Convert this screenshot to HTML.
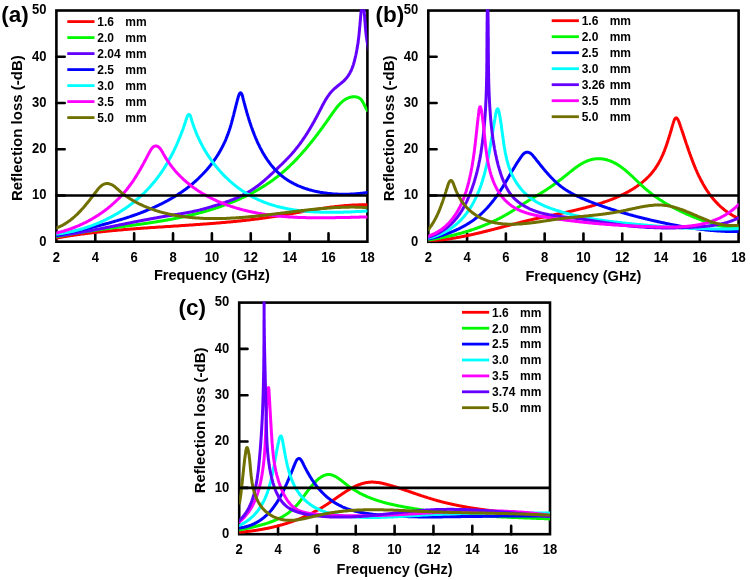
<!DOCTYPE html><html><head><meta charset="utf-8"><style>html,body{margin:0;padding:0;background:#fff;}svg{display:block;will-change:transform;filter:blur(0.3px);}text{font-family:"Liberation Sans",sans-serif;font-weight:bold;fill:#000;}</style></head><body>
<svg width="750" height="580" viewBox="0 0 750 580">
<rect width="750" height="580" fill="#fff"/>
<defs><clipPath id="c0"><rect x="56.40" y="9.30" width="311.00" height="232.40"/></clipPath></defs>
<rect x="56.40" y="10.50" width="311.00" height="231.20" fill="none" stroke="#000" stroke-width="2.6"/>
<path d="M95.28,241.70V233.40 M134.15,241.70V233.40 M173.03,241.70V233.40 M211.90,241.70V233.40 M250.78,241.70V233.40 M289.65,241.70V233.40 M328.52,241.70V233.40 M56.40,195.46H64.70 M56.40,149.22H64.70 M56.40,102.98H64.70 M56.40,56.74H64.70" stroke="#000" stroke-width="2.6" stroke-linecap="round" fill="none"/>
<text transform="translate(56.40,261.60) scale(0.930,1)" font-size="14.0" text-anchor="middle">2</text>
<text transform="translate(95.28,261.60) scale(0.930,1)" font-size="14.0" text-anchor="middle">4</text>
<text transform="translate(134.15,261.60) scale(0.930,1)" font-size="14.0" text-anchor="middle">6</text>
<text transform="translate(173.03,261.60) scale(0.930,1)" font-size="14.0" text-anchor="middle">8</text>
<text transform="translate(211.90,261.60) scale(0.930,1)" font-size="14.0" text-anchor="middle">10</text>
<text transform="translate(250.78,261.60) scale(0.930,1)" font-size="14.0" text-anchor="middle">12</text>
<text transform="translate(289.65,261.60) scale(0.930,1)" font-size="14.0" text-anchor="middle">14</text>
<text transform="translate(328.52,261.60) scale(0.930,1)" font-size="14.0" text-anchor="middle">16</text>
<text transform="translate(367.40,261.60) scale(0.930,1)" font-size="14.0" text-anchor="middle">18</text>
<text transform="translate(46.40,245.50) scale(0.930,1)" font-size="14.0" text-anchor="end">0</text>
<text transform="translate(46.40,199.26) scale(0.930,1)" font-size="14.0" text-anchor="end">10</text>
<text transform="translate(46.40,153.02) scale(0.930,1)" font-size="14.0" text-anchor="end">20</text>
<text transform="translate(46.40,106.78) scale(0.930,1)" font-size="14.0" text-anchor="end">30</text>
<text transform="translate(46.40,60.54) scale(0.930,1)" font-size="14.0" text-anchor="end">40</text>
<text transform="translate(46.40,14.30) scale(0.930,1)" font-size="14.0" text-anchor="end">50</text>
<g clip-path="url(#c0)" fill="none" stroke-width="3" stroke-linejoin="round" stroke-linecap="round">
<path d="M56.4,238.0L57.1,237.9 57.8,237.8 58.5,237.6 59.2,237.5 59.9,237.4 60.6,237.3 61.2,237.2 61.9,237.0 62.6,236.9 63.3,236.8 64.0,236.7 64.7,236.6 65.4,236.5 66.1,236.4 66.8,236.3 67.5,236.1 68.2,236.0 68.9,235.9 69.6,235.8 70.3,235.7 71.0,235.6 71.7,235.5 72.4,235.4 73.0,235.3 73.7,235.2 74.4,235.1 75.1,235.0 75.8,234.9 76.5,234.8 77.2,234.7 77.9,234.6 78.6,234.5 79.3,234.4 80.0,234.3 80.7,234.2 81.4,234.1 82.1,234.0 82.8,233.9 83.5,233.9 84.2,233.8 84.9,233.7 85.6,233.6 86.3,233.5 87.0,233.4 87.7,233.3 88.4,233.2 89.1,233.2 89.8,233.1 90.5,233.0 91.1,232.9 91.8,232.8 92.5,232.7 93.2,232.7 93.9,232.6 94.6,232.5 95.3,232.4 96.0,232.3 96.7,232.3 97.4,232.2 98.1,232.1 98.8,232.0 99.5,232.0 100.2,231.9 100.9,231.8 101.6,231.7 102.3,231.7 103.0,231.6 103.7,231.5 104.4,231.4 105.1,231.4 105.8,231.3 106.5,231.2 107.2,231.2 107.9,231.1 108.6,231.0 109.3,230.9 110.0,230.9 110.7,230.8 111.4,230.7 112.1,230.7 112.8,230.6 113.5,230.6 114.2,230.5 114.9,230.4 115.6,230.4 116.3,230.3 117.0,230.2 117.7,230.2 118.4,230.1 119.1,230.0 119.8,230.0 120.5,229.9 121.2,229.9 121.9,229.8 122.6,229.7 123.3,229.7 124.0,229.6 124.7,229.6 125.4,229.5 126.1,229.5 126.8,229.4 127.5,229.3 128.2,229.3 128.9,229.2 129.6,229.2 130.3,229.1 131.0,229.1 131.7,229.0 132.4,229.0 133.1,228.9 133.8,228.8 134.5,228.8 135.2,228.7 135.9,228.7 136.6,228.6 137.3,228.6 138.0,228.5 138.7,228.5 139.4,228.4 140.1,228.4 140.8,228.3 141.5,228.3 142.2,228.2 142.9,228.2 143.6,228.1 144.3,228.1 145.0,228.0 145.7,228.0 146.4,227.9 147.1,227.9 147.8,227.8 148.5,227.8 149.2,227.7 149.9,227.7 150.6,227.6 151.3,227.6 152.0,227.5 152.7,227.5 153.4,227.5 154.1,227.4 154.8,227.4 155.5,227.3 156.2,227.3 156.9,227.2 157.6,227.2 158.3,227.1 159.0,227.1 159.7,227.0 160.4,227.0 161.1,226.9 161.8,226.9 162.6,226.9 163.3,226.8 164.0,226.8 164.7,226.7 165.4,226.7 166.1,226.6 166.8,226.6 167.5,226.5 168.2,226.5 168.9,226.4 169.6,226.4 170.3,226.4 171.0,226.3 171.7,226.3 172.4,226.2 173.1,226.2 173.8,226.1 174.5,226.1 175.2,226.0 175.9,226.0 176.6,225.9 177.3,225.9 178.0,225.9 178.7,225.8 179.4,225.8 180.1,225.7 180.8,225.7 181.5,225.6 182.2,225.6 182.9,225.5 183.6,225.5 184.3,225.4 185.0,225.4 185.7,225.3 186.4,225.3 187.1,225.3 187.8,225.2 188.5,225.2 189.2,225.1 189.9,225.1 190.6,225.0 191.3,225.0 192.0,224.9 192.7,224.9 193.4,224.8 194.1,224.8 194.8,224.7 195.5,224.7 196.2,224.6 196.9,224.6 197.6,224.5 198.3,224.5 199.0,224.4 199.7,224.4 200.4,224.3 201.1,224.3 201.8,224.2 202.5,224.2 203.2,224.1 203.9,224.1 204.6,224.0 205.3,224.0 206.0,223.9 206.7,223.9 207.4,223.8 208.1,223.8 208.8,223.7 209.5,223.7 210.2,223.6 210.9,223.6 211.6,223.5 212.3,223.4 213.0,223.4 213.7,223.3 214.4,223.3 215.1,223.2 215.8,223.2 216.5,223.1 217.2,223.0 217.9,223.0 218.6,222.9 219.3,222.9 220.0,222.8 220.7,222.8 221.4,222.7 222.1,222.6 222.8,222.6 223.5,222.5 224.2,222.4 224.9,222.4 225.6,222.3 226.3,222.3 227.0,222.2 227.7,222.1 228.4,222.1 229.1,222.0 229.8,221.9 230.5,221.9 231.2,221.8 231.9,221.7 232.6,221.7 233.3,221.6 234.0,221.5 234.7,221.5 235.4,221.4 236.1,221.3 236.8,221.3 237.5,221.2 238.2,221.1 238.9,221.0 239.6,221.0 240.3,220.9 241.0,220.8 241.7,220.7 242.4,220.7 243.1,220.6 243.8,220.5 244.5,220.4 245.2,220.4 245.9,220.3 246.6,220.2 247.3,220.1 248.0,220.1 248.7,220.0 249.4,219.9 250.1,219.8 250.8,219.7 251.4,219.6 252.1,219.6 252.8,219.5 253.5,219.4 254.2,219.3 254.9,219.2 255.6,219.1 256.3,219.0 257.0,219.0 257.7,218.9 258.4,218.8 259.1,218.7 259.8,218.6 260.5,218.5 261.2,218.4 261.9,218.3 262.6,218.2 263.3,218.1 264.0,218.0 264.7,217.9 265.4,217.8 266.1,217.7 266.8,217.6 267.4,217.5 268.1,217.4 268.8,217.3 269.5,217.2 270.2,217.1 270.9,217.0 271.6,216.9 272.3,216.8 273.0,216.7 273.7,216.6 274.4,216.5 275.1,216.4 275.8,216.3 276.5,216.2 277.2,216.0 277.8,215.9 278.5,215.8 279.2,215.7 279.9,215.6 280.6,215.5 281.3,215.4 282.0,215.2 282.7,215.1 283.4,215.0 284.1,214.9 284.8,214.8 285.5,214.7 286.2,214.5 286.8,214.4 287.5,214.3 288.2,214.2 288.9,214.1 289.6,213.9 290.3,213.8 291.0,213.7 291.7,213.6 292.4,213.5 293.1,213.3 293.8,213.2 294.5,213.1 295.1,213.0 295.8,212.8 296.5,212.7 297.2,212.6 297.9,212.5 298.6,212.4 299.3,212.2 300.0,212.1 300.7,212.0 301.4,211.9 302.1,211.7 302.8,211.6 303.4,211.5 304.1,211.4 304.8,211.3 305.5,211.1 306.2,211.0 306.9,210.9 307.6,210.8 308.3,210.7 309.0,210.5 309.7,210.4 310.4,210.3 311.0,210.2 311.7,210.1 312.4,210.0 313.1,209.9 313.8,209.7 314.5,209.6 315.2,209.5 315.9,209.4 316.6,209.3 317.3,209.2 318.0,209.1 318.7,209.0 319.3,208.8 320.0,208.7 320.7,208.6 321.4,208.5 322.1,208.4 322.8,208.3 323.5,208.2 324.2,208.1 324.9,208.0 325.6,207.9 326.3,207.8 327.0,207.7 327.7,207.6 328.4,207.5 329.0,207.4 329.7,207.3 330.4,207.2 331.1,207.1 331.8,207.1 332.5,207.0 333.2,206.9 333.9,206.8 334.6,206.7 335.3,206.6 336.0,206.5 336.7,206.5 337.4,206.4 338.1,206.3 338.8,206.2 339.5,206.2 340.2,206.1 340.8,206.0 341.5,205.9 342.2,205.9 342.9,205.8 343.6,205.8 344.3,205.7 345.0,205.6 345.7,205.6 346.4,205.5 347.1,205.5 347.8,205.4 348.5,205.4 349.2,205.3 349.9,205.3 350.6,205.2 351.3,205.2 352.0,205.1 352.7,205.1 353.4,205.1 354.1,205.0 354.8,205.0 355.5,205.0 356.2,204.9 356.9,204.9 357.6,204.9 358.3,204.9 359.0,204.8 359.7,204.8 360.4,204.8 361.1,204.8 361.8,204.8 362.5,204.8 363.2,204.8 363.9,204.8 364.6,204.8 365.3,204.8 366.0,204.8 366.7,204.8 367.4,204.8" stroke="#ff0000"/>
<path d="M56.4,236.8L57.1,236.7 57.8,236.5 58.5,236.4 59.1,236.2 59.8,236.1 60.5,236.0 61.2,235.8 61.9,235.7 62.6,235.6 63.3,235.5 63.9,235.3 64.6,235.2 65.3,235.1 66.0,234.9 66.7,234.8 67.4,234.7 68.1,234.6 68.8,234.4 69.5,234.3 70.1,234.2 70.8,234.1 71.5,234.0 72.2,233.8 72.9,233.7 73.6,233.6 74.3,233.5 75.0,233.4 75.7,233.3 76.4,233.1 77.1,233.0 77.7,232.9 78.4,232.8 79.1,232.7 79.8,232.6 80.5,232.5 81.2,232.4 81.9,232.3 82.6,232.1 83.3,232.0 84.0,231.9 84.7,231.8 85.4,231.7 86.1,231.6 86.8,231.5 87.4,231.4 88.1,231.3 88.8,231.2 89.5,231.1 90.2,231.0 90.9,230.9 91.6,230.8 92.3,230.7 93.0,230.6 93.7,230.5 94.4,230.4 95.1,230.3 95.8,230.2 96.5,230.1 97.2,230.0 97.9,229.9 98.6,229.8 99.3,229.7 100.0,229.6 100.7,229.5 101.3,229.4 102.0,229.3 102.7,229.2 103.4,229.1 104.1,229.1 104.8,229.0 105.5,228.9 106.2,228.8 106.9,228.7 107.6,228.6 108.3,228.5 109.0,228.4 109.7,228.3 110.4,228.2 111.1,228.1 111.8,228.0 112.5,227.9 113.2,227.8 113.9,227.8 114.6,227.7 115.3,227.6 116.0,227.5 116.7,227.4 117.4,227.3 118.1,227.2 118.8,227.1 119.5,227.0 120.2,226.9 120.9,226.8 121.6,226.7 122.2,226.6 122.9,226.6 123.6,226.5 124.3,226.4 125.0,226.3 125.7,226.2 126.4,226.1 127.1,226.0 127.8,225.9 128.5,225.8 129.2,225.7 129.9,225.6 130.6,225.5 131.3,225.4 132.0,225.3 132.7,225.2 133.4,225.2 134.1,225.1 134.8,225.0 135.5,224.9 136.2,224.8 136.9,224.7 137.6,224.6 138.3,224.5 139.0,224.4 139.7,224.3 140.4,224.2 141.1,224.1 141.7,224.0 142.4,223.9 143.1,223.8 143.8,223.7 144.5,223.6 145.2,223.5 145.9,223.4 146.6,223.3 147.3,223.2 148.0,223.1 148.7,223.0 149.4,222.9 150.1,222.8 150.8,222.7 151.5,222.6 152.2,222.4 152.9,222.3 153.6,222.2 154.3,222.1 154.9,222.0 155.6,221.9 156.3,221.8 157.0,221.7 157.7,221.6 158.4,221.5 159.1,221.3 159.8,221.2 160.5,221.1 161.2,221.0 161.9,220.9 162.6,220.8 163.3,220.6 163.9,220.5 164.6,220.4 165.3,220.3 166.0,220.2 166.7,220.0 167.4,219.9 168.1,219.8 168.8,219.7 169.5,219.5 170.2,219.4 170.8,219.3 171.5,219.2 172.2,219.0 172.9,218.9 173.6,218.8 174.3,218.6 175.0,218.5 175.7,218.4 176.3,218.2 177.0,218.1 177.7,218.0 178.4,217.8 179.1,217.7 179.8,217.5 180.5,217.4 181.2,217.2 181.8,217.1 182.5,217.0 183.2,216.8 183.9,216.7 184.6,216.5 185.3,216.4 185.9,216.2 186.6,216.1 187.3,215.9 188.0,215.7 188.7,215.6 189.4,215.4 190.0,215.3 190.7,215.1 191.4,215.0 192.1,214.8 192.8,214.6 193.4,214.5 194.1,214.3 194.8,214.1 195.5,214.0 196.2,213.8 196.8,213.6 197.5,213.4 198.2,213.3 198.9,213.1 199.6,212.9 200.2,212.7 200.9,212.5 201.6,212.4 202.3,212.2 202.9,212.0 203.6,211.8 204.3,211.6 205.0,211.4 205.6,211.2 206.3,211.0 207.0,210.8 207.7,210.6 208.3,210.4 209.0,210.2 209.7,210.0 210.3,209.8 211.0,209.6 211.7,209.4 212.4,209.2 213.0,209.0 213.7,208.8 214.4,208.6 215.0,208.4 215.7,208.2 216.4,207.9 217.0,207.7 217.7,207.5 218.4,207.3 219.0,207.0 219.7,206.8 220.4,206.6 221.0,206.3 221.7,206.1 222.4,205.9 223.0,205.6 223.7,205.4 224.3,205.2 225.0,204.9 225.7,204.7 226.3,204.4 227.0,204.2 227.6,203.9 228.3,203.7 229.0,203.4 229.6,203.2 230.3,202.9 230.9,202.7 231.6,202.4 232.2,202.1 232.9,201.9 233.5,201.6 234.2,201.3 234.8,201.1 235.5,200.8 236.1,200.5 236.8,200.2 237.4,200.0 238.1,199.7 238.7,199.4 239.4,199.1 240.0,198.8 240.6,198.5 241.3,198.2 241.9,197.9 242.5,197.7 243.2,197.4 243.8,197.1 244.5,196.8 245.1,196.5 245.7,196.1 246.3,195.8 247.0,195.5 247.6,195.2 248.2,194.9 248.9,194.6 249.5,194.3 250.1,194.0 250.7,193.6 251.3,193.3 252.0,193.0 252.6,192.7 253.2,192.3 253.8,192.0 254.4,191.7 255.0,191.3 255.7,191.0 256.3,190.6 256.9,190.3 257.5,189.9 258.1,189.6 258.7,189.3 259.3,188.9 259.9,188.5 260.5,188.2 261.1,187.8 261.7,187.5 262.3,187.1 262.9,186.7 263.5,186.4 264.0,186.0 264.6,185.6 265.2,185.3 265.8,184.9 266.4,184.5 267.0,184.1 267.5,183.7 268.1,183.3 268.7,183.0 269.3,182.6 269.8,182.2 270.4,181.8 271.0,181.4 271.6,181.0 272.1,180.6 272.7,180.2 273.2,179.8 273.8,179.4 274.4,178.9 274.9,178.5 275.5,178.1 276.0,177.7 276.6,177.3 277.1,176.8 277.7,176.4 278.2,176.0 278.7,175.6 279.3,175.1 279.8,174.7 280.4,174.2 280.9,173.8 281.4,173.4 282.0,172.9 282.5,172.5 283.0,172.0 283.5,171.6 284.1,171.1 284.6,170.7 285.1,170.2 285.6,169.7 286.1,169.3 286.6,168.8 287.2,168.3 287.7,167.9 288.2,167.4 288.7,166.9 289.2,166.5 289.7,166.0 290.2,165.5 290.7,165.0 291.2,164.5 291.7,164.0 292.2,163.6 292.7,163.1 293.2,162.6 293.7,162.1 294.2,161.6 294.6,161.1 295.1,160.6 295.6,160.1 296.1,159.6 296.6,159.1 297.1,158.6 297.5,158.1 298.0,157.6 298.5,157.0 299.0,156.5 299.5,156.0 299.9,155.5 300.4,155.0 300.9,154.5 301.3,153.9 301.8,153.4 302.3,152.9 302.7,152.4 303.2,151.8 303.7,151.3 304.1,150.8 304.6,150.2 305.1,149.7 305.5,149.2 306.0,148.6 306.4,148.1 306.9,147.5 307.3,147.0 307.8,146.5 308.2,145.9 308.7,145.4 309.1,144.8 309.6,144.3 310.0,143.7 310.5,143.2 310.9,142.6 311.4,142.1 311.8,141.5 312.3,140.9 312.7,140.4 313.1,139.8 313.6,139.3 314.0,138.7 314.5,138.1 314.9,137.6 315.3,137.0 315.8,136.4 316.2,135.9 316.6,135.3 317.1,134.7 317.5,134.2 317.9,133.6 318.4,133.0 318.8,132.4 319.2,131.8 319.7,131.3 320.1,130.7 320.5,130.1 321.0,129.5 321.4,128.9 321.8,128.4 322.2,127.8 322.7,127.2 323.1,126.6 323.5,126.0 323.9,125.4 324.3,124.8 324.8,124.3 325.2,123.7 325.6,123.1 326.0,122.5 326.5,121.9 326.9,121.3 327.3,120.7 327.7,120.1 328.1,119.5 328.6,118.9 329.0,118.3 329.4,117.7 329.8,117.1 330.2,116.5 330.6,115.9 331.1,115.3 331.5,114.7 331.9,114.1 332.3,113.5 332.7,112.9 333.1,112.3 333.6,111.7 334.0,111.2 334.4,110.6 334.8,110.0 335.3,109.4 335.7,108.8 336.1,108.3 336.6,107.7 337.0,107.2 337.4,106.6 337.9,106.1 338.3,105.6 338.8,105.1 339.2,104.6 339.7,104.1 340.2,103.6 340.6,103.1 341.1,102.7 341.6,102.2 342.1,101.8 342.5,101.4 343.0,101.0 343.5,100.6 344.1,100.2 344.6,99.8 345.1,99.5 345.6,99.2 346.2,98.9 346.7,98.6 347.2,98.3 347.8,98.1 348.4,97.8 348.9,97.6 349.5,97.4 350.1,97.3 350.7,97.1 351.3,97.0 351.9,96.9 352.6,96.8 353.2,96.8 353.9,96.8 354.5,96.8 355.2,96.8 355.8,96.9 356.4,97.0 357.1,97.1 357.7,97.3 358.3,97.5 358.9,97.8 359.5,98.2 360.1,98.6 360.6,99.0 361.1,99.5 361.6,100.1 362.0,100.7 362.4,101.3 362.8,102.0 363.2,102.7 363.6,103.4 364.0,104.1 364.3,104.9 364.7,105.6 365.0,106.3 365.3,107.0 365.7,107.7 366.0,108.3 366.3,108.9 366.7,109.5 367.0,110.0 367.4,110.5" stroke="#00f800"/>
<path d="M56.4,236.0L57.1,235.9 57.8,235.8 58.5,235.7 59.2,235.6 59.9,235.6 60.6,235.5 61.3,235.4 62.0,235.3 62.7,235.2 63.4,235.1 64.1,235.0 64.7,234.9 65.4,234.8 66.1,234.7 66.8,234.6 67.5,234.5 68.2,234.4 68.9,234.3 69.6,234.2 70.3,234.1 71.0,233.9 71.7,233.8 72.4,233.7 73.1,233.6 73.8,233.5 74.5,233.4 75.1,233.3 75.8,233.2 76.5,233.1 77.2,232.9 77.9,232.8 78.6,232.7 79.3,232.6 80.0,232.5 80.7,232.4 81.4,232.2 82.1,232.1 82.8,232.0 83.4,231.9 84.1,231.8 84.8,231.6 85.5,231.5 86.2,231.4 86.9,231.3 87.6,231.1 88.3,231.0 89.0,230.9 89.7,230.8 90.4,230.6 91.0,230.5 91.7,230.4 92.4,230.3 93.1,230.1 93.8,230.0 94.5,229.9 95.2,229.7 95.9,229.6 96.6,229.5 97.2,229.3 97.9,229.2 98.6,229.1 99.3,228.9 100.0,228.8 100.7,228.7 101.4,228.5 102.1,228.4 102.8,228.3 103.4,228.1 104.1,228.0 104.8,227.9 105.5,227.7 106.2,227.6 106.9,227.5 107.6,227.3 108.3,227.2 108.9,227.1 109.6,226.9 110.3,226.8 111.0,226.6 111.7,226.5 112.4,226.4 113.1,226.2 113.8,226.1 114.5,226.0 115.1,225.8 115.8,225.7 116.5,225.5 117.2,225.4 117.9,225.3 118.6,225.1 119.3,225.0 120.0,224.8 120.6,224.7 121.3,224.6 122.0,224.4 122.7,224.3 123.4,224.2 124.1,224.0 124.8,223.9 125.5,223.7 126.1,223.6 126.8,223.5 127.5,223.3 128.2,223.2 128.9,223.0 129.6,222.9 130.3,222.8 131.0,222.6 131.7,222.5 132.3,222.4 133.0,222.2 133.7,222.1 134.4,222.0 135.1,221.8 135.8,221.7 136.5,221.5 137.2,221.4 137.8,221.3 138.5,221.1 139.2,221.0 139.9,220.9 140.6,220.7 141.3,220.6 142.0,220.5 142.7,220.3 143.4,220.2 144.0,220.1 144.7,219.9 145.4,219.8 146.1,219.7 146.8,219.6 147.5,219.4 148.2,219.3 148.9,219.2 149.6,219.0 150.2,218.9 150.9,218.8 151.6,218.7 152.3,218.5 153.0,218.4 153.7,218.3 154.4,218.2 155.1,218.0 155.8,217.9 156.5,217.8 157.1,217.7 157.8,217.5 158.5,217.4 159.2,217.3 159.9,217.2 160.6,217.1 161.3,216.9 162.0,216.8 162.7,216.7 163.4,216.6 164.1,216.5 164.7,216.4 165.4,216.2 166.1,216.1 166.8,216.0 167.5,215.9 168.2,215.8 168.9,215.7 169.6,215.6 170.3,215.5 171.0,215.4 171.7,215.2 172.4,215.1 173.1,215.0 173.7,214.9 174.4,214.8 175.1,214.7 175.8,214.6 176.5,214.5 177.2,214.4 177.9,214.2 178.6,214.1 179.3,214.0 180.0,213.9 180.7,213.8 181.4,213.7 182.0,213.5 182.7,213.4 183.4,213.3 184.1,213.2 184.8,213.1 185.5,212.9 186.2,212.8 186.9,212.7 187.6,212.6 188.2,212.4 188.9,212.3 189.6,212.2 190.3,212.0 191.0,211.9 191.7,211.8 192.4,211.6 193.0,211.5 193.7,211.3 194.4,211.2 195.1,211.0 195.8,210.9 196.5,210.7 197.1,210.6 197.8,210.4 198.5,210.3 199.2,210.1 199.9,209.9 200.5,209.7 201.2,209.6 201.9,209.4 202.6,209.2 203.3,209.0 203.9,208.9 204.6,208.7 205.3,208.5 206.0,208.3 206.6,208.1 207.3,207.9 208.0,207.7 208.7,207.5 209.3,207.3 210.0,207.1 210.7,206.9 211.4,206.7 212.0,206.5 212.7,206.3 213.4,206.1 214.0,205.9 214.7,205.7 215.4,205.5 216.1,205.3 216.7,205.1 217.4,204.9 218.1,204.7 218.7,204.5 219.4,204.3 220.1,204.0 220.8,203.8 221.4,203.6 222.1,203.4 222.8,203.2 223.4,202.9 224.1,202.7 224.8,202.5 225.4,202.3 226.1,202.0 226.8,201.8 227.4,201.5 228.1,201.3 228.7,201.1 229.4,200.8 230.1,200.6 230.7,200.3 231.4,200.1 232.0,199.8 232.7,199.6 233.3,199.3 234.0,199.0 234.6,198.8 235.3,198.5 235.9,198.2 236.6,198.0 237.2,197.7 237.8,197.4 238.5,197.1 239.1,196.8 239.7,196.5 240.4,196.2 241.0,195.9 241.6,195.6 242.3,195.3 242.9,195.0 243.5,194.7 244.1,194.4 244.7,194.1 245.4,193.7 246.0,193.4 246.6,193.1 247.2,192.7 247.8,192.4 248.4,192.0 249.0,191.7 249.6,191.3 250.2,191.0 250.8,190.6 251.4,190.2 252.0,189.9 252.5,189.5 253.1,189.1 253.7,188.7 254.3,188.3 254.8,187.9 255.4,187.5 256.0,187.1 256.5,186.7 257.1,186.3 257.7,185.9 258.2,185.4 258.8,185.0 259.3,184.6 259.9,184.1 260.4,183.7 261.0,183.3 261.5,182.8 262.1,182.4 262.6,181.9 263.1,181.5 263.7,181.0 264.2,180.6 264.7,180.1 265.3,179.6 265.8,179.2 266.3,178.7 266.9,178.3 267.4,177.8 267.9,177.3 268.4,176.8 269.0,176.4 269.5,175.9 270.0,175.4 270.5,174.9 271.0,174.4 271.6,174.0 272.1,173.5 272.6,173.0 273.1,172.5 273.6,172.0 274.1,171.5 274.6,171.0 275.2,170.6 275.7,170.1 276.2,169.6 276.7,169.1 277.2,168.6 277.7,168.1 278.2,167.6 278.7,167.1 279.2,166.7 279.7,166.2 280.2,165.7 280.8,165.2 281.3,164.7 281.8,164.2 282.3,163.7 282.8,163.2 283.3,162.7 283.8,162.2 284.3,161.7 284.8,161.2 285.3,160.8 285.7,160.3 286.2,159.8 286.7,159.3 287.2,158.8 287.7,158.2 288.2,157.7 288.7,157.2 289.1,156.7 289.6,156.2 290.1,155.7 290.6,155.2 291.0,154.7 291.5,154.2 292.0,153.6 292.4,153.1 292.9,152.6 293.4,152.1 293.8,151.5 294.3,151.0 294.7,150.5 295.2,149.9 295.6,149.4 296.0,148.9 296.5,148.3 296.9,147.8 297.3,147.2 297.8,146.7 298.2,146.1 298.6,145.6 299.0,145.0 299.5,144.5 299.9,143.9 300.3,143.3 300.7,142.8 301.1,142.2 301.5,141.6 301.9,141.1 302.3,140.5 302.7,139.9 303.1,139.3 303.5,138.8 303.9,138.2 304.3,137.6 304.7,137.0 305.1,136.4 305.5,135.8 305.8,135.3 306.2,134.7 306.6,134.1 307.0,133.5 307.4,132.9 307.7,132.3 308.1,131.7 308.5,131.1 308.8,130.5 309.2,129.9 309.6,129.3 309.9,128.7 310.3,128.1 310.6,127.5 311.0,126.9 311.3,126.3 311.7,125.7 312.1,125.1 312.4,124.4 312.7,123.8 313.1,123.2 313.4,122.6 313.8,122.0 314.1,121.4 314.5,120.8 314.8,120.1 315.1,119.5 315.5,118.9 315.8,118.3 316.2,117.7 316.5,117.0 316.8,116.4 317.2,115.8 317.5,115.2 317.8,114.5 318.1,113.9 318.5,113.3 318.8,112.7 319.1,112.0 319.4,111.4 319.8,110.8 320.1,110.2 320.4,109.5 320.7,108.9 321.1,108.3 321.4,107.6 321.7,107.0 322.0,106.4 322.3,105.8 322.7,105.1 323.0,104.5 323.3,103.9 323.7,103.3 324.0,102.7 324.3,102.1 324.7,101.4 325.0,100.8 325.4,100.2 325.7,99.6 326.1,99.0 326.5,98.5 326.8,97.9 327.2,97.3 327.6,96.7 328.0,96.1 328.4,95.6 328.8,95.0 329.2,94.5 329.6,93.9 330.0,93.4 330.5,92.8 330.9,92.3 331.4,91.8 331.8,91.3 332.3,90.8 332.8,90.3 333.3,89.8 333.8,89.3 334.3,88.8 334.8,88.3 335.4,87.9 335.9,87.4 336.5,87.0 337.0,86.5 337.6,86.1 338.1,85.6 338.7,85.2 339.2,84.7 339.8,84.3 340.3,83.9 340.9,83.4 341.4,83.0 342.0,82.5 342.5,82.0 343.0,81.6 343.6,81.1 344.1,80.6 344.6,80.1 345.1,79.6 345.5,79.1 346.0,78.6 346.4,78.1 346.9,77.5 347.3,77.0 347.7,76.4 348.1,75.9 348.5,75.3 348.8,74.7 349.2,74.1 349.6,73.5 349.9,72.9 350.2,72.3 350.5,71.7 350.9,71.1 351.2,70.5 351.4,69.8 351.7,69.2 352.0,68.5 352.2,67.9 352.5,67.2 352.7,66.6 353.0,65.9 353.2,65.2 353.4,64.6 353.6,63.9 353.8,63.2 354.0,62.5 354.2,61.8 354.4,61.2 354.5,60.5 354.7,59.8 354.9,59.1 355.0,58.4 355.2,57.7 355.4,57.0 355.5,56.3 355.7,55.6 355.8,55.0 356.0,54.3 356.1,53.6 356.3,52.9 356.4,52.2 356.5,51.5 356.7,50.8 356.8,50.1 356.9,49.4 357.1,48.7 357.2,48.1 357.3,47.4 357.4,46.7 357.5,46.0 357.6,45.3 357.7,44.6 357.9,43.9 358.0,43.2 358.1,42.5 358.2,41.8 358.2,41.1 358.3,40.4 358.4,39.7 358.5,39.0 358.6,38.3 358.7,37.6 358.8,36.9 358.8,36.3 358.9,35.6 359.0,34.9 359.1,34.2 359.1,33.5 359.2,32.8 359.3,32.1 359.3,31.4 359.4,30.7 359.5,30.0 359.5,29.3 359.6,28.6 359.7,27.9 359.7,27.2 359.8,26.5 359.9,25.8 359.9,25.1 360.0,24.4 360.0,23.7 360.1,23.0 360.2,22.3 360.2,21.6 360.3,20.9 360.3,20.2 360.4,19.5 360.5,18.8 360.5,18.1 360.6,17.4 360.6,16.7 360.7,16.0 360.8,15.3 360.8,14.6 360.9,13.9 361.0,13.2 361.0,12.5 361.1,11.8 361.2,11.1 361.3,10.4 361.3,9.7 361.4,9.0 361.5,8.3 361.6,7.6 361.6,7.0 361.7,6.3 361.8,5.6 361.9,4.9 362.0,4.2 362.1,3.5 362.2,2.8 362.3,2.1 362.4,1.4 362.5,0.7 362.6,-0.0 362.7,0.7 362.8,1.4 363.0,2.1 363.1,2.8 363.2,3.5 363.3,4.2 363.4,4.9 363.5,5.6 363.6,6.3 363.7,7.0 363.7,7.7 363.8,8.4 363.9,9.1 364.0,9.8 364.1,10.5 364.1,11.2 364.2,12.0 364.3,12.7 364.3,13.4 364.4,14.1 364.4,14.8 364.5,15.5 364.6,16.2 364.6,16.9 364.7,17.6 364.7,18.3 364.8,19.0 364.8,19.7 364.9,20.4 364.9,21.2 365.0,21.9 365.1,22.6 365.1,23.3 365.2,24.0 365.2,24.7 365.3,25.4 365.3,26.1 365.4,26.8 365.4,27.5 365.5,28.2 365.6,28.9 365.6,29.7 365.7,30.4 365.7,31.1 365.8,31.8 365.9,32.5 366.0,33.2 366.0,33.9 366.1,34.6 366.2,35.3 366.3,36.0 366.4,36.7 366.5,37.4 366.6,38.1 366.7,38.8 366.8,39.5 366.9,40.2 367.0,40.9 367.1,41.6 367.2,42.3 367.4,43.0 367.5,43.7 367.6,44.4 367.8,45.1 367.9,45.8 368.1,46.5 368.2,47.2 368.4,47.9 368.6,48.6 368.7,49.2 368.9,49.9 369.1,50.6 369.3,51.3 369.5,52.0" stroke="#6400ff"/>
<path d="M56.4,235.5L57.1,235.4 57.7,235.2 58.4,235.1 59.0,234.9 59.7,234.8 60.3,234.6 61.0,234.5 61.7,234.3 62.3,234.2 63.0,234.0 63.6,233.9 64.3,233.7 65.0,233.6 65.6,233.4 66.3,233.3 67.0,233.1 67.6,233.0 68.3,232.8 69.0,232.7 69.6,232.5 70.3,232.4 71.0,232.2 71.7,232.1 72.3,231.9 73.0,231.8 73.7,231.6 74.4,231.5 75.0,231.3 75.7,231.2 76.4,231.0 77.1,230.8 77.8,230.7 78.4,230.5 79.1,230.4 79.8,230.2 80.5,230.1 81.2,229.9 81.8,229.8 82.5,229.6 83.2,229.4 83.9,229.3 84.6,229.1 85.3,229.0 85.9,228.8 86.6,228.6 87.3,228.5 88.0,228.3 88.7,228.1 89.4,228.0 90.1,227.8 90.7,227.7 91.4,227.5 92.1,227.3 92.8,227.2 93.5,227.0 94.2,226.8 94.9,226.6 95.6,226.5 96.3,226.3 96.9,226.1 97.6,226.0 98.3,225.8 99.0,225.6 99.7,225.4 100.4,225.3 101.1,225.1 101.8,224.9 102.5,224.7 103.2,224.5 103.9,224.4 104.5,224.2 105.2,224.0 105.9,223.8 106.6,223.6 107.3,223.4 108.0,223.3 108.7,223.1 109.4,222.9 110.1,222.7 110.8,222.5 111.4,222.3 112.1,222.1 112.8,221.9 113.5,221.7 114.2,221.5 114.9,221.3 115.6,221.1 116.3,220.9 117.0,220.7 117.6,220.5 118.3,220.3 119.0,220.1 119.7,219.9 120.4,219.7 121.1,219.5 121.8,219.3 122.4,219.1 123.1,218.9 123.8,218.7 124.5,218.4 125.2,218.2 125.9,218.0 126.5,217.8 127.2,217.6 127.9,217.3 128.6,217.1 129.3,216.9 129.9,216.7 130.6,216.4 131.3,216.2 132.0,216.0 132.6,215.7 133.3,215.5 134.0,215.3 134.7,215.0 135.3,214.8 136.0,214.6 136.7,214.3 137.3,214.1 138.0,213.8 138.7,213.6 139.4,213.3 140.0,213.1 140.7,212.8 141.4,212.6 142.0,212.3 142.7,212.1 143.3,211.8 144.0,211.5 144.7,211.3 145.3,211.0 146.0,210.8 146.6,210.5 147.3,210.2 148.0,209.9 148.6,209.7 149.3,209.4 149.9,209.1 150.6,208.8 151.2,208.6 151.9,208.3 152.5,208.0 153.2,207.7 153.8,207.4 154.5,207.1 155.1,206.8 155.7,206.5 156.4,206.2 157.0,206.0 157.7,205.7 158.3,205.3 158.9,205.0 159.6,204.7 160.2,204.4 160.8,204.1 161.5,203.8 162.1,203.5 162.7,203.2 163.3,202.9 164.0,202.5 164.6,202.2 165.2,201.9 165.8,201.6 166.4,201.2 167.1,200.9 167.7,200.6 168.3,200.2 168.9,199.9 169.5,199.5 170.1,199.2 170.7,198.8 171.3,198.5 171.9,198.1 172.5,197.8 173.1,197.4 173.7,197.1 174.3,196.7 174.9,196.4 175.5,196.0 176.1,195.6 176.7,195.3 177.3,194.9 177.9,194.5 178.5,194.1 179.0,193.7 179.6,193.4 180.2,193.0 180.8,192.6 181.4,192.2 181.9,191.8 182.5,191.4 183.1,191.0 183.6,190.6 184.2,190.2 184.8,189.8 185.3,189.4 185.9,189.0 186.4,188.6 187.0,188.2 187.5,187.7 188.1,187.3 188.6,186.9 189.2,186.5 189.7,186.0 190.3,185.6 190.8,185.2 191.4,184.7 191.9,184.3 192.4,183.8 193.0,183.4 193.5,182.9 194.0,182.5 194.5,182.0 195.1,181.6 195.6,181.1 196.1,180.6 196.6,180.2 197.1,179.7 197.6,179.2 198.1,178.7 198.6,178.3 199.1,177.8 199.6,177.3 200.1,176.8 200.6,176.3 201.1,175.8 201.6,175.3 202.1,174.8 202.6,174.3 203.1,173.8 203.5,173.3 204.0,172.8 204.5,172.3 205.0,171.8 205.4,171.3 205.9,170.8 206.3,170.2 206.8,169.7 207.3,169.2 207.7,168.6 208.2,168.1 208.6,167.6 209.1,167.0 209.5,166.5 209.9,166.0 210.4,165.4 210.8,164.9 211.2,164.3 211.6,163.8 212.1,163.2 212.5,162.6 212.9,162.1 213.3,161.5 213.7,161.0 214.1,160.4 214.5,159.8 214.9,159.2 215.3,158.7 215.7,158.1 216.1,157.5 216.5,156.9 216.9,156.3 217.2,155.8 217.6,155.2 218.0,154.6 218.4,154.0 218.7,153.4 219.1,152.8 219.4,152.2 219.8,151.6 220.1,151.0 220.5,150.4 220.8,149.8 221.2,149.1 221.5,148.5 221.8,147.9 222.1,147.3 222.5,146.7 222.8,146.0 223.1,145.4 223.4,144.8 223.7,144.2 224.0,143.5 224.3,142.9 224.6,142.3 224.9,141.6 225.2,141.0 225.5,140.3 225.7,139.7 226.0,139.1 226.3,138.4 226.5,137.8 226.8,137.1 227.1,136.4 227.3,135.8 227.6,135.1 227.8,134.5 228.1,133.8 228.3,133.1 228.5,132.5 228.8,131.8 229.0,131.1 229.2,130.5 229.4,129.8 229.6,129.1 229.9,128.5 230.1,127.8 230.3,127.1 230.5,126.4 230.7,125.7 230.9,125.1 231.1,124.4 231.3,123.7 231.5,123.0 231.7,122.3 231.8,121.7 232.0,121.0 232.2,120.3 232.4,119.6 232.6,118.9 232.8,118.2 232.9,117.5 233.1,116.8 233.3,116.2 233.5,115.5 233.7,114.8 233.8,114.1 234.0,113.4 234.2,112.7 234.3,112.0 234.5,111.3 234.7,110.6 234.9,110.0 235.0,109.3 235.2,108.6 235.4,107.9 235.6,107.2 235.7,106.5 235.9,105.8 236.1,105.1 236.3,104.5 236.4,103.8 236.6,103.1 236.8,102.4 237.0,101.7 237.1,101.0 237.3,100.4 237.5,99.7 237.7,99.0 237.9,98.3 238.1,97.7 238.2,97.0 238.6,95.9 238.9,95.1 239.2,94.3 239.5,93.7 239.8,93.3 240.1,93.0 240.4,92.8 240.7,92.8 241.0,92.9 241.2,93.2 241.5,93.6 241.8,94.2 242.1,94.9 242.4,95.8 242.7,96.8 242.8,97.5 243.0,98.2 243.2,98.8 243.3,99.5 243.5,100.2 243.7,100.8 243.9,101.5 244.0,102.2 244.2,102.9 244.4,103.5 244.6,104.2 244.8,104.9 244.9,105.6 245.1,106.3 245.3,106.9 245.5,107.6 245.7,108.3 245.9,109.0 246.1,109.7 246.3,110.4 246.5,111.1 246.6,111.7 246.8,112.4 247.0,113.1 247.2,113.8 247.4,114.5 247.6,115.2 247.9,115.9 248.1,116.6 248.3,117.2 248.5,117.9 248.7,118.6 248.9,119.3 249.1,120.0 249.3,120.7 249.6,121.4 249.8,122.1 250.0,122.7 250.2,123.4 250.5,124.1 250.7,124.8 250.9,125.5 251.2,126.2 251.4,126.9 251.6,127.5 251.9,128.2 252.1,128.9 252.4,129.6 252.6,130.3 252.9,130.9 253.1,131.6 253.4,132.3 253.7,133.0 253.9,133.6 254.2,134.3 254.4,135.0 254.7,135.7 255.0,136.3 255.3,137.0 255.5,137.7 255.8,138.3 256.1,139.0 256.4,139.6 256.7,140.3 257.0,141.0 257.2,141.6 257.5,142.3 257.8,142.9 258.1,143.6 258.4,144.2 258.8,144.8 259.1,145.5 259.4,146.1 259.7,146.8 260.0,147.4 260.3,148.0 260.7,148.7 261.0,149.3 261.3,149.9 261.7,150.5 262.0,151.1 262.3,151.8 262.7,152.4 263.0,153.0 263.4,153.6 263.7,154.2 264.1,154.8 264.5,155.4 264.8,156.0 265.2,156.6 265.6,157.2 265.9,157.8 266.3,158.3 266.7,158.9 267.1,159.5 267.5,160.1 267.9,160.6 268.3,161.2 268.7,161.8 269.1,162.3 269.5,162.9 269.9,163.4 270.3,164.0 270.7,164.5 271.2,165.0 271.6,165.6 272.0,166.1 272.5,166.6 272.9,167.1 273.4,167.6 273.8,168.2 274.3,168.7 274.7,169.2 275.2,169.7 275.6,170.2 276.1,170.6 276.6,171.1 277.1,171.6 277.5,172.1 278.0,172.5 278.5,173.0 279.0,173.5 279.5,173.9 280.0,174.4 280.5,174.8 281.0,175.3 281.6,175.7 282.1,176.1 282.6,176.5 283.1,176.9 283.7,177.4 284.2,177.8 284.8,178.2 285.3,178.6 285.9,178.9 286.4,179.3 287.0,179.7 287.6,180.1 288.1,180.4 288.7,180.8 289.3,181.2 289.9,181.5 290.5,181.9 291.1,182.2 291.7,182.5 292.3,182.9 292.9,183.2 293.5,183.5 294.1,183.8 294.7,184.1 295.3,184.4 295.9,184.7 296.6,185.0 297.2,185.3 297.8,185.6 298.5,185.9 299.1,186.1 299.8,186.4 300.4,186.7 301.0,186.9 301.7,187.2 302.4,187.4 303.0,187.7 303.7,187.9 304.3,188.2 305.0,188.4 305.7,188.6 306.3,188.8 307.0,189.0 307.7,189.3 308.4,189.5 309.0,189.7 309.7,189.9 310.4,190.0 311.1,190.2 311.8,190.4 312.5,190.6 313.2,190.8 313.9,190.9 314.6,191.1 315.3,191.3 316.0,191.4 316.7,191.6 317.4,191.7 318.1,191.9 318.8,192.0 319.5,192.1 320.2,192.3 320.9,192.4 321.6,192.5 322.3,192.6 323.0,192.7 323.7,192.8 324.5,192.9 325.2,193.0 325.9,193.1 326.6,193.2 327.3,193.3 328.1,193.4 328.8,193.5 329.5,193.6 330.2,193.6 330.9,193.7 331.7,193.8 332.4,193.8 333.1,193.9 333.8,193.9 334.5,194.0 335.3,194.0 336.0,194.1 336.7,194.1 337.4,194.1 338.1,194.2 338.9,194.2 339.6,194.2 340.3,194.2 341.0,194.2 341.7,194.3 342.5,194.3 343.2,194.3 343.9,194.3 344.6,194.3 345.3,194.3 346.0,194.3 346.8,194.2 347.5,194.2 348.2,194.2 348.9,194.2 349.6,194.2 350.3,194.1 351.0,194.1 351.7,194.1 352.4,194.0 353.1,194.0 353.8,193.9 354.5,193.9 355.2,193.8 355.9,193.8 356.6,193.7 357.3,193.7 358.0,193.6 358.7,193.5 359.4,193.5 360.0,193.4 360.7,193.3 361.4,193.2 362.1,193.2 362.8,193.1 363.4,193.0 364.1,192.9 364.8,192.8 365.4,192.7 366.1,192.6 366.7,192.5 367.4,192.4" stroke="#0000ff"/>
<path d="M56.4,234.2L57.1,234.1 57.8,234.0 58.5,233.9 59.2,233.8 59.9,233.7 60.7,233.6 61.4,233.5 62.1,233.4 62.8,233.3 63.5,233.1 64.2,233.0 64.9,232.9 65.6,232.8 66.3,232.6 67.0,232.5 67.7,232.4 68.4,232.2 69.1,232.1 69.8,231.9 70.5,231.8 71.2,231.6 71.9,231.5 72.6,231.3 73.3,231.2 74.0,231.0 74.7,230.8 75.4,230.7 76.0,230.5 76.7,230.3 77.4,230.1 78.1,229.9 78.8,229.8 79.5,229.6 80.2,229.4 80.8,229.2 81.5,229.0 82.2,228.8 82.9,228.6 83.6,228.4 84.2,228.2 84.9,227.9 85.6,227.7 86.3,227.5 86.9,227.3 87.6,227.1 88.3,226.8 89.0,226.6 89.6,226.4 90.3,226.1 91.0,225.9 91.6,225.7 92.3,225.4 92.9,225.2 93.6,224.9 94.3,224.7 94.9,224.4 95.6,224.1 96.2,223.9 96.9,223.6 97.5,223.4 98.2,223.1 98.8,222.8 99.5,222.5 100.1,222.3 100.8,222.0 101.4,221.7 102.1,221.4 102.7,221.1 103.4,220.8 104.0,220.5 104.6,220.2 105.3,219.9 105.9,219.6 106.5,219.3 107.2,219.0 107.8,218.7 108.4,218.4 109.0,218.0 109.7,217.7 110.3,217.4 110.9,217.1 111.5,216.7 112.1,216.4 112.8,216.1 113.4,215.7 114.0,215.4 114.6,215.0 115.2,214.7 115.8,214.4 116.4,214.0 117.0,213.6 117.6,213.3 118.2,212.9 118.8,212.6 119.4,212.2 120.0,211.8 120.6,211.5 121.2,211.1 121.8,210.7 122.4,210.3 122.9,209.9 123.5,209.6 124.1,209.2 124.7,208.8 125.3,208.4 125.8,208.0 126.4,207.6 127.0,207.2 127.5,206.8 128.1,206.4 128.7,206.0 129.2,205.6 129.8,205.2 130.3,204.7 130.9,204.3 131.5,203.9 132.0,203.5 132.6,203.0 133.1,202.6 133.7,202.2 134.2,201.7 134.7,201.3 135.3,200.9 135.8,200.4 136.3,200.0 136.9,199.5 137.4,199.1 137.9,198.6 138.5,198.2 139.0,197.7 139.5,197.2 140.0,196.8 140.5,196.3 141.0,195.9 141.6,195.4 142.1,194.9 142.6,194.4 143.1,194.0 143.6,193.5 144.1,193.0 144.6,192.5 145.1,192.0 145.5,191.5 146.0,191.0 146.5,190.5 147.0,190.0 147.5,189.5 148.0,189.0 148.4,188.5 148.9,188.0 149.4,187.5 149.9,187.0 150.3,186.5 150.8,185.9 151.2,185.4 151.7,184.9 152.2,184.4 152.6,183.8 153.1,183.3 153.5,182.8 153.9,182.2 154.4,181.7 154.8,181.2 155.3,180.6 155.7,180.1 156.1,179.5 156.5,179.0 157.0,178.4 157.4,177.9 157.8,177.3 158.2,176.8 158.6,176.2 159.1,175.6 159.5,175.1 159.9,174.5 160.3,173.9 160.7,173.3 161.1,172.8 161.5,172.2 161.9,171.6 162.3,171.0 162.6,170.5 163.0,169.9 163.4,169.3 163.8,168.7 164.2,168.1 164.5,167.5 164.9,166.9 165.3,166.3 165.7,165.7 166.0,165.1 166.4,164.5 166.7,163.9 167.1,163.3 167.5,162.7 167.8,162.1 168.2,161.5 168.5,160.9 168.9,160.3 169.2,159.6 169.5,159.0 169.9,158.4 170.2,157.8 170.6,157.2 170.9,156.6 171.2,155.9 171.5,155.3 171.9,154.7 172.2,154.0 172.5,153.4 172.8,152.8 173.2,152.2 173.5,151.5 173.8,150.9 174.1,150.2 174.4,149.6 174.7,149.0 175.0,148.3 175.3,147.7 175.6,147.0 175.9,146.4 176.2,145.8 176.5,145.1 176.8,144.5 177.1,143.8 177.3,143.2 177.6,142.5 177.9,141.9 178.2,141.2 178.5,140.6 178.7,139.9 179.0,139.2 179.3,138.6 179.6,137.9 179.8,137.3 180.1,136.6 180.3,136.0 180.6,135.3 180.9,134.6 181.1,134.0 181.4,133.3 181.6,132.6 181.9,132.0 182.1,131.3 182.4,130.7 182.6,130.0 182.9,129.3 183.1,128.7 183.3,128.0 183.6,127.3 183.8,126.7 184.0,126.0 184.3,125.3 184.5,124.6 184.7,124.0 185.0,123.3 185.2,122.6 185.4,122.0 185.6,121.3 185.8,120.6 186.1,119.9 186.3,119.3 186.5,118.6 186.8,117.6 187.2,116.7 187.5,116.0 187.8,115.4 188.1,115.0 188.4,114.7 188.8,114.5 189.1,114.5 189.4,114.6 189.7,114.8 190.0,115.2 190.3,115.7 190.6,116.4 190.9,117.2 191.1,118.1 191.3,118.8 191.5,119.5 191.7,120.2 191.9,120.9 192.1,121.5 192.4,122.2 192.6,122.9 192.8,123.6 193.0,124.2 193.2,124.9 193.5,125.6 193.7,126.3 193.9,126.9 194.2,127.6 194.4,128.3 194.7,128.9 194.9,129.6 195.2,130.3 195.4,130.9 195.7,131.6 195.9,132.2 196.2,132.9 196.5,133.5 196.8,134.2 197.0,134.9 197.3,135.5 197.6,136.2 197.9,136.8 198.2,137.4 198.5,138.1 198.8,138.7 199.1,139.4 199.4,140.0 199.7,140.7 200.0,141.3 200.3,141.9 200.6,142.6 200.9,143.2 201.3,143.8 201.6,144.4 201.9,145.1 202.3,145.7 202.6,146.3 202.9,146.9 203.3,147.6 203.6,148.2 204.0,148.8 204.3,149.4 204.7,150.0 205.0,150.6 205.4,151.2 205.8,151.8 206.1,152.4 206.5,153.0 206.9,153.6 207.2,154.2 207.6,154.8 208.0,155.4 208.4,156.0 208.8,156.6 209.2,157.2 209.6,157.8 210.0,158.3 210.4,158.9 210.8,159.5 211.2,160.1 211.6,160.6 212.0,161.2 212.4,161.8 212.8,162.3 213.3,162.9 213.7,163.5 214.1,164.0 214.5,164.6 215.0,165.1 215.4,165.7 215.8,166.2 216.3,166.8 216.7,167.3 217.2,167.8 217.6,168.4 218.1,168.9 218.5,169.4 219.0,170.0 219.4,170.5 219.9,171.0 220.4,171.5 220.8,172.1 221.3,172.6 221.8,173.1 222.3,173.6 222.7,174.1 223.2,174.6 223.7,175.1 224.2,175.6 224.7,176.1 225.2,176.6 225.7,177.1 226.2,177.6 226.7,178.0 227.2,178.5 227.7,179.0 228.2,179.5 228.7,180.0 229.2,180.4 229.7,180.9 230.2,181.3 230.8,181.8 231.3,182.3 231.8,182.7 232.3,183.2 232.9,183.6 233.4,184.1 233.9,184.5 234.5,184.9 235.0,185.4 235.6,185.8 236.1,186.2 236.6,186.6 237.2,187.1 237.7,187.5 238.3,187.9 238.9,188.3 239.4,188.7 240.0,189.1 240.5,189.5 241.1,189.9 241.7,190.3 242.2,190.7 242.8,191.1 243.4,191.5 244.0,191.8 244.6,192.2 245.1,192.6 245.7,193.0 246.3,193.3 246.9,193.7 247.5,194.0 248.1,194.4 248.7,194.7 249.3,195.1 249.9,195.4 250.5,195.8 251.1,196.1 251.7,196.4 252.3,196.8 252.9,197.1 253.5,197.4 254.1,197.7 254.7,198.0 255.3,198.3 256.0,198.6 256.6,198.9 257.2,199.2 257.8,199.5 258.5,199.8 259.1,200.1 259.7,200.4 260.4,200.6 261.0,200.9 261.6,201.2 262.3,201.4 262.9,201.7 263.6,202.0 264.2,202.2 264.9,202.5 265.5,202.7 266.1,202.9 266.8,203.2 267.5,203.4 268.1,203.6 268.8,203.9 269.4,204.1 270.1,204.3 270.7,204.5 271.4,204.7 272.1,204.9 272.7,205.1 273.4,205.3 274.1,205.5 274.7,205.7 275.4,205.9 276.1,206.1 276.8,206.3 277.4,206.5 278.1,206.7 278.8,206.8 279.5,207.0 280.2,207.2 280.8,207.3 281.5,207.5 282.2,207.6 282.9,207.8 283.6,208.0 284.3,208.1 285.0,208.2 285.7,208.4 286.3,208.5 287.0,208.7 287.7,208.8 288.4,208.9 289.1,209.1 289.8,209.2 290.5,209.3 291.2,209.4 291.9,209.5 292.6,209.7 293.3,209.8 294.0,209.9 294.7,210.0 295.4,210.1 296.1,210.2 296.8,210.3 297.5,210.4 298.3,210.5 299.0,210.6 299.7,210.6 300.4,210.7 301.1,210.8 301.8,210.9 302.5,211.0 303.2,211.0 303.9,211.1 304.6,211.2 305.4,211.2 306.1,211.3 306.8,211.4 307.5,211.4 308.2,211.5 308.9,211.6 309.6,211.6 310.4,211.7 311.1,211.7 311.8,211.8 312.5,211.8 313.2,211.8 313.9,211.9 314.7,211.9 315.4,212.0 316.1,212.0 316.8,212.0 317.5,212.1 318.2,212.1 319.0,212.1 319.7,212.1 320.4,212.2 321.1,212.2 321.8,212.2 322.5,212.2 323.3,212.3 324.0,212.3 324.7,212.3 325.4,212.3 326.1,212.3 326.9,212.3 327.6,212.3 328.3,212.3 329.0,212.3 329.7,212.3 330.4,212.3 331.1,212.3 331.9,212.3 332.6,212.3 333.3,212.3 334.0,212.3 334.7,212.3 335.4,212.3 336.1,212.3 336.9,212.3 337.6,212.3 338.3,212.3 339.0,212.3 339.7,212.2 340.4,212.2 341.1,212.2 341.8,212.2 342.5,212.2 343.2,212.2 344.0,212.1 344.7,212.1 345.4,212.1 346.1,212.1 346.8,212.0 347.5,212.0 348.2,212.0 348.9,212.0 349.6,211.9 350.3,211.9 351.0,211.9 351.7,211.8 352.4,211.8 353.1,211.8 353.8,211.7 354.4,211.7 355.1,211.7 355.8,211.6 356.5,211.6 357.2,211.6 357.9,211.5 358.6,211.5 359.3,211.5 360.0,211.4 360.6,211.4 361.3,211.4 362.0,211.3 362.7,211.3 363.4,211.2 364.0,211.2 364.7,211.2 365.4,211.1 366.1,211.1 366.7,211.0 367.4,211.0" stroke="#00ffff"/>
<path d="M56.4,233.0L57.1,232.8 57.8,232.7 58.5,232.5 59.2,232.3 59.9,232.1 60.6,231.9 61.3,231.7 62.0,231.6 62.7,231.4 63.3,231.2 64.0,231.0 64.7,230.7 65.4,230.5 66.1,230.3 66.8,230.1 67.4,229.9 68.1,229.7 68.8,229.4 69.5,229.2 70.1,229.0 70.8,228.7 71.5,228.5 72.2,228.2 72.8,228.0 73.5,227.7 74.2,227.5 74.8,227.2 75.5,227.0 76.1,226.7 76.8,226.4 77.4,226.2 78.1,225.9 78.8,225.6 79.4,225.3 80.0,225.0 80.7,224.7 81.3,224.4 82.0,224.1 82.6,223.8 83.3,223.5 83.9,223.2 84.5,222.9 85.2,222.6 85.8,222.3 86.4,222.0 87.1,221.7 87.7,221.3 88.3,221.0 88.9,220.7 89.5,220.3 90.2,220.0 90.8,219.6 91.4,219.3 92.0,219.0 92.6,218.6 93.2,218.2 93.8,217.9 94.4,217.5 95.0,217.2 95.6,216.8 96.2,216.4 96.8,216.0 97.4,215.7 98.0,215.3 98.6,214.9 99.2,214.5 99.8,214.1 100.3,213.7 100.9,213.3 101.5,212.9 102.1,212.5 102.6,212.1 103.2,211.7 103.8,211.3 104.3,210.9 104.9,210.5 105.5,210.1 106.0,209.6 106.6,209.2 107.1,208.8 107.7,208.3 108.2,207.9 108.8,207.5 109.3,207.0 109.8,206.6 110.4,206.1 110.9,205.7 111.4,205.2 112.0,204.8 112.5,204.3 113.0,203.8 113.5,203.4 114.1,202.9 114.6,202.4 115.1,202.0 115.6,201.5 116.1,201.0 116.6,200.5 117.1,200.0 117.6,199.5 118.1,199.0 118.6,198.6 119.1,198.1 119.6,197.6 120.1,197.1 120.6,196.5 121.0,196.0 121.5,195.5 122.0,195.0 122.5,194.5 122.9,194.0 123.4,193.4 123.9,192.9 124.3,192.4 124.8,191.9 125.2,191.3 125.7,190.8 126.1,190.2 126.6,189.7 127.0,189.2 127.4,188.6 127.9,188.1 128.3,187.5 128.7,186.9 129.2,186.4 129.6,185.8 130.0,185.3 130.4,184.7 130.8,184.1 131.2,183.6 131.7,183.0 132.1,182.4 132.5,181.8 132.9,181.2 133.3,180.7 133.6,180.1 134.0,179.5 134.4,178.9 134.8,178.3 135.2,177.7 135.6,177.1 135.9,176.5 136.3,175.9 136.7,175.3 137.1,174.7 137.4,174.1 137.8,173.5 138.2,172.9 138.5,172.3 138.9,171.7 139.2,171.0 139.6,170.4 140.0,169.8 140.3,169.2 140.7,168.6 141.0,168.0 141.4,167.3 141.7,166.7 142.1,166.1 142.4,165.5 142.7,164.9 143.1,164.2 143.4,163.6 143.8,163.0 144.1,162.4 144.4,161.7 144.8,161.1 145.1,160.5 145.4,159.9 145.8,159.2 146.1,158.6 146.4,158.0 146.8,157.4 147.1,156.7 147.4,156.1 147.7,155.5 148.1,154.9 148.4,154.2 148.7,153.6 149.1,153.0 149.4,152.4 149.7,151.7 150.5,150.3 151.4,149.0 152.2,148.0 153.0,147.1 153.9,146.5 154.7,146.1 155.6,145.9 156.4,146.0 157.3,146.2 158.1,146.7 159.0,147.3 159.8,148.2 160.7,149.3 161.6,150.6 162.4,152.1 162.8,152.8 163.1,153.4 163.4,154.0 163.8,154.6 164.1,155.2 164.5,155.8 164.9,156.5 165.2,157.1 165.6,157.7 166.0,158.3 166.3,158.9 166.7,159.5 167.1,160.0 167.5,160.6 167.9,161.2 168.3,161.8 168.7,162.4 169.1,162.9 169.5,163.5 169.9,164.1 170.3,164.6 170.7,165.2 171.1,165.8 171.5,166.3 172.0,166.9 172.4,167.4 172.8,168.0 173.3,168.5 173.7,169.0 174.2,169.6 174.6,170.1 175.0,170.6 175.5,171.2 176.0,171.7 176.4,172.2 176.9,172.7 177.4,173.2 177.8,173.7 178.3,174.2 178.8,174.7 179.3,175.2 179.7,175.7 180.2,176.2 180.7,176.7 181.2,177.2 181.7,177.7 182.2,178.1 182.7,178.6 183.2,179.1 183.7,179.6 184.2,180.0 184.7,180.5 185.2,180.9 185.8,181.4 186.3,181.9 186.8,182.3 187.3,182.7 187.9,183.2 188.4,183.6 188.9,184.1 189.5,184.5 190.0,184.9 190.6,185.3 191.1,185.8 191.6,186.2 192.2,186.6 192.8,187.0 193.3,187.4 193.9,187.8 194.4,188.2 195.0,188.6 195.6,189.0 196.1,189.4 196.7,189.8 197.3,190.2 197.8,190.5 198.4,190.9 199.0,191.3 199.6,191.7 200.2,192.0 200.8,192.4 201.3,192.8 201.9,193.1 202.5,193.5 203.1,193.8 203.7,194.2 204.3,194.5 204.9,194.9 205.5,195.2 206.1,195.5 206.7,195.9 207.3,196.2 208.0,196.5 208.6,196.9 209.2,197.2 209.8,197.5 210.4,197.8 211.0,198.1 211.7,198.4 212.3,198.7 212.9,199.0 213.5,199.3 214.2,199.6 214.8,199.9 215.4,200.2 216.1,200.5 216.7,200.8 217.3,201.1 218.0,201.4 218.6,201.6 219.3,201.9 219.9,202.2 220.6,202.4 221.2,202.7 221.9,203.0 222.5,203.2 223.2,203.5 223.8,203.7 224.5,204.0 225.1,204.2 225.8,204.5 226.4,204.7 227.1,205.0 227.8,205.2 228.4,205.4 229.1,205.7 229.7,205.9 230.4,206.1 231.1,206.4 231.7,206.6 232.4,206.8 233.1,207.0 233.8,207.2 234.4,207.4 235.1,207.6 235.8,207.9 236.5,208.1 237.1,208.3 237.8,208.5 238.5,208.6 239.2,208.8 239.8,209.0 240.5,209.2 241.2,209.4 241.9,209.6 242.6,209.8 243.2,209.9 243.9,210.1 244.6,210.3 245.3,210.5 246.0,210.6 246.7,210.8 247.4,211.0 248.0,211.1 248.7,211.3 249.4,211.4 250.1,211.6 250.8,211.7 251.5,211.9 252.2,212.0 252.9,212.2 253.6,212.3 254.3,212.5 255.0,212.6 255.6,212.7 256.3,212.9 257.0,213.0 257.7,213.1 258.4,213.3 259.1,213.4 259.8,213.5 260.5,213.6 261.2,213.7 261.9,213.9 262.6,214.0 263.3,214.1 264.0,214.2 264.7,214.3 265.4,214.4 266.1,214.5 266.8,214.6 267.5,214.7 268.2,214.8 268.9,214.9 269.6,215.0 270.3,215.1 271.0,215.2 271.7,215.3 272.4,215.4 273.1,215.4 273.8,215.5 274.5,215.6 275.2,215.7 275.9,215.8 276.6,215.8 277.3,215.9 278.0,216.0 278.7,216.0 279.4,216.1 280.1,216.2 280.8,216.2 281.5,216.3 282.2,216.4 282.9,216.4 283.6,216.5 284.4,216.6 285.1,216.6 285.8,216.7 286.5,216.7 287.2,216.8 287.9,216.8 288.6,216.9 289.3,216.9 290.0,217.0 290.7,217.0 291.4,217.0 292.1,217.1 292.8,217.1 293.5,217.2 294.3,217.2 295.0,217.2 295.7,217.3 296.4,217.3 297.1,217.3 297.8,217.4 298.5,217.4 299.2,217.4 299.9,217.5 300.6,217.5 301.3,217.5 302.0,217.5 302.8,217.6 303.5,217.6 304.2,217.6 304.9,217.6 305.6,217.6 306.3,217.7 307.0,217.7 307.7,217.7 308.4,217.7 309.1,217.7 309.8,217.7 310.6,217.7 311.3,217.7 312.0,217.8 312.7,217.8 313.4,217.8 314.1,217.8 314.8,217.8 315.5,217.8 316.2,217.8 316.9,217.8 317.6,217.8 318.4,217.8 319.1,217.8 319.8,217.8 320.5,217.8 321.2,217.8 321.9,217.8 322.6,217.8 323.3,217.8 324.0,217.8 324.7,217.8 325.4,217.8 326.1,217.8 326.8,217.8 327.6,217.8 328.3,217.8 329.0,217.7 329.7,217.7 330.4,217.7 331.1,217.7 331.8,217.7 332.5,217.7 333.2,217.7 333.9,217.7 334.6,217.7 335.3,217.7 336.0,217.6 336.7,217.6 337.4,217.6 338.1,217.6 338.8,217.6 339.5,217.6 340.2,217.6 340.9,217.6 341.6,217.5 342.4,217.5 343.1,217.5 343.8,217.5 344.5,217.5 345.2,217.5 345.9,217.4 346.6,217.4 347.3,217.4 348.0,217.4 348.7,217.4 349.4,217.4 350.1,217.4 350.8,217.3 351.5,217.3 352.2,217.3 352.8,217.3 353.5,217.3 354.2,217.3 354.9,217.2 355.6,217.2 356.3,217.2 357.0,217.2 357.7,217.2 358.4,217.2 359.1,217.2 359.8,217.1 360.5,217.1 361.2,217.1 361.9,217.1 362.6,217.1 363.3,217.1 364.0,217.1 364.6,217.0 365.3,217.0 366.0,217.0 366.7,217.0 367.4,217.0" stroke="#ff00ff"/>
<path d="M56.4,228.0L57.1,227.7 57.8,227.4 58.5,227.2 59.1,226.9 59.8,226.6 60.5,226.2 61.1,225.9 61.8,225.6 62.4,225.3 63.0,224.9 63.6,224.6 64.3,224.2 64.9,223.9 65.5,223.5 66.1,223.1 66.7,222.7 67.3,222.3 67.9,221.9 68.4,221.5 69.0,221.1 69.6,220.7 70.2,220.3 70.7,219.9 71.3,219.4 71.8,219.0 72.4,218.6 72.9,218.1 73.4,217.7 74.0,217.2 74.5,216.8 75.0,216.3 75.5,215.8 76.0,215.3 76.5,214.9 77.1,214.4 77.6,213.9 78.1,213.4 78.5,212.9 79.0,212.4 79.5,211.9 80.0,211.4 80.5,210.9 81.0,210.4 81.4,209.8 81.9,209.3 82.4,208.8 82.9,208.3 83.3,207.7 83.8,207.2 84.2,206.7 84.7,206.1 85.1,205.6 85.6,205.1 86.0,204.5 86.5,204.0 86.9,203.4 87.4,202.9 87.8,202.3 88.3,201.8 88.7,201.2 89.2,200.7 89.6,200.1 90.0,199.5 90.5,199.0 90.9,198.4 91.3,197.9 91.8,197.3 92.2,196.7 92.6,196.2 93.1,195.6 93.5,195.1 93.9,194.5 94.3,193.9 94.8,193.4 95.2,192.8 95.6,192.3 96.1,191.7 96.5,191.1 96.9,190.6 97.4,190.0 97.8,189.5 98.2,188.9 99.3,187.6 100.5,186.5 101.6,185.6 102.8,184.8 103.9,184.2 105.1,183.8 106.4,183.6 107.6,183.6 108.9,183.8 110.2,184.1 111.5,184.6 112.8,185.3 114.2,186.2 115.5,187.3 116.9,188.5 117.4,189.0 118.0,189.5 118.5,190.0 119.0,190.4 119.5,190.9 120.0,191.4 120.6,191.8 121.1,192.3 121.6,192.7 122.2,193.1 122.7,193.6 123.2,194.0 123.8,194.4 124.3,194.8 124.9,195.2 125.5,195.6 126.0,196.0 126.6,196.4 127.1,196.8 127.7,197.2 128.3,197.6 128.9,198.0 129.4,198.4 130.0,198.7 130.6,199.1 131.2,199.5 131.8,199.8 132.4,200.2 133.0,200.5 133.6,200.9 134.2,201.2 134.8,201.5 135.4,201.9 136.0,202.2 136.6,202.5 137.2,202.8 137.8,203.2 138.4,203.5 139.0,203.8 139.7,204.1 140.3,204.4 140.9,204.7 141.5,205.0 142.2,205.2 142.8,205.5 143.4,205.8 144.0,206.1 144.7,206.4 145.3,206.6 146.0,206.9 146.6,207.2 147.2,207.4 147.9,207.7 148.5,207.9 149.2,208.2 149.8,208.4 150.5,208.7 151.1,208.9 151.8,209.1 152.4,209.4 153.1,209.6 153.7,209.8 154.4,210.0 155.0,210.3 155.7,210.5 156.3,210.7 157.0,210.9 157.7,211.1 158.3,211.3 159.0,211.5 159.7,211.7 160.3,211.9 161.0,212.1 161.7,212.3 162.3,212.4 163.0,212.6 163.7,212.8 164.3,213.0 165.0,213.1 165.7,213.3 166.4,213.5 167.0,213.6 167.7,213.8 168.4,213.9 169.1,214.1 169.8,214.2 170.4,214.4 171.1,214.5 171.8,214.7 172.5,214.8 173.2,215.0 173.9,215.1 174.5,215.2 175.2,215.3 175.9,215.5 176.6,215.6 177.3,215.7 178.0,215.8 178.7,215.9 179.4,216.0 180.1,216.2 180.8,216.3 181.5,216.4 182.2,216.5 182.9,216.6 183.6,216.7 184.3,216.7 185.0,216.8 185.7,216.9 186.4,217.0 187.1,217.1 187.8,217.2 188.5,217.3 189.2,217.3 189.9,217.4 190.6,217.5 191.3,217.5 192.0,217.6 192.7,217.7 193.4,217.7 194.1,217.8 194.8,217.8 195.5,217.9 196.2,218.0 196.9,218.0 197.6,218.1 198.3,218.1 199.0,218.1 199.8,218.2 200.5,218.2 201.2,218.3 201.9,218.3 202.6,218.3 203.3,218.4 204.0,218.4 204.7,218.4 205.4,218.4 206.2,218.5 206.9,218.5 207.6,218.5 208.3,218.5 209.0,218.5 209.7,218.5 210.4,218.6 211.1,218.6 211.9,218.6 212.6,218.6 213.3,218.6 214.0,218.6 214.7,218.6 215.4,218.6 216.1,218.6 216.9,218.6 217.6,218.6 218.3,218.6 219.0,218.5 219.7,218.5 220.4,218.5 221.1,218.5 221.9,218.5 222.6,218.5 223.3,218.5 224.0,218.4 224.7,218.4 225.4,218.4 226.1,218.4 226.9,218.3 227.6,218.3 228.3,218.3 229.0,218.2 229.7,218.2 230.4,218.2 231.1,218.1 231.8,218.1 232.5,218.1 233.3,218.0 234.0,218.0 234.7,217.9 235.4,217.9 236.1,217.8 236.8,217.8 237.5,217.8 238.2,217.7 238.9,217.7 239.6,217.6 240.4,217.6 241.1,217.5 241.8,217.4 242.5,217.4 243.2,217.3 243.9,217.3 244.6,217.2 245.3,217.2 246.0,217.1 246.7,217.0 247.4,217.0 248.1,216.9 248.8,216.8 249.5,216.8 250.2,216.7 250.9,216.6 251.6,216.6 252.3,216.5 253.0,216.4 253.7,216.4 254.4,216.3 255.1,216.2 255.8,216.2 256.5,216.1 257.2,216.0 257.9,215.9 258.6,215.9 259.3,215.8 260.0,215.7 260.7,215.6 261.4,215.6 262.1,215.5 262.8,215.4 263.5,215.3 264.2,215.2 264.9,215.2 265.6,215.1 266.3,215.0 267.0,214.9 267.7,214.8 268.4,214.7 269.1,214.7 269.8,214.6 270.5,214.5 271.2,214.4 271.9,214.3 272.6,214.2 273.3,214.2 273.9,214.1 274.6,214.0 275.3,213.9 276.0,213.8 276.7,213.7 277.4,213.6 278.1,213.5 278.8,213.5 279.5,213.4 280.2,213.3 280.9,213.2 281.6,213.1 282.3,213.0 283.0,212.9 283.7,212.9 284.3,212.8 285.0,212.7 285.7,212.6 286.4,212.5 287.1,212.4 287.8,212.3 288.5,212.2 289.2,212.2 289.9,212.1 290.6,212.0 291.3,211.9 292.0,211.8 292.6,211.7 293.3,211.6 294.0,211.5 294.7,211.5 295.4,211.4 296.1,211.3 296.8,211.2 297.5,211.1 298.2,211.0 298.9,211.0 299.6,210.9 300.3,210.8 300.9,210.7 301.6,210.6 302.3,210.5 303.0,210.5 303.7,210.4 304.4,210.3 305.1,210.2 305.8,210.2 306.5,210.1 307.2,210.0 307.9,209.9 308.6,209.8 309.2,209.8 309.9,209.7 310.6,209.6 311.3,209.5 312.0,209.5 312.7,209.4 313.4,209.3 314.1,209.3 314.8,209.2 315.5,209.1 316.2,209.1 316.9,209.0 317.6,208.9 318.3,208.9 318.9,208.8 319.6,208.7 320.3,208.7 321.0,208.6 321.7,208.5 322.4,208.5 323.1,208.4 323.8,208.4 324.5,208.3 325.2,208.3 325.9,208.2 326.6,208.2 327.3,208.1 328.0,208.0 328.7,208.0 329.4,208.0 330.1,207.9 330.8,207.9 331.5,207.8 332.2,207.8 332.9,207.7 333.6,207.7 334.3,207.6 334.9,207.6 335.6,207.6 336.3,207.5 337.0,207.5 337.7,207.5 338.4,207.4 339.1,207.4 339.8,207.4 340.5,207.4 341.2,207.3 341.9,207.3 342.6,207.3 343.3,207.3 344.0,207.2 344.7,207.2 345.5,207.2 346.2,207.2 346.9,207.2 347.6,207.2 348.3,207.2 349.0,207.2 349.7,207.1 350.4,207.1 351.1,207.1 351.8,207.1 352.5,207.1 353.2,207.1 353.9,207.1 354.6,207.1 355.3,207.2 356.0,207.2 356.7,207.2 357.4,207.2 358.2,207.2 358.9,207.2 359.6,207.2 360.3,207.3 361.0,207.3 361.7,207.3 362.4,207.3 363.1,207.4 363.8,207.4 364.5,207.4 365.3,207.5 366.0,207.5 366.7,207.6 367.4,207.6" stroke="#707000"/>
</g>
<path d="M56.40,195.46H367.40" stroke="#000" stroke-width="2.6"/>
<path d="M67.30,21.60H94.50" stroke="#ff0000" stroke-width="2.8"/>
<text x="97.30" y="25.90" font-size="12">1.6</text>
<text x="125.30" y="25.90" font-size="12">mm</text>
<path d="M67.30,37.60H94.50" stroke="#00f800" stroke-width="2.8"/>
<text x="97.30" y="41.90" font-size="12">2.0</text>
<text x="125.30" y="41.90" font-size="12">mm</text>
<path d="M67.30,53.60H94.50" stroke="#6400ff" stroke-width="2.8"/>
<text x="97.30" y="57.90" font-size="12">2.04</text>
<text x="125.30" y="57.90" font-size="12">mm</text>
<path d="M67.30,69.60H94.50" stroke="#0000ff" stroke-width="2.8"/>
<text x="97.30" y="73.90" font-size="12">2.5</text>
<text x="125.30" y="73.90" font-size="12">mm</text>
<path d="M67.30,85.60H94.50" stroke="#00ffff" stroke-width="2.8"/>
<text x="97.30" y="89.90" font-size="12">3.0</text>
<text x="125.30" y="89.90" font-size="12">mm</text>
<path d="M67.30,101.60H94.50" stroke="#ff00ff" stroke-width="2.8"/>
<text x="97.30" y="105.90" font-size="12">3.5</text>
<text x="125.30" y="105.90" font-size="12">mm</text>
<path d="M67.30,117.60H94.50" stroke="#707000" stroke-width="2.8"/>
<text x="97.30" y="121.90" font-size="12">5.0</text>
<text x="125.30" y="121.90" font-size="12">mm</text>
<text x="211.90" y="279.50" font-size="14.5" text-anchor="middle">Frequency (GHz)</text>
<text transform="translate(22.10,128.20) rotate(-90)" font-size="15" text-anchor="middle">Reflection loss (-dB)</text>
<text x="1.20" y="21.70" font-size="22.5">(a)</text>
<defs><clipPath id="c1"><rect x="428.30" y="9.35" width="310.30" height="232.45"/></clipPath></defs>
<rect x="428.30" y="10.55" width="310.30" height="231.25" fill="none" stroke="#000" stroke-width="2.6"/>
<path d="M467.09,241.80V233.50 M505.88,241.80V233.50 M544.66,241.80V233.50 M583.45,241.80V233.50 M622.24,241.80V233.50 M661.03,241.80V233.50 M699.81,241.80V233.50 M428.30,195.55H436.60 M428.30,149.30H436.60 M428.30,103.05H436.60 M428.30,56.80H436.60" stroke="#000" stroke-width="2.6" stroke-linecap="round" fill="none"/>
<text transform="translate(428.30,261.70) scale(0.930,1)" font-size="14.0" text-anchor="middle">2</text>
<text transform="translate(467.09,261.70) scale(0.930,1)" font-size="14.0" text-anchor="middle">4</text>
<text transform="translate(505.88,261.70) scale(0.930,1)" font-size="14.0" text-anchor="middle">6</text>
<text transform="translate(544.66,261.70) scale(0.930,1)" font-size="14.0" text-anchor="middle">8</text>
<text transform="translate(583.45,261.70) scale(0.930,1)" font-size="14.0" text-anchor="middle">10</text>
<text transform="translate(622.24,261.70) scale(0.930,1)" font-size="14.0" text-anchor="middle">12</text>
<text transform="translate(661.03,261.70) scale(0.930,1)" font-size="14.0" text-anchor="middle">14</text>
<text transform="translate(699.81,261.70) scale(0.930,1)" font-size="14.0" text-anchor="middle">16</text>
<text transform="translate(738.60,261.70) scale(0.930,1)" font-size="14.0" text-anchor="middle">18</text>
<text transform="translate(418.30,245.60) scale(0.930,1)" font-size="14.0" text-anchor="end">0</text>
<text transform="translate(418.30,199.35) scale(0.930,1)" font-size="14.0" text-anchor="end">10</text>
<text transform="translate(418.30,153.10) scale(0.930,1)" font-size="14.0" text-anchor="end">20</text>
<text transform="translate(418.30,106.85) scale(0.930,1)" font-size="14.0" text-anchor="end">30</text>
<text transform="translate(418.30,60.60) scale(0.930,1)" font-size="14.0" text-anchor="end">40</text>
<text transform="translate(418.30,14.35) scale(0.930,1)" font-size="14.0" text-anchor="end">50</text>
<g clip-path="url(#c1)" fill="none" stroke-width="3" stroke-linejoin="round" stroke-linecap="round">
<path d="M428.2,241.0L428.9,241.0 429.6,240.9 430.3,240.9 431.0,240.8 431.7,240.8 432.5,240.7 433.2,240.7 433.9,240.6 434.6,240.6 435.3,240.5 436.0,240.5 436.7,240.4 437.4,240.3 438.1,240.3 438.8,240.2 439.5,240.1 440.2,240.0 440.9,240.0 441.6,239.9 442.3,239.8 443.0,239.7 443.7,239.6 444.4,239.5 445.1,239.5 445.8,239.4 446.5,239.3 447.2,239.2 447.9,239.1 448.6,239.0 449.3,238.9 450.0,238.8 450.7,238.7 451.4,238.6 452.0,238.4 452.7,238.3 453.4,238.2 454.1,238.1 454.8,238.0 455.5,237.9 456.2,237.7 456.9,237.6 457.6,237.5 458.3,237.4 459.0,237.3 459.6,237.1 460.3,237.0 461.0,236.9 461.7,236.7 462.4,236.6 463.1,236.5 463.8,236.3 464.5,236.2 465.1,236.0 465.8,235.9 466.5,235.8 467.2,235.6 467.9,235.5 468.6,235.3 469.3,235.2 469.9,235.0 470.6,234.9 471.3,234.7 472.0,234.6 472.7,234.4 473.4,234.3 474.0,234.1 474.7,234.0 475.4,233.8 476.1,233.6 476.8,233.5 477.5,233.3 478.1,233.2 478.8,233.0 479.5,232.8 480.2,232.7 480.9,232.5 481.5,232.3 482.2,232.2 482.9,232.0 483.6,231.8 484.3,231.7 484.9,231.5 485.6,231.3 486.3,231.2 487.0,231.0 487.7,230.8 488.3,230.6 489.0,230.5 489.7,230.3 490.4,230.1 491.1,230.0 491.7,229.8 492.4,229.6 493.1,229.4 493.8,229.3 494.5,229.1 495.1,228.9 495.8,228.7 496.5,228.5 497.2,228.4 497.8,228.2 498.5,228.0 499.2,227.8 499.9,227.7 500.6,227.5 501.2,227.3 501.9,227.1 502.6,227.0 503.3,226.8 503.9,226.6 504.6,226.4 505.3,226.2 506.0,226.1 506.7,225.9 507.3,225.7 508.0,225.5 508.7,225.4 509.4,225.2 510.1,225.0 510.7,224.8 511.4,224.6 512.1,224.5 512.8,224.3 513.5,224.1 514.1,223.9 514.8,223.8 515.5,223.6 516.2,223.4 516.9,223.3 517.5,223.1 518.2,222.9 518.9,222.7 519.6,222.6 520.3,222.4 520.9,222.2 521.6,222.1 522.3,221.9 523.0,221.7 523.7,221.6 524.3,221.4 525.0,221.2 525.7,221.1 526.4,220.9 527.1,220.7 527.8,220.6 528.4,220.4 529.1,220.2 529.8,220.1 530.5,219.9 531.2,219.8 531.9,219.6 532.5,219.5 533.2,219.3 533.9,219.1 534.6,219.0 535.3,218.8 536.0,218.7 536.7,218.5 537.3,218.4 538.0,218.2 538.7,218.1 539.4,217.9 540.1,217.8 540.8,217.6 541.5,217.5 542.1,217.3 542.8,217.2 543.5,217.1 544.2,216.9 544.9,216.8 545.6,216.6 546.3,216.5 547.0,216.3 547.6,216.2 548.3,216.0 549.0,215.9 549.7,215.7 550.4,215.6 551.1,215.5 551.8,215.3 552.5,215.2 553.1,215.0 553.8,214.9 554.5,214.7 555.2,214.6 555.9,214.4 556.6,214.3 557.3,214.2 558.0,214.0 558.7,213.9 559.3,213.7 560.0,213.6 560.7,213.4 561.4,213.3 562.1,213.1 562.8,213.0 563.5,212.8 564.2,212.7 564.8,212.5 565.5,212.4 566.2,212.2 566.9,212.1 567.6,211.9 568.3,211.8 569.0,211.6 569.6,211.5 570.3,211.3 571.0,211.2 571.7,211.0 572.4,210.9 573.1,210.7 573.8,210.5 574.4,210.4 575.1,210.2 575.8,210.1 576.5,209.9 577.2,209.7 577.9,209.6 578.5,209.4 579.2,209.2 579.9,209.1 580.6,208.9 581.3,208.7 582.0,208.6 582.6,208.4 583.3,208.2 584.0,208.0 584.7,207.9 585.4,207.7 586.0,207.5 586.7,207.3 587.4,207.1 588.1,207.0 588.8,206.8 589.4,206.6 590.1,206.4 590.8,206.2 591.5,206.0 592.2,205.8 592.8,205.6 593.5,205.4 594.2,205.2 594.9,205.0 595.5,204.8 596.2,204.6 596.9,204.4 597.6,204.2 598.2,204.0 598.9,203.8 599.6,203.6 600.2,203.4 600.9,203.2 601.6,202.9 602.3,202.7 602.9,202.5 603.6,202.3 604.3,202.0 604.9,201.8 605.6,201.6 606.3,201.3 606.9,201.1 607.6,200.9 608.3,200.6 608.9,200.4 609.6,200.1 610.3,199.9 610.9,199.6 611.6,199.4 612.2,199.1 612.9,198.9 613.5,198.6 614.2,198.3 614.8,198.1 615.5,197.8 616.1,197.5 616.8,197.2 617.4,197.0 618.1,196.7 618.7,196.4 619.4,196.1 620.0,195.8 620.6,195.5 621.3,195.2 621.9,194.9 622.5,194.6 623.2,194.3 623.8,194.0 624.4,193.7 625.0,193.4 625.7,193.1 626.3,192.7 626.9,192.4 627.5,192.1 628.1,191.8 628.7,191.4 629.3,191.1 629.9,190.7 630.5,190.4 631.1,190.0 631.7,189.7 632.3,189.3 632.9,189.0 633.5,188.6 634.1,188.2 634.6,187.9 635.2,187.5 635.8,187.1 636.4,186.7 636.9,186.3 637.5,185.9 638.0,185.5 638.6,185.1 639.1,184.7 639.7,184.3 640.2,183.9 640.8,183.5 641.3,183.1 641.8,182.6 642.4,182.2 642.9,181.8 643.4,181.3 643.9,180.9 644.4,180.4 645.0,180.0 645.5,179.5 646.0,179.1 646.5,178.6 646.9,178.1 647.4,177.7 647.9,177.2 648.4,176.7 648.9,176.2 649.3,175.7 649.8,175.2 650.3,174.7 650.7,174.2 651.2,173.7 651.6,173.2 652.0,172.6 652.5,172.1 652.9,171.6 653.3,171.0 653.7,170.5 654.2,169.9 654.6,169.4 655.0,168.8 655.4,168.3 655.8,167.7 656.1,167.1 656.5,166.5 656.9,166.0 657.3,165.4 657.6,164.8 658.0,164.2 658.4,163.6 658.7,162.9 659.0,162.3 659.4,161.7 659.7,161.1 660.1,160.5 660.4,159.8 660.7,159.2 661.0,158.5 661.3,157.9 661.6,157.2 661.9,156.6 662.2,155.9 662.5,155.3 662.8,154.6 663.1,154.0 663.4,153.3 663.7,152.6 663.9,151.9 664.2,151.3 664.5,150.6 664.7,149.9 665.0,149.2 665.2,148.5 665.5,147.9 665.8,147.2 666.0,146.5 666.2,145.8 666.5,145.1 666.7,144.4 667.0,143.7 667.2,143.0 667.4,142.3 667.7,141.6 667.9,140.9 668.1,140.2 668.3,139.5 668.5,138.8 668.8,138.1 669.0,137.4 669.2,136.7 669.4,136.0 669.6,135.3 669.8,134.7 670.0,134.0 670.2,133.3 670.4,132.6 670.7,131.9 670.9,131.2 671.1,130.5 671.3,129.8 671.5,129.1 671.7,128.4 671.9,127.8 672.1,127.1 672.2,126.4 672.4,125.7 672.6,125.1 672.8,124.4 673.0,123.7 673.2,123.1 673.4,122.4 673.8,121.3 674.1,120.4 674.5,119.6 674.8,119.0 675.2,118.5 675.5,118.1 675.9,117.9 676.3,117.9 676.6,118.0 677.0,118.3 677.4,118.7 677.7,119.2 678.1,119.9 678.5,120.8 678.9,121.8 679.1,122.4 679.4,123.1 679.6,123.7 679.8,124.4 680.1,125.1 680.3,125.7 680.5,126.4 680.7,127.0 681.0,127.7 681.2,128.4 681.4,129.0 681.7,129.7 681.9,130.4 682.1,131.0 682.3,131.7 682.6,132.4 682.8,133.0 683.0,133.7 683.2,134.4 683.5,135.1 683.7,135.7 683.9,136.4 684.1,137.1 684.4,137.8 684.6,138.4 684.8,139.1 685.0,139.8 685.3,140.5 685.5,141.1 685.7,141.8 685.9,142.5 686.2,143.2 686.4,143.9 686.6,144.5 686.9,145.2 687.1,145.9 687.3,146.6 687.6,147.3 687.8,147.9 688.0,148.6 688.3,149.3 688.5,150.0 688.7,150.7 689.0,151.3 689.2,152.0 689.4,152.7 689.7,153.4 689.9,154.0 690.2,154.7 690.4,155.4 690.7,156.1 690.9,156.8 691.2,157.4 691.4,158.1 691.7,158.8 691.9,159.4 692.2,160.1 692.4,160.8 692.7,161.5 692.9,162.1 693.2,162.8 693.5,163.5 693.7,164.1 694.0,164.8 694.3,165.5 694.5,166.1 694.8,166.8 695.1,167.4 695.3,168.1 695.6,168.8 695.9,169.4 696.2,170.1 696.5,170.7 696.8,171.4 697.0,172.0 697.3,172.7 697.6,173.3 697.9,173.9 698.2,174.6 698.5,175.2 698.8,175.9 699.1,176.5 699.4,177.1 699.8,177.8 700.1,178.4 700.4,179.0 700.7,179.7 701.0,180.3 701.4,180.9 701.7,181.5 702.0,182.1 702.4,182.7 702.7,183.4 703.0,184.0 703.4,184.6 703.7,185.2 704.1,185.8 704.4,186.4 704.8,187.0 705.1,187.6 705.5,188.2 705.9,188.8 706.2,189.3 706.6,189.9 707.0,190.5 707.4,191.1 707.8,191.6 708.2,192.2 708.6,192.8 708.9,193.3 709.3,193.9 709.8,194.5 710.2,195.0 710.6,195.6 711.0,196.1 711.4,196.7 711.8,197.2 712.3,197.7 712.7,198.3 713.1,198.8 713.6,199.3 714.0,199.9 714.5,200.4 714.9,200.9 715.4,201.4 715.9,201.9 716.3,202.4 716.8,202.9 717.3,203.4 717.8,203.9 718.2,204.4 718.7,204.9 719.2,205.3 719.7,205.8 720.2,206.3 720.8,206.8 721.3,207.2 721.8,207.7 722.3,208.1 722.8,208.6 723.4,209.0 723.9,209.5 724.5,209.9 725.0,210.3 725.6,210.7 726.1,211.2 726.7,211.6 727.3,212.0 727.9,212.4 728.5,212.8 729.0,213.2 729.6,213.6 730.2,214.0 730.8,214.3 731.5,214.7 732.1,215.1 732.7,215.5 733.3,215.8 734.0,216.2 734.6,216.5 735.3,216.9 735.9,217.2 736.6,217.5 737.2,217.9 737.9,218.2 738.6,218.5" stroke="#ff0000"/>
<path d="M428.2,240.0L428.9,239.9 429.6,239.8 430.3,239.7 431.0,239.6 431.7,239.5 432.4,239.3 433.1,239.2 433.8,239.1 434.5,239.0 435.2,238.9 435.9,238.8 436.6,238.6 437.2,238.5 437.9,238.4 438.6,238.3 439.3,238.1 440.0,238.0 440.7,237.9 441.4,237.7 442.1,237.6 442.8,237.5 443.5,237.3 444.2,237.2 444.9,237.0 445.5,236.9 446.2,236.7 446.9,236.6 447.6,236.5 448.3,236.3 449.0,236.1 449.7,236.0 450.3,235.8 451.0,235.7 451.7,235.5 452.4,235.4 453.1,235.2 453.8,235.0 454.4,234.9 455.1,234.7 455.8,234.5 456.5,234.3 457.2,234.2 457.8,234.0 458.5,233.8 459.2,233.6 459.9,233.5 460.6,233.3 461.2,233.1 461.9,232.9 462.6,232.7 463.2,232.5 463.9,232.3 464.6,232.1 465.3,231.9 465.9,231.7 466.6,231.5 467.3,231.3 467.9,231.1 468.6,230.9 469.3,230.7 469.9,230.5 470.6,230.3 471.3,230.0 471.9,229.8 472.6,229.6 473.3,229.4 473.9,229.2 474.6,228.9 475.2,228.7 475.9,228.5 476.6,228.2 477.2,228.0 477.9,227.8 478.5,227.5 479.2,227.3 479.8,227.0 480.5,226.8 481.1,226.5 481.8,226.3 482.4,226.0 483.1,225.8 483.7,225.5 484.4,225.2 485.0,225.0 485.7,224.7 486.3,224.4 487.0,224.2 487.6,223.9 488.2,223.6 488.9,223.3 489.5,223.1 490.2,222.8 490.8,222.5 491.4,222.2 492.1,221.9 492.7,221.6 493.3,221.3 494.0,221.0 494.6,220.7 495.2,220.4 495.8,220.1 496.5,219.8 497.1,219.5 497.7,219.2 498.3,218.9 499.0,218.6 499.6,218.3 500.2,217.9 500.8,217.6 501.5,217.3 502.1,216.9 502.7,216.6 503.3,216.3 503.9,215.9 504.5,215.6 505.1,215.3 505.7,214.9 506.4,214.6 507.0,214.2 507.6,213.9 508.2,213.5 508.8,213.1 509.4,212.8 510.0,212.4 510.6,212.1 511.2,211.7 511.8,211.3 512.4,210.9 513.0,210.6 513.6,210.2 514.1,209.8 514.7,209.4 515.3,209.1 515.9,208.7 516.5,208.3 517.1,207.9 517.7,207.5 518.3,207.1 518.9,206.8 519.5,206.4 520.1,206.0 520.7,205.6 521.2,205.2 521.8,204.8 522.4,204.4 523.0,204.1 523.6,203.7 524.2,203.3 524.8,202.9 525.4,202.5 526.0,202.1 526.6,201.8 527.2,201.4 527.8,201.0 528.4,200.7 529.0,200.3 529.6,199.9 530.2,199.5 530.8,199.2 531.4,198.8 532.0,198.5 532.6,198.1 533.2,197.7 533.8,197.4 534.4,197.0 535.0,196.7 535.6,196.3 536.2,196.0 536.8,195.6 537.4,195.3 538.0,194.9 538.6,194.5 539.2,194.2 539.8,193.8 540.4,193.5 541.0,193.1 541.6,192.7 542.2,192.4 542.8,192.0 543.4,191.6 543.9,191.3 544.5,190.9 545.1,190.5 545.7,190.1 546.3,189.8 546.9,189.4 547.4,189.0 548.0,188.6 548.6,188.2 549.2,187.8 549.7,187.5 550.3,187.1 550.9,186.7 551.4,186.3 552.0,185.9 552.6,185.5 553.1,185.1 553.7,184.7 554.3,184.3 554.8,183.9 555.4,183.5 556.0,183.0 556.5,182.6 557.1,182.2 557.7,181.8 558.2,181.4 558.8,181.0 559.3,180.5 559.9,180.1 560.4,179.7 561.0,179.3 561.6,178.8 562.1,178.4 562.7,178.0 563.2,177.5 563.8,177.1 564.3,176.7 564.9,176.2 565.5,175.8 566.0,175.3 566.6,174.9 567.1,174.4 567.7,174.0 568.2,173.5 568.8,173.1 569.4,172.6 569.9,172.2 570.5,171.7 571.0,171.3 571.6,170.8 572.2,170.4 572.7,169.9 573.3,169.5 573.9,169.0 574.4,168.6 575.0,168.2 575.6,167.7 576.2,167.3 576.7,166.9 577.3,166.5 577.9,166.1 578.5,165.7 579.1,165.3 579.7,164.9 580.3,164.5 580.9,164.2 581.5,163.8 582.1,163.5 582.7,163.1 583.3,162.8 583.9,162.5 584.5,162.1 585.2,161.8 585.8,161.6 586.4,161.3 587.1,161.0 587.7,160.8 588.4,160.5 589.0,160.3 589.7,160.1 590.3,159.9 591.0,159.7 591.7,159.5 592.3,159.4 593.0,159.2 593.7,159.1 594.4,159.0 595.0,158.9 595.7,158.8 596.4,158.8 597.1,158.7 597.8,158.7 598.4,158.7 599.1,158.7 599.8,158.7 600.5,158.8 601.2,158.8 601.9,158.9 602.5,159.0 603.2,159.1 603.9,159.2 604.6,159.3 605.3,159.5 605.9,159.6 606.6,159.8 607.3,160.0 607.9,160.2 608.6,160.4 609.2,160.6 609.9,160.8 610.5,161.1 611.2,161.3 611.8,161.6 612.4,161.9 613.0,162.2 613.6,162.5 614.3,162.8 614.9,163.1 615.5,163.4 616.1,163.7 616.7,164.1 617.2,164.4 617.8,164.8 618.4,165.2 619.0,165.5 619.6,165.9 620.1,166.3 620.7,166.7 621.3,167.1 621.8,167.5 622.4,167.9 622.9,168.3 623.5,168.8 624.0,169.2 624.6,169.6 625.1,170.1 625.7,170.5 626.2,171.0 626.8,171.5 627.3,171.9 627.8,172.4 628.4,172.9 628.9,173.3 629.4,173.8 629.9,174.3 630.5,174.8 631.0,175.3 631.5,175.7 632.0,176.2 632.6,176.7 633.1,177.2 633.6,177.7 634.1,178.2 634.6,178.7 635.2,179.2 635.7,179.7 636.2,180.2 636.7,180.7 637.2,181.2 637.8,181.7 638.3,182.2 638.8,182.7 639.3,183.2 639.8,183.7 640.4,184.2 640.9,184.7 641.4,185.2 641.9,185.7 642.5,186.2 643.0,186.6 643.5,187.1 644.1,187.6 644.6,188.1 645.1,188.5 645.7,189.0 646.2,189.5 646.8,189.9 647.3,190.4 647.9,190.8 648.4,191.3 649.0,191.7 649.5,192.2 650.1,192.6 650.6,193.1 651.2,193.5 651.7,193.9 652.3,194.3 652.9,194.8 653.4,195.2 654.0,195.6 654.5,196.0 655.1,196.4 655.7,196.8 656.3,197.2 656.8,197.6 657.4,198.0 658.0,198.4 658.6,198.8 659.1,199.2 659.7,199.6 660.3,200.0 660.9,200.3 661.5,200.7 662.1,201.1 662.7,201.5 663.3,201.8 663.8,202.2 664.4,202.6 665.0,202.9 665.6,203.3 666.2,203.6 666.8,204.0 667.4,204.3 668.0,204.7 668.6,205.0 669.3,205.4 669.9,205.7 670.5,206.0 671.1,206.4 671.7,206.7 672.3,207.0 672.9,207.4 673.5,207.7 674.1,208.0 674.8,208.3 675.4,208.7 676.0,209.0 676.6,209.3 677.2,209.6 677.9,209.9 678.5,210.2 679.1,210.5 679.7,210.8 680.4,211.1 681.0,211.4 681.6,211.7 682.3,212.0 682.9,212.3 683.5,212.6 684.2,212.9 684.8,213.2 685.4,213.5 686.1,213.8 686.7,214.1 687.4,214.3 688.0,214.6 688.6,214.9 689.3,215.2 689.9,215.4 690.6,215.7 691.2,216.0 691.9,216.3 692.5,216.5 693.1,216.8 693.8,217.1 694.4,217.3 695.1,217.6 695.7,217.9 696.4,218.1 697.0,218.4 697.7,218.6 698.4,218.9 699.0,219.1 699.7,219.4 700.3,219.7 701.0,219.9 701.6,220.2 702.3,220.4 703.0,220.6 703.6,220.9 704.3,221.1 704.9,221.4 705.6,221.6 706.3,221.8 706.9,222.1 707.6,222.3 708.3,222.5 708.9,222.8 709.6,223.0 710.3,223.2 710.9,223.4 711.6,223.6 712.3,223.8 712.9,224.0 713.6,224.2 714.3,224.4 715.0,224.6 715.6,224.8 716.3,225.0 717.0,225.1 717.7,225.3 718.4,225.5 719.0,225.6 719.7,225.8 720.4,225.9 721.1,226.1 721.8,226.2 722.5,226.4 723.2,226.5 723.8,226.6 724.5,226.7 725.2,226.8 725.9,226.9 726.6,227.0 727.3,227.1 728.0,227.2 728.7,227.3 729.4,227.4 730.1,227.4 730.8,227.5 731.5,227.5 732.2,227.6 732.9,227.6 733.6,227.6 734.3,227.7 735.0,227.7 735.7,227.7 736.5,227.7 737.2,227.7 737.9,227.6 738.6,227.6" stroke="#00f800"/>
<path d="M428.2,239.0L428.9,238.9 429.6,238.7 430.3,238.5 430.9,238.4 431.6,238.2 432.3,238.1 433.0,237.9 433.7,237.7 434.4,237.6 435.0,237.4 435.7,237.2 436.4,237.0 437.1,236.8 437.8,236.7 438.4,236.5 439.1,236.3 439.8,236.1 440.5,235.9 441.1,235.7 441.8,235.4 442.5,235.2 443.2,235.0 443.8,234.8 444.5,234.6 445.2,234.4 445.8,234.1 446.5,233.9 447.1,233.7 447.8,233.4 448.5,233.2 449.1,232.9 449.8,232.7 450.4,232.4 451.1,232.2 451.7,231.9 452.4,231.6 453.0,231.4 453.7,231.1 454.3,230.8 455.0,230.5 455.6,230.3 456.3,230.0 456.9,229.7 457.5,229.4 458.2,229.1 458.8,228.8 459.4,228.5 460.1,228.2 460.7,227.8 461.3,227.5 461.9,227.2 462.5,226.9 463.2,226.5 463.8,226.2 464.4,225.9 465.0,225.5 465.6,225.2 466.2,224.8 466.8,224.5 467.4,224.1 468.0,223.7 468.6,223.4 469.2,223.0 469.8,222.6 470.3,222.2 470.9,221.8 471.5,221.5 472.1,221.1 472.7,220.7 473.2,220.3 473.8,219.8 474.4,219.4 474.9,219.0 475.5,218.6 476.0,218.2 476.6,217.7 477.1,217.3 477.7,216.9 478.2,216.4 478.7,216.0 479.3,215.5 479.8,215.1 480.3,214.6 480.9,214.1 481.4,213.7 481.9,213.2 482.4,212.7 482.9,212.2 483.4,211.7 483.9,211.2 484.4,210.7 484.9,210.2 485.4,209.7 485.9,209.2 486.4,208.7 486.9,208.2 487.4,207.7 487.8,207.1 488.3,206.6 488.8,206.1 489.2,205.6 489.7,205.0 490.2,204.5 490.6,203.9 491.1,203.4 491.5,202.9 492.0,202.3 492.4,201.8 492.8,201.2 493.3,200.6 493.7,200.1 494.1,199.5 494.6,199.0 495.0,198.4 495.4,197.8 495.8,197.3 496.2,196.7 496.7,196.1 497.1,195.5 497.5,195.0 497.9,194.4 498.3,193.8 498.7,193.2 499.1,192.6 499.4,192.1 499.8,191.5 500.2,190.9 500.6,190.3 501.0,189.7 501.3,189.1 501.7,188.5 502.1,188.0 502.5,187.4 502.8,186.8 503.2,186.2 503.6,185.6 503.9,185.0 504.3,184.4 504.6,183.8 505.0,183.2 505.3,182.6 505.7,182.0 506.1,181.4 506.4,180.8 506.8,180.2 507.1,179.6 507.5,179.0 507.8,178.4 508.2,177.8 508.5,177.2 508.9,176.6 509.2,176.0 509.6,175.4 509.9,174.8 510.3,174.2 510.6,173.6 511.0,173.0 511.3,172.4 511.7,171.8 512.0,171.2 512.4,170.6 512.7,170.0 513.1,169.4 513.5,168.8 513.8,168.2 514.2,167.6 514.6,167.0 514.9,166.4 515.3,165.8 515.7,165.1 516.1,164.5 516.4,163.9 516.8,163.3 517.2,162.7 517.6,162.1 518.0,161.5 518.4,160.9 518.8,160.3 519.2,159.7 519.6,159.1 520.0,158.5 520.4,157.9 520.8,157.2 521.3,156.6 521.7,156.0 522.1,155.5 522.6,154.9 523.0,154.4 523.5,153.9 524.0,153.5 524.5,153.1 525.0,152.8 525.5,152.5 526.1,152.3 526.7,152.2 527.3,152.2 527.9,152.2 528.5,152.4 529.1,152.6 529.7,152.9 530.3,153.2 530.8,153.6 531.4,154.0 531.9,154.5 532.4,155.0 532.9,155.5 533.3,156.1 533.8,156.7 534.2,157.2 534.7,157.8 535.2,158.4 535.6,158.9 536.1,159.5 536.5,160.1 537.0,160.7 537.4,161.2 537.9,161.8 538.3,162.4 538.8,162.9 539.2,163.5 539.7,164.1 540.1,164.6 540.6,165.2 541.0,165.7 541.5,166.3 541.9,166.9 542.4,167.4 542.8,168.0 543.3,168.5 543.8,169.1 544.2,169.6 544.7,170.2 545.1,170.7 545.6,171.3 546.0,171.8 546.5,172.3 547.0,172.9 547.4,173.4 547.9,173.9 548.4,174.4 548.8,175.0 549.3,175.5 549.8,176.0 550.3,176.5 550.7,177.0 551.2,177.5 551.7,178.0 552.2,178.5 552.7,179.0 553.2,179.5 553.7,180.0 554.1,180.5 554.6,181.0 555.1,181.4 555.7,181.9 556.2,182.4 556.7,182.8 557.2,183.3 557.7,183.8 558.2,184.2 558.8,184.7 559.3,185.1 559.8,185.5 560.4,186.0 560.9,186.4 561.5,186.8 562.0,187.2 562.6,187.6 563.1,188.0 563.7,188.4 564.3,188.8 564.8,189.2 565.4,189.6 566.0,190.0 566.6,190.3 567.2,190.7 567.8,191.1 568.4,191.4 569.0,191.8 569.6,192.1 570.2,192.5 570.8,192.8 571.4,193.2 572.0,193.5 572.6,193.8 573.3,194.2 573.9,194.5 574.5,194.8 575.1,195.1 575.8,195.4 576.4,195.7 577.0,196.0 577.7,196.3 578.3,196.6 579.0,196.9 579.6,197.2 580.2,197.5 580.9,197.8 581.5,198.1 582.2,198.4 582.8,198.7 583.5,198.9 584.2,199.2 584.8,199.5 585.5,199.8 586.1,200.0 586.8,200.3 587.4,200.6 588.1,200.8 588.8,201.1 589.4,201.4 590.1,201.6 590.7,201.9 591.4,202.1 592.1,202.4 592.7,202.6 593.4,202.9 594.0,203.1 594.7,203.4 595.4,203.6 596.0,203.9 596.7,204.1 597.3,204.4 598.0,204.6 598.7,204.9 599.3,205.1 600.0,205.3 600.7,205.6 601.3,205.8 602.0,206.0 602.7,206.3 603.3,206.5 604.0,206.7 604.6,207.0 605.3,207.2 606.0,207.4 606.6,207.6 607.3,207.9 608.0,208.1 608.6,208.3 609.3,208.5 610.0,208.7 610.6,209.0 611.3,209.2 612.0,209.4 612.6,209.6 613.3,209.8 614.0,210.0 614.6,210.2 615.3,210.5 616.0,210.7 616.6,210.9 617.3,211.1 618.0,211.3 618.7,211.5 619.3,211.7 620.0,211.9 620.7,212.1 621.3,212.3 622.0,212.5 622.7,212.7 623.3,212.9 624.0,213.1 624.7,213.3 625.4,213.5 626.0,213.7 626.7,213.8 627.4,214.0 628.1,214.2 628.7,214.4 629.4,214.6 630.1,214.8 630.7,215.0 631.4,215.1 632.1,215.3 632.8,215.5 633.4,215.7 634.1,215.9 634.8,216.1 635.5,216.2 636.1,216.4 636.8,216.6 637.5,216.8 638.2,216.9 638.8,217.1 639.5,217.3 640.2,217.5 640.9,217.6 641.6,217.8 642.2,218.0 642.9,218.1 643.6,218.3 644.3,218.5 645.0,218.6 645.6,218.8 646.3,219.0 647.0,219.1 647.7,219.3 648.4,219.5 649.0,219.6 649.7,219.8 650.4,219.9 651.1,220.1 651.8,220.3 652.4,220.4 653.1,220.6 653.8,220.7 654.5,220.9 655.2,221.0 655.9,221.2 656.5,221.3 657.2,221.5 657.9,221.7 658.6,221.8 659.3,222.0 660.0,222.1 660.6,222.3 661.3,222.4 662.0,222.6 662.7,222.7 663.4,222.8 664.1,223.0 664.8,223.1 665.5,223.3 666.1,223.4 666.8,223.6 667.5,223.7 668.2,223.9 668.9,224.0 669.6,224.1 670.3,224.3 671.0,224.4 671.6,224.5 672.3,224.7 673.0,224.8 673.7,224.9 674.4,225.1 675.1,225.2 675.8,225.3 676.5,225.5 677.2,225.6 677.9,225.7 678.6,225.9 679.3,226.0 679.9,226.1 680.6,226.2 681.3,226.4 682.0,226.5 682.7,226.6 683.4,226.7 684.1,226.8 684.8,227.0 685.5,227.1 686.2,227.2 686.9,227.3 687.6,227.4 688.3,227.5 689.0,227.6 689.7,227.7 690.4,227.9 691.0,228.0 691.7,228.1 692.4,228.2 693.1,228.3 693.8,228.4 694.5,228.5 695.2,228.6 695.9,228.7 696.6,228.8 697.3,228.9 698.0,229.0 698.7,229.0 699.4,229.1 700.1,229.2 700.8,229.3 701.5,229.4 702.2,229.5 702.9,229.6 703.6,229.6 704.3,229.7 705.0,229.8 705.7,229.9 706.4,230.0 707.1,230.0 707.8,230.1 708.5,230.2 709.2,230.2 709.9,230.3 710.6,230.4 711.3,230.4 712.0,230.5 712.7,230.6 713.4,230.6 714.1,230.7 714.8,230.7 715.5,230.8 716.2,230.8 716.9,230.9 717.6,230.9 718.3,231.0 719.0,231.0 719.7,231.1 720.4,231.1 721.1,231.2 721.8,231.2 722.5,231.2 723.2,231.3 723.9,231.3 724.6,231.3 725.3,231.4 726.0,231.4 726.7,231.4 727.4,231.4 728.1,231.4 728.8,231.5 729.5,231.5 730.2,231.5 730.9,231.5 731.6,231.5 732.3,231.5 733.0,231.5 733.7,231.5 734.4,231.5 735.1,231.5 735.8,231.5 736.5,231.5 737.2,231.5 737.9,231.5 738.6,231.5" stroke="#0000ff"/>
<path d="M428.2,238.2L429.0,238.0 429.7,237.8 430.5,237.6 431.3,237.4 432.0,237.2 432.7,237.0 433.5,236.8 434.2,236.5 434.9,236.3 435.6,236.0 436.4,235.8 437.1,235.5 437.8,235.3 438.4,235.0 439.1,234.7 439.8,234.4 440.5,234.1 441.1,233.8 441.8,233.5 442.5,233.2 443.1,232.9 443.8,232.6 444.4,232.3 445.0,231.9 445.6,231.6 446.3,231.3 446.9,230.9 447.5,230.6 448.1,230.2 448.7,229.8 449.3,229.5 449.8,229.1 450.4,228.7 451.0,228.3 451.6,227.9 452.1,227.5 452.7,227.1 453.2,226.7 453.8,226.3 454.3,225.9 454.8,225.5 455.4,225.0 455.9,224.6 456.4,224.2 456.9,223.7 457.4,223.3 457.9,222.8 458.4,222.4 458.9,221.9 459.4,221.4 459.9,221.0 460.4,220.5 460.8,220.0 461.3,219.5 461.8,219.0 462.2,218.5 462.7,218.0 463.1,217.5 463.6,217.0 464.0,216.5 464.4,216.0 464.9,215.5 465.3,215.0 465.7,214.4 466.1,213.9 466.5,213.4 466.9,212.8 467.3,212.3 467.7,211.7 468.1,211.2 468.5,210.6 468.9,210.1 469.3,209.5 469.6,209.0 470.0,208.4 470.4,207.8 470.7,207.2 471.1,206.7 471.4,206.1 471.8,205.5 472.1,204.9 472.5,204.3 472.8,203.7 473.1,203.1 473.5,202.5 473.8,201.9 474.1,201.3 474.4,200.7 474.7,200.1 475.0,199.5 475.4,198.9 475.7,198.2 476.0,197.6 476.2,197.0 476.5,196.4 476.8,195.7 477.1,195.1 477.4,194.5 477.7,193.8 477.9,193.2 478.2,192.5 478.5,191.9 478.7,191.2 479.0,190.6 479.3,189.9 479.5,189.3 479.8,188.6 480.0,188.0 480.2,187.3 480.5,186.7 480.7,186.0 481.0,185.3 481.2,184.7 481.4,184.0 481.6,183.3 481.9,182.6 482.1,182.0 482.3,181.3 482.5,180.6 482.7,179.9 482.9,179.3 483.1,178.6 483.3,177.9 483.5,177.2 483.7,176.5 483.9,175.8 484.1,175.1 484.3,174.5 484.5,173.8 484.7,173.1 484.9,172.4 485.0,171.7 485.2,171.0 485.4,170.3 485.6,169.6 485.7,168.9 485.9,168.2 486.1,167.5 486.2,166.8 486.4,166.1 486.6,165.4 486.7,164.7 486.9,164.0 487.0,163.3 487.2,162.6 487.3,161.9 487.5,161.2 487.6,160.5 487.8,159.8 487.9,159.1 488.1,158.3 488.2,157.6 488.4,156.9 488.5,156.2 488.6,155.5 488.8,154.8 488.9,154.1 489.0,153.4 489.2,152.7 489.3,152.0 489.4,151.2 489.6,150.5 489.7,149.8 489.8,149.1 489.9,148.4 490.1,147.7 490.2,147.0 490.3,146.3 490.4,145.6 490.6,144.8 490.7,144.1 490.8,143.4 490.9,142.7 491.0,142.0 491.2,141.3 491.3,140.6 491.4,139.9 491.5,139.2 491.6,138.5 491.7,137.8 491.9,137.1 492.0,136.3 492.1,135.6 492.2,134.9 492.3,134.2 492.4,133.5 492.5,132.8 492.7,132.1 492.8,131.4 492.9,130.7 493.0,130.0 493.1,129.3 493.2,128.6 493.3,127.9 493.5,127.2 493.6,126.5 493.7,125.8 493.8,125.1 493.9,124.5 494.0,123.8 494.2,123.1 494.3,122.4 494.4,121.7 494.5,121.0 494.6,120.3 494.8,119.6 494.9,119.0 495.0,118.3 495.1,117.6 495.2,116.9 495.4,116.2 495.5,115.6 495.6,114.9 495.7,114.2 495.9,113.5 496.0,112.9 496.2,111.9 496.4,111.0 496.6,110.3 496.8,109.7 497.1,109.2 497.3,109.0 497.5,108.8 497.7,108.8 497.9,108.9 498.1,109.2 498.3,109.7 498.6,110.2 498.8,111.0 499.0,111.8 499.2,112.8 499.3,113.5 499.5,114.2 499.6,114.8 499.7,115.5 499.8,116.2 500.0,116.9 500.1,117.5 500.2,118.2 500.3,118.9 500.4,119.6 500.5,120.3 500.6,121.0 500.7,121.7 500.9,122.4 501.0,123.1 501.1,123.8 501.2,124.5 501.3,125.2 501.4,125.9 501.5,126.6 501.5,127.3 501.6,128.0 501.7,128.7 501.8,129.4 501.9,130.1 502.0,130.8 502.1,131.5 502.2,132.2 502.3,132.9 502.4,133.6 502.5,134.4 502.6,135.1 502.7,135.8 502.8,136.5 502.9,137.2 503.0,137.9 503.1,138.6 503.2,139.4 503.3,140.1 503.4,140.8 503.5,141.5 503.6,142.2 503.7,143.0 503.8,143.7 503.9,144.4 504.0,145.1 504.1,145.8 504.2,146.6 504.3,147.3 504.5,148.0 504.6,148.7 504.7,149.4 504.8,150.1 505.0,150.9 505.1,151.6 505.2,152.3 505.4,153.0 505.5,153.7 505.7,154.4 505.8,155.1 506.0,155.8 506.1,156.5 506.3,157.2 506.4,157.9 506.6,158.7 506.8,159.4 507.0,160.0 507.1,160.7 507.3,161.4 507.5,162.1 507.7,162.8 507.9,163.5 508.1,164.2 508.3,164.9 508.5,165.6 508.7,166.2 509.0,166.9 509.2,167.6 509.4,168.2 509.6,168.9 509.9,169.6 510.1,170.2 510.4,170.9 510.6,171.5 510.9,172.2 511.2,172.8 511.5,173.5 511.7,174.1 512.0,174.7 512.3,175.4 512.6,176.0 512.9,176.6 513.3,177.2 513.6,177.8 513.9,178.5 514.2,179.1 514.6,179.7 514.9,180.3 515.3,180.8 515.6,181.4 516.0,182.0 516.3,182.6 516.7,183.2 517.1,183.7 517.5,184.3 517.9,184.9 518.3,185.4 518.7,186.0 519.1,186.5 519.5,187.0 519.9,187.6 520.3,188.1 520.8,188.6 521.2,189.2 521.7,189.7 522.1,190.2 522.6,190.7 523.0,191.2 523.5,191.7 524.0,192.2 524.4,192.6 524.9,193.1 525.4,193.6 525.9,194.1 526.4,194.5 526.9,195.0 527.4,195.4 527.9,195.9 528.4,196.3 529.0,196.7 529.5,197.1 530.0,197.6 530.6,198.0 531.1,198.4 531.6,198.8 532.2,199.2 532.8,199.6 533.3,199.9 533.9,200.3 534.5,200.7 535.1,201.0 535.6,201.4 536.2,201.8 536.8,202.1 537.4,202.4 538.0,202.8 538.6,203.1 539.2,203.4 539.9,203.7 540.5,204.0 541.1,204.3 541.7,204.6 542.3,204.9 543.0,205.2 543.6,205.5 544.3,205.8 544.9,206.1 545.5,206.3 546.2,206.6 546.8,206.9 547.5,207.1 548.1,207.4 548.8,207.6 549.4,207.9 550.1,208.1 550.8,208.4 551.4,208.6 552.1,208.8 552.8,209.1 553.4,209.3 554.1,209.5 554.8,209.8 555.4,210.0 556.1,210.2 556.8,210.4 557.4,210.6 558.1,210.8 558.8,211.0 559.5,211.2 560.1,211.5 560.8,211.7 561.5,211.9 562.2,212.1 562.8,212.2 563.5,212.4 564.2,212.6 564.9,212.8 565.6,213.0 566.2,213.2 566.9,213.4 567.6,213.6 568.3,213.7 569.0,213.9 569.7,214.1 570.3,214.3 571.0,214.4 571.7,214.6 572.4,214.8 573.1,214.9 573.8,215.1 574.4,215.2 575.1,215.4 575.8,215.6 576.5,215.7 577.2,215.9 577.9,216.0 578.6,216.2 579.3,216.3 580.0,216.5 580.7,216.6 581.3,216.8 582.0,216.9 582.7,217.0 583.4,217.2 584.1,217.3 584.8,217.4 585.5,217.6 586.2,217.7 586.9,217.8 587.6,218.0 588.3,218.1 589.0,218.2 589.7,218.3 590.4,218.5 591.1,218.6 591.8,218.7 592.5,218.8 593.1,218.9 593.8,219.1 594.5,219.2 595.2,219.3 595.9,219.4 596.6,219.5 597.3,219.6 598.0,219.7 598.7,219.8 599.4,219.9 600.1,220.0 600.8,220.1 601.5,220.2 602.2,220.3 602.9,220.4 603.6,220.5 604.3,220.6 605.0,220.7 605.7,220.8 606.4,220.9 607.1,221.0 607.8,221.1 608.5,221.2 609.2,221.3 609.9,221.4 610.6,221.5 611.3,221.6 612.0,221.6 612.7,221.7 613.4,221.8 614.1,221.9 614.8,222.0 615.5,222.1 616.2,222.1 616.9,222.2 617.6,222.3 618.3,222.4 619.1,222.5 619.8,222.5 620.5,222.6 621.2,222.7 621.9,222.8 622.6,222.9 623.3,222.9 624.0,223.0 624.7,223.1 625.4,223.2 626.1,223.2 626.8,223.3 627.5,223.4 628.2,223.4 628.9,223.5 629.6,223.6 630.3,223.7 631.0,223.7 631.7,223.8 632.4,223.9 633.1,223.9 633.8,224.0 634.5,224.1 635.2,224.2 635.8,224.2 636.5,224.3 637.2,224.4 637.9,224.4 638.6,224.5 639.3,224.6 640.0,224.6 640.7,224.7 641.4,224.8 642.1,224.8 642.8,224.9 643.5,225.0 644.2,225.0 644.9,225.1 645.6,225.1 646.3,225.2 647.0,225.3 647.7,225.3 648.4,225.4 649.1,225.5 649.8,225.5 650.5,225.6 651.2,225.6 651.9,225.7 652.6,225.8 653.3,225.8 654.0,225.9 654.7,225.9 655.3,226.0 656.0,226.1 656.7,226.1 657.4,226.2 658.1,226.2 658.8,226.3 659.5,226.3 660.2,226.4 660.9,226.4 661.6,226.5 662.3,226.6 663.0,226.6 663.7,226.7 664.4,226.7 665.1,226.8 665.8,226.8 666.5,226.9 667.2,226.9 667.9,227.0 668.5,227.0 669.2,227.1 669.9,227.1 670.6,227.2 671.3,227.2 672.0,227.2 672.7,227.3 673.4,227.3 674.1,227.4 674.8,227.4 675.5,227.5 676.2,227.5 676.9,227.6 677.6,227.6 678.3,227.6 679.0,227.7 679.7,227.7 680.4,227.8 681.1,227.8 681.7,227.8 682.4,227.9 683.1,227.9 683.8,227.9 684.5,228.0 685.2,228.0 685.9,228.1 686.6,228.1 687.3,228.1 688.0,228.2 688.7,228.2 689.4,228.2 690.1,228.3 690.8,228.3 691.5,228.3 692.2,228.3 692.9,228.4 693.6,228.4 694.3,228.4 695.0,228.5 695.7,228.5 696.4,228.5 697.1,228.5 697.8,228.6 698.5,228.6 699.2,228.6 699.9,228.6 700.6,228.6 701.3,228.7 702.0,228.7 702.7,228.7 703.4,228.7 704.1,228.7 704.8,228.8 705.5,228.8 706.2,228.8 706.9,228.8 707.6,228.8 708.3,228.8 709.0,228.8 709.7,228.9 710.4,228.9 711.1,228.9 711.8,228.9 712.5,228.9 713.2,228.9 713.9,228.9 714.6,228.9 715.3,228.9 716.0,228.9 716.7,228.9 717.4,228.9 718.1,229.0 718.8,229.0 719.5,229.0 720.2,229.0 720.9,229.0 721.6,229.0 722.3,229.0 723.0,229.0 723.7,229.0 724.4,228.9 725.1,228.9 725.8,228.9 726.5,228.9 727.2,228.9 728.0,228.9 728.7,228.9 729.4,228.9 730.1,228.9 730.8,228.9 731.5,228.9 732.2,228.9 732.9,228.8 733.6,228.8 734.3,228.8 735.0,228.8 735.8,228.8 736.5,228.8 737.2,228.7 737.9,228.7 738.6,228.7" stroke="#00ffff"/>
<path d="M428.2,237.2L428.9,237.0 429.6,236.8 430.3,236.6 431.0,236.3 431.6,236.1 432.3,235.8 433.0,235.6 433.6,235.3 434.3,235.1 435.0,234.8 435.6,234.5 436.2,234.2 436.9,233.9 437.5,233.6 438.2,233.3 438.8,232.9 439.4,232.6 440.0,232.3 440.6,231.9 441.2,231.5 441.8,231.2 442.4,230.8 443.0,230.4 443.6,230.0 444.2,229.7 444.8,229.3 445.3,228.8 445.9,228.4 446.5,228.0 447.0,227.6 447.6,227.1 448.1,226.7 448.6,226.3 449.2,225.8 449.7,225.3 450.2,224.9 450.7,224.4 451.2,223.9 451.7,223.4 452.2,222.9 452.7,222.5 453.2,222.0 453.7,221.4 454.1,220.9 454.6,220.4 455.1,219.9 455.5,219.4 456.0,218.8 456.4,218.3 456.9,217.7 457.3,217.2 457.7,216.6 458.1,216.1 458.6,215.5 459.0,215.0 459.4,214.4 459.8,213.8 460.2,213.2 460.5,212.6 460.9,212.1 461.3,211.5 461.7,210.9 462.0,210.3 462.4,209.7 462.8,209.1 463.1,208.5 463.5,207.8 463.8,207.2 464.1,206.6 464.5,206.0 464.8,205.4 465.1,204.7 465.4,204.1 465.7,203.5 466.1,202.8 466.4,202.2 466.7,201.6 467.0,200.9 467.3,200.3 467.5,199.6 467.8,199.0 468.1,198.4 468.4,197.7 468.7,197.1 468.9,196.4 469.2,195.7 469.5,195.1 469.7,194.4 470.0,193.8 470.3,193.1 470.5,192.5 470.8,191.8 471.0,191.1 471.3,190.5 471.5,189.8 471.8,189.2 472.0,188.5 472.2,187.8 472.5,187.2 472.7,186.5 472.9,185.8 473.1,185.2 473.4,184.5 473.6,183.8 473.8,183.1 474.0,182.5 474.2,181.8 474.4,181.1 474.6,180.5 474.8,179.8 475.0,179.1 475.2,178.4 475.4,177.8 475.6,177.1 475.8,176.4 476.0,175.7 476.2,175.0 476.4,174.4 476.5,173.7 476.7,173.0 476.9,172.3 477.1,171.6 477.2,171.0 477.4,170.3 477.6,169.6 477.7,168.9 477.9,168.2 478.0,167.5 478.2,166.9 478.4,166.2 478.5,165.5 478.7,164.8 478.8,164.1 478.9,163.4 479.1,162.7 479.2,162.0 479.4,161.4 479.5,160.7 479.6,160.0 479.8,159.3 479.9,158.6 480.0,157.9 480.2,157.2 480.3,156.5 480.4,155.8 480.5,155.1 480.6,154.5 480.8,153.8 480.9,153.1 481.0,152.4 481.1,151.7 481.2,151.0 481.3,150.3 481.4,149.6 481.5,148.9 481.6,148.2 481.7,147.5 481.8,146.8 481.9,146.1 482.0,145.4 482.1,144.7 482.2,144.0 482.3,143.3 482.4,142.6 482.5,141.9 482.6,141.2 482.7,140.6 482.8,139.9 482.9,139.2 482.9,138.5 483.0,137.8 483.1,137.1 483.2,136.4 483.3,135.7 483.3,135.0 483.4,134.3 483.5,133.6 483.6,132.9 483.6,132.2 483.7,131.5 483.8,130.8 483.9,130.1 483.9,129.4 484.0,128.7 484.1,128.0 484.1,127.3 484.2,126.6 484.3,125.9 484.3,125.2 484.4,124.5 484.4,123.8 484.5,123.1 484.6,122.4 484.6,121.7 484.7,121.0 484.7,120.3 484.8,119.6 484.8,118.9 484.9,118.2 484.9,117.5 485.0,116.8 485.0,116.1 485.1,115.4 485.1,114.7 485.2,114.0 485.2,113.3 485.3,112.6 485.3,111.9 485.4,111.2 485.4,110.5 485.5,109.8 485.5,109.1 485.5,108.4 485.6,107.6 485.6,106.9 485.7,106.2 485.7,105.5 485.7,104.8 485.8,104.1 485.8,103.4 485.8,102.7 485.9,102.0 485.9,101.3 485.9,100.6 486.0,99.9 486.0,99.2 486.0,98.5 486.1,97.8 486.1,97.1 486.1,96.4 486.1,95.7 486.2,95.0 486.2,94.3 486.2,93.6 486.2,92.9 486.3,92.2 486.3,91.5 486.3,90.8 486.3,90.1 486.4,89.4 486.4,88.7 486.4,88.0 486.4,87.3 486.4,86.6 486.5,85.9 486.5,85.1 486.5,84.4 486.5,83.7 486.5,83.0 486.5,82.3 486.6,81.6 486.6,80.9 486.6,80.2 486.6,79.5 486.6,78.8 486.6,78.1 486.6,77.4 486.7,76.7 486.7,76.0 486.7,75.3 486.7,74.6 486.7,73.9 486.7,73.2 486.7,72.5 486.7,71.8 486.8,71.1 486.8,70.4 486.8,69.7 486.8,68.9 486.8,68.2 486.8,67.5 486.8,66.8 486.8,66.1 486.8,65.4 486.8,64.7 486.8,64.0 486.8,63.3 486.9,62.6 486.9,61.9 486.9,61.2 486.9,60.5 486.9,59.8 486.9,59.1 486.9,58.4 486.9,57.7 486.9,57.0 486.9,56.3 486.9,55.6 486.9,54.9 486.9,54.1 486.9,53.4 486.9,52.7 486.9,52.0 486.9,51.3 486.9,50.6 486.9,49.9 486.9,49.2 487.0,48.5 487.0,47.8 487.0,47.1 487.0,46.4 487.0,45.7 487.0,45.0 487.0,44.3 487.0,43.6 487.0,42.9 487.0,42.2 487.0,41.5 487.0,40.8 487.0,40.1 487.0,39.4 487.0,38.7 487.0,37.9 487.0,37.2 487.0,36.5 487.0,35.8 487.0,35.1 487.0,34.4 487.0,33.7 487.0,33.0 487.0,32.3 487.1,31.6 487.1,30.9 487.1,30.2 487.1,29.5 487.1,28.8 487.1,28.1 487.1,27.4 487.1,26.7 487.1,26.0 487.1,25.3 487.1,24.6 487.1,23.9 487.1,23.2 487.1,22.5 487.1,21.8 487.2,21.1 487.2,20.4 487.2,19.7 487.2,19.0 487.2,18.2 487.2,17.5 487.2,16.8 487.2,16.1 487.2,15.4 487.2,14.7 487.3,14.0 487.3,13.3 487.3,12.6 487.3,11.9 487.3,11.2 487.3,10.5 487.3,9.8 487.4,9.1 487.4,8.4 487.4,7.7 487.4,7.0 487.4,6.3 487.4,5.6 487.5,4.9 487.5,4.2 487.5,3.5 487.5,2.8 487.5,2.1 487.6,1.4 487.6,0.7 487.6,0.0 487.6,0.7 487.6,1.4 487.7,2.1 487.7,2.8 487.7,3.5 487.7,4.2 487.8,4.9 487.8,5.6 487.8,6.3 487.8,7.0 487.8,7.7 487.9,8.4 487.9,9.1 487.9,9.8 487.9,10.5 487.9,11.2 487.9,11.9 488.0,12.6 488.0,13.3 488.0,14.0 488.0,14.7 488.0,15.4 488.0,16.1 488.0,16.8 488.0,17.5 488.1,18.2 488.1,18.9 488.1,19.6 488.1,20.3 488.1,21.0 488.1,21.7 488.1,22.4 488.1,23.1 488.1,23.8 488.1,24.5 488.2,25.2 488.2,25.9 488.2,26.6 488.2,27.3 488.2,28.0 488.2,28.7 488.2,29.4 488.2,30.1 488.2,30.8 488.2,31.5 488.2,32.3 488.2,33.0 488.2,33.7 488.2,34.4 488.2,35.1 488.2,35.8 488.2,36.5 488.3,37.2 488.3,37.9 488.3,38.6 488.3,39.3 488.3,40.0 488.3,40.7 488.3,41.4 488.3,42.1 488.3,42.8 488.3,43.5 488.3,44.2 488.3,44.9 488.3,45.6 488.3,46.3 488.3,47.0 488.3,47.7 488.3,48.4 488.3,49.1 488.3,49.8 488.3,50.5 488.3,51.2 488.3,51.9 488.3,52.6 488.3,53.3 488.4,54.1 488.4,54.8 488.4,55.5 488.4,56.2 488.4,56.9 488.4,57.6 488.4,58.3 488.4,59.0 488.4,59.7 488.4,60.4 488.4,61.1 488.4,61.8 488.4,62.5 488.4,63.2 488.4,63.9 488.4,64.6 488.4,65.3 488.5,66.0 488.5,66.7 488.5,67.4 488.5,68.1 488.5,68.8 488.5,69.5 488.5,70.2 488.5,70.9 488.5,71.6 488.5,72.3 488.6,73.0 488.6,73.7 488.6,74.4 488.6,75.1 488.6,75.8 488.6,76.6 488.6,77.3 488.6,78.0 488.7,78.7 488.7,79.4 488.7,80.1 488.7,80.8 488.7,81.5 488.7,82.2 488.8,82.9 488.8,83.6 488.8,84.3 488.8,85.0 488.8,85.7 488.9,86.4 488.9,87.1 488.9,87.8 488.9,88.5 489.0,89.2 489.0,89.9 489.0,90.6 489.0,91.3 489.1,92.0 489.1,92.7 489.1,93.4 489.1,94.1 489.2,94.8 489.2,95.5 489.2,96.2 489.3,96.9 489.3,97.6 489.3,98.3 489.4,99.0 489.4,99.7 489.4,100.4 489.5,101.1 489.5,101.8 489.5,102.5 489.6,103.2 489.6,103.9 489.7,104.6 489.7,105.3 489.7,106.0 489.8,106.7 489.8,107.4 489.9,108.1 489.9,108.8 490.0,109.5 490.0,110.2 490.1,110.9 490.1,111.6 490.2,112.3 490.2,113.0 490.3,113.7 490.3,114.4 490.4,115.1 490.4,115.8 490.5,116.5 490.5,117.2 490.6,117.9 490.6,118.6 490.7,119.3 490.8,120.0 490.8,120.7 490.9,121.4 491.0,122.1 491.0,122.8 491.1,123.5 491.2,124.2 491.2,124.9 491.3,125.6 491.4,126.3 491.5,126.9 491.5,127.6 491.6,128.3 491.7,129.0 491.8,129.7 491.9,130.4 491.9,131.1 492.0,131.8 492.1,132.5 492.2,133.2 492.3,133.9 492.4,134.6 492.5,135.3 492.6,136.0 492.7,136.7 492.7,137.4 492.8,138.1 492.9,138.8 493.0,139.5 493.2,140.1 493.3,140.8 493.4,141.5 493.5,142.2 493.6,142.9 493.7,143.6 493.8,144.3 493.9,145.0 494.0,145.7 494.2,146.4 494.3,147.1 494.4,147.8 494.5,148.5 494.6,149.1 494.8,149.8 494.9,150.5 495.0,151.2 495.2,151.9 495.3,152.6 495.4,153.3 495.6,154.0 495.7,154.7 495.9,155.4 496.0,156.1 496.2,156.7 496.3,157.4 496.5,158.1 496.6,158.8 496.8,159.5 496.9,160.2 497.1,160.9 497.3,161.6 497.4,162.2 497.6,162.9 497.8,163.6 497.9,164.3 498.1,165.0 498.3,165.7 498.5,166.3 498.7,167.0 498.9,167.7 499.1,168.4 499.3,169.1 499.5,169.7 499.7,170.4 499.9,171.1 500.1,171.8 500.3,172.4 500.5,173.1 500.7,173.8 501.0,174.4 501.2,175.1 501.4,175.8 501.7,176.4 501.9,177.1 502.1,177.8 502.4,178.4 502.7,179.1 502.9,179.7 503.2,180.4 503.4,181.0 503.7,181.7 504.0,182.3 504.3,183.0 504.6,183.6 504.9,184.3 505.2,184.9 505.5,185.5 505.8,186.2 506.1,186.8 506.4,187.4 506.7,188.0 507.1,188.7 507.4,189.3 507.8,189.9 508.1,190.5 508.5,191.1 508.8,191.7 509.2,192.3 509.6,192.8 510.0,193.4 510.4,194.0 510.8,194.5 511.3,195.1 511.7,195.6 512.2,196.1 512.6,196.6 513.1,197.2 513.6,197.7 514.0,198.2 514.5,198.7 515.0,199.1 515.5,199.6 516.1,200.1 516.6,200.5 517.1,201.0 517.7,201.4 518.2,201.9 518.7,202.3 519.3,202.7 519.9,203.1 520.4,203.5 521.0,203.9 521.6,204.3 522.2,204.7 522.8,205.1 523.4,205.4 524.0,205.8 524.6,206.2 525.2,206.5 525.8,206.9 526.5,207.2 527.1,207.5 527.7,207.8 528.4,208.2 529.0,208.5 529.6,208.8 530.3,209.1 530.9,209.3 531.6,209.6 532.2,209.9 532.9,210.2 533.6,210.4 534.2,210.7 534.9,210.9 535.5,211.2 536.2,211.4 536.9,211.6 537.6,211.8 538.2,212.1 538.9,212.3 539.6,212.5 540.2,212.7 540.9,212.9 541.6,213.0 542.3,213.2 543.0,213.4 543.6,213.6 544.3,213.7 545.0,213.9 545.7,214.0 546.4,214.2 547.0,214.3 547.7,214.5 548.4,214.6 549.1,214.8 549.8,214.9 550.5,215.0 551.2,215.1 551.9,215.3 552.6,215.4 553.2,215.5 553.9,215.6 554.6,215.7 555.3,215.8 556.0,215.9 556.7,216.0 557.4,216.1 558.1,216.2 558.8,216.3 559.5,216.4 560.2,216.5 560.9,216.6 561.6,216.7 562.3,216.8 563.0,216.8 563.7,216.9 564.4,217.0 565.1,217.1 565.8,217.2 566.5,217.2 567.2,217.3 567.9,217.4 568.6,217.5 569.3,217.6 570.0,217.6 570.7,217.7 571.3,217.8 572.0,217.9 572.7,218.0 573.4,218.0 574.1,218.1 574.8,218.2 575.5,218.3 576.2,218.4 576.9,218.5 577.6,218.6 578.3,218.7 579.0,218.7 579.7,218.8 580.4,218.9 581.1,219.0 581.8,219.1 582.5,219.2 583.2,219.3 583.9,219.4 584.6,219.5 585.3,219.6 586.0,219.7 586.7,219.8 587.4,219.9 588.1,220.0 588.8,220.1 589.4,220.2 590.1,220.3 590.8,220.4 591.5,220.5 592.2,220.6 592.9,220.7 593.6,220.8 594.3,220.9 595.0,221.1 595.7,221.2 596.4,221.3 597.1,221.4 597.8,221.5 598.5,221.6 599.2,221.7 599.9,221.8 600.5,221.9 601.2,222.0 601.9,222.1 602.6,222.2 603.3,222.3 604.0,222.4 604.7,222.5 605.4,222.7 606.1,222.8 606.8,222.9 607.5,223.0 608.2,223.1 608.9,223.2 609.6,223.3 610.3,223.4 610.9,223.5 611.6,223.6 612.3,223.7 613.0,223.8 613.7,223.9 614.4,224.0 615.1,224.1 615.8,224.2 616.5,224.3 617.2,224.4 617.9,224.5 618.6,224.6 619.3,224.7 620.0,224.8 620.7,224.9 621.4,224.9 622.1,225.0 622.7,225.1 623.4,225.2 624.1,225.3 624.8,225.4 625.5,225.5 626.2,225.6 626.9,225.6 627.6,225.7 628.3,225.8 629.0,225.9 629.7,225.9 630.4,226.0 631.1,226.1 631.8,226.2 632.5,226.2 633.2,226.3 633.9,226.4 634.6,226.4 635.3,226.5 636.0,226.6 636.7,226.6 637.4,226.7 638.1,226.7 638.8,226.8 639.5,226.8 640.2,226.9 640.9,227.0 641.6,227.0 642.3,227.1 643.0,227.1 643.7,227.1 644.4,227.2 645.1,227.2 645.8,227.3 646.5,227.3 647.2,227.4 647.9,227.4 648.6,227.4 649.3,227.5 650.0,227.5 650.7,227.5 651.4,227.6 652.1,227.6 652.8,227.6 653.5,227.6 654.2,227.7 654.9,227.7 655.6,227.7 656.3,227.7 657.0,227.8 657.7,227.8 658.4,227.8 659.1,227.8 659.8,227.8 660.5,227.8 661.2,227.9 661.9,227.9 662.6,227.9 663.3,227.9 664.0,227.9 664.8,227.9 665.5,227.9 666.2,227.9 666.9,227.9 667.6,227.9 668.3,227.9 669.0,227.9 669.7,227.9 670.4,227.9 671.1,227.9 671.8,227.9 672.5,227.9 673.2,227.9 673.9,227.9 674.6,227.9 675.3,227.9 676.0,227.8 676.7,227.8 677.4,227.8 678.1,227.8 678.8,227.8 679.5,227.8 680.2,227.7 680.9,227.7 681.6,227.7 682.3,227.7 683.0,227.7 683.7,227.6 684.4,227.6 685.1,227.6 685.9,227.5 686.6,227.5 687.3,227.5 688.0,227.5 688.7,227.4 689.4,227.4 690.1,227.4 690.8,227.3 691.5,227.3 692.2,227.3 692.9,227.2 693.6,227.2 694.3,227.1 695.0,227.1 695.7,227.1 696.4,227.0 697.1,227.0 697.8,226.9 698.5,226.9 699.2,226.8 699.9,226.8 700.6,226.7 701.3,226.7 702.0,226.6 702.7,226.6 703.4,226.5 704.1,226.4 704.8,226.4 705.5,226.3 706.2,226.2 706.9,226.2 707.6,226.1 708.3,226.0 709.0,225.9 709.7,225.9 710.4,225.8 711.1,225.7 711.7,225.6 712.4,225.5 713.1,225.4 713.8,225.3 714.5,225.2 715.2,225.1 715.9,225.0 716.6,224.8 717.3,224.7 717.9,224.6 718.6,224.5 719.3,224.3 720.0,224.2 720.7,224.0 721.4,223.9 722.0,223.7 722.7,223.6 723.4,223.4 724.1,223.2 724.7,223.0 725.4,222.9 726.1,222.7 726.8,222.5 727.4,222.3 728.1,222.1 728.8,221.8 729.4,221.6 730.1,221.4 730.8,221.2 731.4,220.9 732.1,220.7 732.7,220.4 733.4,220.2 734.1,219.9 734.7,219.6 735.4,219.3 736.0,219.0 736.7,218.7 737.3,218.4 738.0,218.1 738.6,217.8" stroke="#6400ff"/>
<path d="M428.2,236.2L428.9,235.9 429.6,235.7 430.3,235.4 431.0,235.1 431.7,234.8 432.4,234.6 433.1,234.2 433.7,233.9 434.4,233.6 435.0,233.3 435.7,233.0 436.3,232.6 436.9,232.3 437.5,231.9 438.1,231.6 438.7,231.2 439.3,230.8 439.9,230.4 440.5,230.1 441.1,229.7 441.6,229.3 442.2,228.9 442.7,228.4 443.3,228.0 443.8,227.6 444.3,227.2 444.9,226.7 445.4,226.3 445.9,225.8 446.4,225.4 446.9,224.9 447.4,224.4 447.8,224.0 448.3,223.5 448.8,223.0 449.3,222.5 449.7,222.0 450.2,221.5 450.6,221.0 451.0,220.5 451.5,220.0 451.9,219.5 452.3,218.9 452.7,218.4 453.1,217.9 453.5,217.3 453.9,216.8 454.3,216.2 454.7,215.7 455.1,215.1 455.5,214.6 455.8,214.0 456.2,213.4 456.6,212.8 456.9,212.3 457.3,211.7 457.6,211.1 458.0,210.5 458.3,209.9 458.6,209.3 458.9,208.7 459.3,208.1 459.6,207.5 459.9,206.9 460.2,206.3 460.5,205.6 460.8,205.0 461.1,204.4 461.4,203.8 461.7,203.1 461.9,202.5 462.2,201.9 462.5,201.2 462.7,200.6 463.0,199.9 463.3,199.3 463.5,198.6 463.8,198.0 464.0,197.3 464.3,196.7 464.5,196.0 464.7,195.3 465.0,194.7 465.2,194.0 465.4,193.3 465.6,192.7 465.9,192.0 466.1,191.3 466.3,190.7 466.5,190.0 466.7,189.3 466.9,188.6 467.1,187.9 467.3,187.3 467.5,186.6 467.7,185.9 467.9,185.2 468.1,184.5 468.2,183.8 468.4,183.2 468.6,182.5 468.8,181.8 468.9,181.1 469.1,180.4 469.3,179.7 469.4,179.0 469.6,178.3 469.8,177.6 469.9,176.9 470.1,176.2 470.2,175.5 470.4,174.8 470.5,174.1 470.7,173.4 470.8,172.7 471.0,172.0 471.1,171.3 471.2,170.6 471.4,169.9 471.5,169.2 471.6,168.5 471.8,167.8 471.9,167.1 472.0,166.4 472.1,165.7 472.3,165.0 472.4,164.2 472.5,163.5 472.6,162.8 472.7,162.1 472.8,161.4 473.0,160.7 473.1,160.0 473.2,159.3 473.3,158.6 473.4,157.8 473.5,157.1 473.6,156.4 473.7,155.7 473.8,155.0 473.9,154.3 474.0,153.6 474.1,152.9 474.2,152.1 474.3,151.4 474.4,150.7 474.5,150.0 474.5,149.3 474.6,148.6 474.7,147.9 474.8,147.2 474.9,146.4 475.0,145.7 475.1,145.0 475.2,144.3 475.2,143.6 475.3,142.9 475.4,142.2 475.5,141.5 475.6,140.7 475.6,140.0 475.7,139.3 475.8,138.6 475.9,137.9 476.0,137.2 476.0,136.5 476.1,135.8 476.2,135.1 476.3,134.4 476.3,133.7 476.4,133.0 476.5,132.2 476.6,131.5 476.7,130.8 476.7,130.1 476.8,129.4 476.9,128.7 477.0,128.0 477.0,127.3 477.1,126.6 477.2,125.9 477.3,125.2 477.3,124.5 477.4,123.8 477.5,123.1 477.6,122.5 477.6,121.8 477.7,121.1 477.8,120.4 477.9,119.7 478.0,119.0 478.0,118.3 478.1,117.6 478.2,116.9 478.3,116.3 478.4,115.6 478.5,114.9 478.5,114.2 478.6,113.5 478.7,112.8 478.8,112.2 478.9,111.5 479.0,110.8 479.1,109.8 479.3,108.9 479.4,108.2 479.6,107.6 479.7,107.1 479.9,106.8 480.0,106.7 480.2,106.7 480.4,106.8 480.6,107.1 480.7,107.6 480.9,108.2 481.1,108.9 481.3,109.8 481.5,110.8 481.6,111.5 481.7,112.2 481.8,112.8 481.9,113.5 482.0,114.2 482.1,114.9 482.2,115.5 482.3,116.2 482.4,116.9 482.5,117.6 482.6,118.2 482.7,118.9 482.8,119.6 482.8,120.3 482.9,121.0 483.0,121.7 483.1,122.3 483.2,123.0 483.3,123.7 483.3,124.4 483.4,125.1 483.5,125.8 483.6,126.5 483.6,127.2 483.7,127.9 483.8,128.6 483.9,129.3 483.9,130.0 484.0,130.7 484.1,131.4 484.2,132.1 484.2,132.8 484.3,133.5 484.4,134.2 484.4,134.9 484.5,135.6 484.6,136.3 484.7,137.0 484.7,137.7 484.8,138.5 484.9,139.2 484.9,139.9 485.0,140.6 485.1,141.3 485.2,142.0 485.2,142.8 485.3,143.5 485.4,144.2 485.5,144.9 485.6,145.7 485.7,146.4 485.7,147.1 485.8,147.8 485.9,148.6 486.0,149.3 486.1,150.0 486.2,150.8 486.3,151.5 486.4,152.2 486.5,152.9 486.6,153.7 486.7,154.4 486.8,155.1 486.9,155.9 487.0,156.6 487.1,157.3 487.3,158.0 487.4,158.8 487.5,159.5 487.6,160.2 487.8,160.9 487.9,161.7 488.0,162.4 488.2,163.1 488.3,163.8 488.4,164.5 488.6,165.2 488.8,166.0 488.9,166.7 489.1,167.4 489.2,168.1 489.4,168.8 489.6,169.5 489.8,170.2 489.9,170.9 490.1,171.6 490.3,172.3 490.5,173.0 490.7,173.7 490.9,174.4 491.1,175.1 491.3,175.7 491.5,176.4 491.8,177.1 492.0,177.8 492.2,178.4 492.5,179.1 492.7,179.8 493.0,180.4 493.2,181.1 493.5,181.7 493.7,182.4 494.0,183.0 494.3,183.7 494.6,184.3 494.9,184.9 495.2,185.6 495.5,186.2 495.8,186.8 496.1,187.4 496.4,188.1 496.7,188.7 497.1,189.3 497.4,189.9 497.8,190.5 498.1,191.1 498.5,191.6 498.8,192.2 499.2,192.8 499.6,193.4 500.0,193.9 500.4,194.5 500.8,195.0 501.2,195.6 501.6,196.1 502.0,196.7 502.4,197.2 502.9,197.7 503.3,198.2 503.8,198.7 504.2,199.2 504.7,199.7 505.1,200.2 505.6,200.7 506.1,201.2 506.6,201.6 507.1,202.1 507.6,202.6 508.1,203.0 508.6,203.4 509.1,203.9 509.6,204.3 510.1,204.7 510.7,205.1 511.2,205.5 511.7,205.9 512.3,206.3 512.8,206.7 513.4,207.0 514.0,207.4 514.5,207.7 515.1,208.1 515.7,208.4 516.3,208.7 516.9,209.0 517.5,209.3 518.1,209.6 518.7,209.9 519.3,210.2 519.9,210.5 520.6,210.8 521.2,211.0 521.8,211.3 522.5,211.5 523.1,211.8 523.8,212.0 524.4,212.2 525.1,212.4 525.7,212.7 526.4,212.9 527.0,213.1 527.7,213.3 528.4,213.5 529.0,213.7 529.7,213.9 530.4,214.0 531.1,214.2 531.8,214.4 532.4,214.6 533.1,214.7 533.8,214.9 534.5,215.0 535.2,215.2 535.9,215.3 536.6,215.5 537.3,215.6 538.0,215.8 538.7,215.9 539.4,216.0 540.1,216.2 540.8,216.3 541.5,216.4 542.2,216.5 542.9,216.7 543.6,216.8 544.3,216.9 545.0,217.0 545.7,217.1 546.4,217.3 547.2,217.4 547.9,217.5 548.6,217.6 549.3,217.7 550.0,217.8 550.7,217.9 551.4,218.0 552.1,218.2 552.8,218.3 553.5,218.4 554.2,218.5 554.9,218.6 555.6,218.7 556.3,218.8 557.0,218.9 557.7,219.0 558.4,219.1 559.1,219.2 559.8,219.3 560.5,219.4 561.2,219.5 561.9,219.6 562.6,219.7 563.3,219.8 564.0,219.9 564.7,220.0 565.4,220.1 566.1,220.2 566.8,220.3 567.5,220.4 568.2,220.4 568.9,220.5 569.6,220.6 570.3,220.7 571.0,220.8 571.7,220.9 572.4,221.0 573.1,221.1 573.8,221.1 574.5,221.2 575.2,221.3 575.9,221.4 576.6,221.5 577.3,221.6 578.0,221.6 578.7,221.7 579.4,221.8 580.1,221.9 580.8,222.0 581.5,222.0 582.2,222.1 582.9,222.2 583.6,222.3 584.3,222.3 585.0,222.4 585.7,222.5 586.3,222.5 587.0,222.6 587.7,222.7 588.4,222.8 589.1,222.8 589.8,222.9 590.5,223.0 591.2,223.0 591.9,223.1 592.6,223.2 593.3,223.2 594.0,223.3 594.7,223.4 595.4,223.4 596.1,223.5 596.8,223.6 597.5,223.6 598.2,223.7 598.9,223.7 599.6,223.8 600.3,223.9 601.0,223.9 601.7,224.0 602.4,224.0 603.0,224.1 603.7,224.1 604.4,224.2 605.1,224.2 605.8,224.3 606.5,224.4 607.2,224.4 607.9,224.5 608.6,224.5 609.3,224.6 610.0,224.6 610.7,224.7 611.4,224.7 612.1,224.8 612.8,224.8 613.5,224.9 614.2,224.9 614.9,225.0 615.6,225.0 616.3,225.0 617.0,225.1 617.7,225.1 618.4,225.2 619.1,225.2 619.8,225.3 620.5,225.3 621.2,225.4 621.9,225.4 622.6,225.4 623.3,225.5 624.0,225.5 624.7,225.6 625.4,225.6 626.1,225.6 626.8,225.7 627.5,225.7 628.2,225.7 628.9,225.8 629.6,225.8 630.3,225.9 631.0,225.9 631.7,225.9 632.4,226.0 633.1,226.0 633.8,226.0 634.5,226.1 635.2,226.1 635.9,226.1 636.6,226.2 637.3,226.2 638.0,226.2 638.7,226.2 639.4,226.3 640.1,226.3 640.8,226.3 641.5,226.4 642.2,226.4 642.9,226.4 643.6,226.4 644.3,226.5 645.1,226.5 645.8,226.5 646.5,226.5 647.2,226.6 647.9,226.6 648.6,226.6 649.3,226.6 650.0,226.7 650.7,226.7 651.4,226.7 652.1,226.7 652.8,226.7 653.6,226.8 654.3,226.8 655.0,226.8 655.7,226.8 656.4,226.9 657.1,226.9 657.8,226.9 658.5,226.9 659.2,226.9 660.0,226.9 660.7,227.0 661.4,227.0 662.1,227.0 662.8,227.0 663.5,227.0 664.2,227.0 664.9,227.0 665.7,227.0 666.4,227.0 667.1,227.0 667.8,227.0 668.5,227.0 669.2,227.0 669.9,227.0 670.6,227.0 671.4,227.0 672.1,227.0 672.8,227.0 673.5,227.0 674.2,227.0 674.9,227.0 675.6,226.9 676.3,226.9 677.0,226.9 677.7,226.9 678.4,226.8 679.2,226.8 679.9,226.8 680.6,226.7 681.3,226.7 682.0,226.7 682.7,226.6 683.4,226.6 684.1,226.5 684.8,226.5 685.5,226.4 686.2,226.4 686.9,226.3 687.6,226.2 688.3,226.2 689.0,226.1 689.7,226.0 690.4,225.9 691.0,225.9 691.7,225.8 692.4,225.7 693.1,225.6 693.8,225.5 694.5,225.4 695.2,225.3 695.9,225.2 696.5,225.1 697.2,224.9 697.9,224.8 698.6,224.7 699.3,224.6 699.9,224.4 700.6,224.3 701.3,224.1 702.0,224.0 702.6,223.8 703.3,223.7 704.0,223.5 704.6,223.4 705.3,223.2 706.0,223.0 706.6,222.8 707.3,222.6 707.9,222.5 708.6,222.3 709.2,222.1 709.9,221.9 710.6,221.6 711.2,221.4 711.8,221.2 712.5,221.0 713.1,220.7 713.8,220.5 714.4,220.2 715.1,220.0 715.7,219.7 716.3,219.5 717.0,219.2 717.6,218.9 718.2,218.7 718.8,218.4 719.5,218.1 720.1,217.8 720.7,217.5 721.3,217.2 721.9,216.8 722.5,216.5 723.1,216.2 723.8,215.8 724.4,215.5 725.0,215.1 725.6,214.8 726.2,214.4 726.7,214.0 727.3,213.7 727.9,213.3 728.5,212.9 729.1,212.5 729.7,212.1 730.3,211.7 730.8,211.2 731.4,210.8 732.0,210.4 732.5,209.9 733.1,209.5 733.7,209.0 734.2,208.5 734.8,208.1 735.3,207.6 735.9,207.1 736.4,206.6 737.0,206.1 737.5,205.6 738.1,205.0 738.6,204.5" stroke="#ff00ff"/>
<path d="M428.2,229.8L428.6,229.2 429.1,228.7 429.5,228.1 429.9,227.5 430.4,226.9 430.8,226.4 431.2,225.8 431.6,225.2 432.0,224.6 432.3,224.0 432.7,223.4 433.1,222.8 433.5,222.2 433.8,221.6 434.2,221.0 434.5,220.3 434.9,219.7 435.2,219.1 435.5,218.5 435.9,217.9 436.2,217.2 436.5,216.6 436.8,216.0 437.1,215.3 437.4,214.7 437.7,214.0 438.0,213.4 438.3,212.8 438.6,212.1 438.8,211.5 439.1,210.8 439.4,210.1 439.7,209.5 439.9,208.8 440.2,208.2 440.4,207.5 440.7,206.9 440.9,206.2 441.2,205.5 441.4,204.9 441.7,204.2 441.9,203.5 442.2,202.9 442.4,202.2 442.6,201.5 442.9,200.8 443.1,200.2 443.3,199.5 443.5,198.8 443.8,198.1 444.0,197.5 444.2,196.8 444.4,196.1 444.7,195.4 444.9,194.7 445.1,194.1 445.3,193.4 445.5,192.7 445.8,192.0 446.0,191.4 446.2,190.7 446.4,190.0 446.6,189.3 446.8,188.6 447.1,188.0 447.3,187.3 447.5,186.6 447.7,185.9 447.9,185.3 448.2,184.6 448.5,183.6 448.9,182.7 449.3,182.0 449.6,181.4 450.0,181.0 450.4,180.7 450.7,180.5 451.1,180.5 451.5,180.7 451.9,181.0 452.2,181.4 452.6,182.0 453.0,182.8 453.4,183.7 453.8,184.7 454.0,185.4 454.2,186.1 454.5,186.7 454.7,187.4 455.0,188.1 455.3,188.8 455.5,189.4 455.8,190.1 456.1,190.8 456.4,191.4 456.7,192.1 457.0,192.7 457.3,193.4 457.6,194.0 457.9,194.7 458.2,195.3 458.6,196.0 458.9,196.6 459.2,197.2 459.6,197.8 460.0,198.5 460.3,199.1 460.7,199.7 461.1,200.3 461.5,200.9 461.9,201.5 462.3,202.0 462.7,202.6 463.1,203.2 463.5,203.7 464.0,204.3 464.4,204.8 464.9,205.4 465.3,205.9 465.8,206.4 466.3,207.0 466.7,207.5 467.2,208.0 467.7,208.5 468.2,209.0 468.7,209.5 469.2,209.9 469.7,210.4 470.2,210.9 470.8,211.3 471.3,211.7 471.8,212.2 472.4,212.6 472.9,213.0 473.5,213.4 474.0,213.8 474.6,214.2 475.2,214.6 475.7,215.0 476.3,215.4 476.9,215.8 477.5,216.1 478.1,216.5 478.7,216.8 479.3,217.1 479.9,217.4 480.5,217.8 481.1,218.1 481.7,218.4 482.3,218.7 482.9,218.9 483.5,219.2 484.1,219.5 484.7,219.7 485.4,220.0 486.0,220.2 486.6,220.4 487.3,220.7 487.9,220.9 488.5,221.1 489.2,221.3 489.8,221.5 490.5,221.7 491.1,221.8 491.8,222.0 492.4,222.2 493.1,222.3 493.7,222.5 494.4,222.6 495.0,222.8 495.7,222.9 496.4,223.0 497.0,223.1 497.7,223.2 498.4,223.3 499.0,223.4 499.7,223.5 500.4,223.6 501.1,223.7 501.8,223.8 502.4,223.8 503.1,223.9 503.8,224.0 504.5,224.0 505.2,224.1 505.9,224.1 506.6,224.1 507.3,224.2 508.0,224.2 508.6,224.2 509.3,224.2 510.0,224.2 510.7,224.2 511.4,224.3 512.1,224.2 512.9,224.2 513.6,224.2 514.3,224.2 515.0,224.2 515.7,224.2 516.4,224.1 517.1,224.1 517.8,224.1 518.5,224.0 519.2,224.0 520.0,224.0 520.7,223.9 521.4,223.9 522.1,223.8 522.8,223.7 523.5,223.7 524.3,223.6 525.0,223.6 525.7,223.5 526.4,223.4 527.1,223.3 527.9,223.3 528.6,223.2 529.3,223.1 530.0,223.0 530.8,222.9 531.5,222.8 532.2,222.8 532.9,222.7 533.7,222.6 534.4,222.5 535.1,222.4 535.8,222.3 536.6,222.2 537.3,222.1 538.0,222.0 538.7,221.9 539.5,221.8 540.2,221.7 540.9,221.6 541.6,221.5 542.4,221.3 543.1,221.2 543.8,221.1 544.5,221.0 545.2,220.9 546.0,220.8 546.7,220.7 547.4,220.6 548.1,220.5 548.8,220.4 549.6,220.3 550.3,220.2 551.0,220.1 551.7,219.9 552.4,219.8 553.2,219.7 553.9,219.6 554.6,219.5 555.3,219.4 556.0,219.3 556.7,219.2 557.4,219.1 558.1,219.0 558.9,218.9 559.6,218.8 560.3,218.8 561.0,218.7 561.7,218.6 562.4,218.5 563.1,218.4 563.8,218.3 564.5,218.2 565.2,218.1 565.9,218.1 566.6,218.0 567.3,217.9 568.0,217.8 568.7,217.8 569.4,217.7 570.0,217.6 570.7,217.5 571.4,217.5 572.1,217.4 572.8,217.3 573.5,217.2 574.2,217.2 574.9,217.1 575.6,217.0 576.3,217.0 576.9,216.9 577.6,216.8 578.3,216.8 579.0,216.7 579.7,216.6 580.4,216.6 581.0,216.5 581.7,216.4 582.4,216.4 583.1,216.3 583.8,216.2 584.5,216.2 585.1,216.1 585.8,216.0 586.5,216.0 587.2,215.9 587.9,215.8 588.5,215.7 589.2,215.7 589.9,215.6 590.6,215.5 591.3,215.5 591.9,215.4 592.6,215.3 593.3,215.3 594.0,215.2 594.7,215.1 595.3,215.0 596.0,215.0 596.7,214.9 597.4,214.8 598.1,214.7 598.7,214.7 599.4,214.6 600.1,214.5 600.8,214.4 601.5,214.3 602.1,214.2 602.8,214.2 603.5,214.1 604.2,214.0 604.9,213.9 605.5,213.8 606.2,213.7 606.9,213.6 607.6,213.5 608.3,213.4 609.0,213.3 609.7,213.2 610.3,213.1 611.0,213.0 611.7,212.9 612.4,212.8 613.1,212.7 613.8,212.6 614.5,212.4 615.2,212.3 615.8,212.2 616.5,212.1 617.2,212.0 617.9,211.8 618.6,211.7 619.3,211.6 620.0,211.4 620.7,211.3 621.4,211.2 622.1,211.0 622.8,210.9 623.5,210.7 624.2,210.6 624.9,210.4 625.6,210.3 626.3,210.1 627.0,210.0 627.7,209.8 628.4,209.7 629.1,209.5 629.8,209.3 630.5,209.2 631.2,209.0 631.9,208.9 632.6,208.7 633.4,208.6 634.1,208.4 634.8,208.3 635.5,208.1 636.2,208.0 636.9,207.8 637.6,207.7 638.3,207.5 639.0,207.4 639.7,207.2 640.4,207.1 641.1,206.9 641.8,206.8 642.6,206.7 643.3,206.6 644.0,206.4 644.7,206.3 645.4,206.2 646.1,206.1 646.8,206.0 647.5,205.9 648.2,205.8 648.9,205.7 649.6,205.6 650.3,205.5 651.0,205.4 651.7,205.4 652.4,205.3 653.1,205.2 653.8,205.2 654.5,205.1 655.2,205.1 655.9,205.1 656.6,205.0 657.3,205.0 658.0,205.0 658.7,205.0 659.4,205.0 660.1,205.0 660.7,205.0 661.4,205.1 662.1,205.1 662.8,205.2 663.5,205.2 664.2,205.3 664.9,205.4 665.5,205.4 666.2,205.5 666.9,205.6 667.6,205.7 668.2,205.9 668.9,206.0 669.6,206.1 670.3,206.2 670.9,206.4 671.6,206.5 672.3,206.7 672.9,206.9 673.6,207.0 674.3,207.2 674.9,207.4 675.6,207.6 676.3,207.8 676.9,208.0 677.6,208.2 678.2,208.4 678.9,208.6 679.6,208.9 680.2,209.1 680.9,209.3 681.5,209.5 682.2,209.8 682.8,210.0 683.5,210.3 684.2,210.5 684.8,210.8 685.5,211.0 686.1,211.3 686.8,211.6 687.4,211.8 688.1,212.1 688.7,212.4 689.4,212.6 690.0,212.9 690.7,213.2 691.3,213.5 692.0,213.8 692.6,214.0 693.3,214.3 693.9,214.6 694.6,214.9 695.2,215.2 695.9,215.4 696.5,215.7 697.2,216.0 697.8,216.3 698.5,216.6 699.1,216.9 699.8,217.1 700.4,217.4 701.1,217.7 701.7,218.0 702.4,218.2 703.0,218.5 703.7,218.8 704.3,219.0 705.0,219.3 705.6,219.6 706.3,219.8 706.9,220.1 707.6,220.3 708.3,220.6 708.9,220.8 709.6,221.1 710.2,221.3 710.9,221.6 711.5,221.8 712.2,222.0 712.9,222.2 713.5,222.4 714.2,222.7 714.9,222.9 715.5,223.1 716.2,223.3 716.9,223.4 717.5,223.6 718.2,223.8 718.9,224.0 719.6,224.1 720.2,224.3 720.9,224.4 721.6,224.6 722.3,224.7 723.0,224.8 723.7,224.9 724.3,225.0 725.0,225.1 725.7,225.2 726.4,225.3 727.1,225.4 727.8,225.5 728.5,225.5 729.2,225.6 729.9,225.6 730.6,225.6 731.3,225.6 732.1,225.6 732.8,225.6 733.5,225.6 734.2,225.6 734.9,225.6 735.7,225.5 736.4,225.4 737.1,225.4 737.9,225.3 738.6,225.2" stroke="#707000"/>
</g>
<path d="M428.30,195.55H738.60" stroke="#000" stroke-width="2.6"/>
<path d="M551.70,20.70H578.90" stroke="#ff0000" stroke-width="2.8"/>
<text x="581.70" y="25.00" font-size="12">1.6</text>
<text x="609.70" y="25.00" font-size="12">mm</text>
<path d="M551.70,36.70H578.90" stroke="#00f800" stroke-width="2.8"/>
<text x="581.70" y="41.00" font-size="12">2.0</text>
<text x="609.70" y="41.00" font-size="12">mm</text>
<path d="M551.70,52.70H578.90" stroke="#0000ff" stroke-width="2.8"/>
<text x="581.70" y="57.00" font-size="12">2.5</text>
<text x="609.70" y="57.00" font-size="12">mm</text>
<path d="M551.70,68.70H578.90" stroke="#00ffff" stroke-width="2.8"/>
<text x="581.70" y="73.00" font-size="12">3.0</text>
<text x="609.70" y="73.00" font-size="12">mm</text>
<path d="M551.70,84.70H578.90" stroke="#6400ff" stroke-width="2.8"/>
<text x="581.70" y="89.00" font-size="12">3.26</text>
<text x="609.70" y="89.00" font-size="12">mm</text>
<path d="M551.70,100.70H578.90" stroke="#ff00ff" stroke-width="2.8"/>
<text x="581.70" y="105.00" font-size="12">3.5</text>
<text x="609.70" y="105.00" font-size="12">mm</text>
<path d="M551.70,116.70H578.90" stroke="#707000" stroke-width="2.8"/>
<text x="581.70" y="121.00" font-size="12">5.0</text>
<text x="609.70" y="121.00" font-size="12">mm</text>
<text x="583.45" y="280.50" font-size="14.5" text-anchor="middle">Frequency (GHz)</text>
<text transform="translate(394.00,128.40) rotate(-90)" font-size="15" text-anchor="middle">Reflection loss (-dB)</text>
<text x="375.50" y="21.70" font-size="22.5">(b)</text>
<defs><clipPath id="c2"><rect x="239.20" y="301.40" width="310.80" height="232.80"/></clipPath></defs>
<rect x="239.20" y="302.60" width="310.80" height="231.60" fill="none" stroke="#000" stroke-width="2.6"/>
<path d="M278.05,534.20V525.90 M316.90,534.20V525.90 M355.75,534.20V525.90 M394.60,534.20V525.90 M433.45,534.20V525.90 M472.30,534.20V525.90 M511.15,534.20V525.90 M239.20,487.88H247.50 M239.20,441.56H247.50 M239.20,395.24H247.50 M239.20,348.92H247.50" stroke="#000" stroke-width="2.6" stroke-linecap="round" fill="none"/>
<text transform="translate(239.20,554.10) scale(0.930,1)" font-size="14.0" text-anchor="middle">2</text>
<text transform="translate(278.05,554.10) scale(0.930,1)" font-size="14.0" text-anchor="middle">4</text>
<text transform="translate(316.90,554.10) scale(0.930,1)" font-size="14.0" text-anchor="middle">6</text>
<text transform="translate(355.75,554.10) scale(0.930,1)" font-size="14.0" text-anchor="middle">8</text>
<text transform="translate(394.60,554.10) scale(0.930,1)" font-size="14.0" text-anchor="middle">10</text>
<text transform="translate(433.45,554.10) scale(0.930,1)" font-size="14.0" text-anchor="middle">12</text>
<text transform="translate(472.30,554.10) scale(0.930,1)" font-size="14.0" text-anchor="middle">14</text>
<text transform="translate(511.15,554.10) scale(0.930,1)" font-size="14.0" text-anchor="middle">16</text>
<text transform="translate(550.00,554.10) scale(0.930,1)" font-size="14.0" text-anchor="middle">18</text>
<text transform="translate(229.20,538.00) scale(0.930,1)" font-size="14.0" text-anchor="end">0</text>
<text transform="translate(229.20,491.68) scale(0.930,1)" font-size="14.0" text-anchor="end">10</text>
<text transform="translate(229.20,445.36) scale(0.930,1)" font-size="14.0" text-anchor="end">20</text>
<text transform="translate(229.20,399.04) scale(0.930,1)" font-size="14.0" text-anchor="end">30</text>
<text transform="translate(229.20,352.72) scale(0.930,1)" font-size="14.0" text-anchor="end">40</text>
<text transform="translate(229.20,306.40) scale(0.930,1)" font-size="14.0" text-anchor="end">50</text>
<g clip-path="url(#c2)" fill="none" stroke-width="3" stroke-linejoin="round" stroke-linecap="round">
<path d="M239.2,532.3L239.9,532.2 240.6,532.2 241.4,532.1 242.1,532.0 242.8,532.0 243.5,531.9 244.3,531.8 245.0,531.7 245.7,531.7 246.4,531.6 247.1,531.5 247.8,531.4 248.5,531.3 249.3,531.2 250.0,531.2 250.7,531.1 251.4,531.0 252.1,530.9 252.8,530.8 253.5,530.7 254.2,530.6 254.9,530.5 255.6,530.4 256.3,530.3 257.0,530.2 257.7,530.1 258.4,529.9 259.1,529.8 259.8,529.7 260.5,529.6 261.2,529.5 261.9,529.4 262.6,529.2 263.3,529.1 264.0,529.0 264.7,528.8 265.3,528.7 266.0,528.6 266.7,528.4 267.4,528.3 268.1,528.2 268.8,528.0 269.5,527.9 270.1,527.7 270.8,527.6 271.5,527.4 272.2,527.3 272.9,527.1 273.5,526.9 274.2,526.8 274.9,526.6 275.6,526.5 276.2,526.3 276.9,526.1 277.6,525.9 278.3,525.8 278.9,525.6 279.6,525.4 280.3,525.2 280.9,525.0 281.6,524.9 282.3,524.7 282.9,524.5 283.6,524.3 284.2,524.1 284.9,523.9 285.6,523.7 286.2,523.5 286.9,523.3 287.5,523.1 288.2,522.9 288.9,522.6 289.5,522.4 290.2,522.2 290.8,522.0 291.5,521.8 292.1,521.5 292.8,521.3 293.4,521.1 294.1,520.8 294.7,520.6 295.4,520.4 296.0,520.1 296.6,519.9 297.3,519.6 297.9,519.4 298.6,519.1 299.2,518.9 299.9,518.6 300.5,518.3 301.1,518.1 301.8,517.8 302.4,517.5 303.0,517.3 303.7,517.0 304.3,516.7 304.9,516.4 305.6,516.1 306.2,515.8 306.8,515.6 307.5,515.3 308.1,515.0 308.7,514.7 309.3,514.4 310.0,514.1 310.6,513.8 311.2,513.4 311.8,513.1 312.5,512.8 313.1,512.5 313.7,512.2 314.3,511.8 314.9,511.5 315.6,511.2 316.2,510.8 316.8,510.5 317.4,510.2 318.0,509.8 318.6,509.5 319.2,509.1 319.9,508.8 320.5,508.4 321.1,508.1 321.7,507.7 322.3,507.3 322.9,507.0 323.5,506.6 324.1,506.2 324.7,505.8 325.3,505.4 325.9,505.1 326.5,504.7 327.1,504.3 327.7,503.9 328.3,503.5 328.9,503.1 329.5,502.7 330.1,502.3 330.7,501.9 331.3,501.5 331.9,501.1 332.5,500.6 333.1,500.2 333.7,499.8 334.3,499.4 334.9,499.0 335.5,498.6 336.1,498.2 336.6,497.7 337.2,497.3 337.8,496.9 338.4,496.5 339.0,496.1 339.6,495.7 340.2,495.3 340.8,494.9 341.4,494.5 342.0,494.1 342.6,493.7 343.2,493.3 343.8,492.9 344.4,492.5 345.0,492.1 345.6,491.7 346.2,491.3 346.8,491.0 347.4,490.6 348.0,490.2 348.6,489.9 349.2,489.5 349.8,489.2 350.4,488.8 351.0,488.5 351.6,488.1 352.2,487.8 352.8,487.5 353.4,487.2 354.0,486.9 354.6,486.6 355.2,486.3 355.8,486.0 356.5,485.7 357.1,485.5 357.7,485.2 358.3,485.0 358.9,484.7 359.6,484.5 360.2,484.3 360.8,484.0 361.4,483.8 362.1,483.7 362.7,483.5 363.3,483.3 364.0,483.1 364.6,483.0 365.2,482.8 365.9,482.7 366.5,482.6 367.2,482.5 367.8,482.4 368.5,482.3 369.1,482.3 369.8,482.2 370.5,482.2 371.1,482.1 371.8,482.1 372.4,482.1 373.1,482.1 373.8,482.2 374.5,482.2 375.1,482.2 375.8,482.3 376.5,482.4 377.2,482.4 377.8,482.5 378.5,482.6 379.2,482.7 379.9,482.8 380.6,483.0 381.3,483.1 382.0,483.2 382.7,483.4 383.3,483.5 384.0,483.7 384.7,483.9 385.4,484.0 386.1,484.2 386.8,484.4 387.5,484.6 388.2,484.8 388.9,485.0 389.6,485.2 390.3,485.4 390.9,485.6 391.6,485.8 392.3,486.0 393.0,486.2 393.7,486.4 394.4,486.6 395.1,486.8 395.8,487.0 396.4,487.3 397.1,487.5 397.8,487.7 398.5,487.9 399.2,488.2 399.9,488.4 400.5,488.6 401.2,488.8 401.9,489.1 402.6,489.3 403.3,489.5 403.9,489.7 404.6,490.0 405.3,490.2 406.0,490.4 406.6,490.7 407.3,490.9 408.0,491.1 408.7,491.3 409.3,491.6 410.0,491.8 410.7,492.0 411.4,492.3 412.0,492.5 412.7,492.7 413.4,493.0 414.1,493.2 414.7,493.4 415.4,493.7 416.1,493.9 416.7,494.1 417.4,494.3 418.1,494.6 418.8,494.8 419.4,495.0 420.1,495.2 420.8,495.5 421.4,495.7 422.1,495.9 422.8,496.1 423.4,496.4 424.1,496.6 424.8,496.8 425.5,497.0 426.1,497.2 426.8,497.4 427.5,497.7 428.1,497.9 428.8,498.1 429.5,498.3 430.2,498.5 430.8,498.7 431.5,498.9 432.2,499.1 432.9,499.3 433.5,499.5 434.2,499.7 434.9,499.9 435.6,500.1 436.2,500.3 436.9,500.5 437.6,500.7 438.3,500.9 438.9,501.0 439.6,501.2 440.3,501.4 441.0,501.6 441.6,501.8 442.3,501.9 443.0,502.1 443.7,502.3 444.4,502.4 445.0,502.6 445.7,502.8 446.4,502.9 447.1,503.1 447.8,503.3 448.5,503.4 449.1,503.6 449.8,503.7 450.5,503.9 451.2,504.0 451.9,504.2 452.6,504.3 453.2,504.5 453.9,504.6 454.6,504.8 455.3,504.9 456.0,505.1 456.7,505.2 457.4,505.4 458.0,505.5 458.7,505.6 459.4,505.8 460.1,505.9 460.8,506.0 461.5,506.2 462.2,506.3 462.9,506.4 463.5,506.5 464.2,506.7 464.9,506.8 465.6,506.9 466.3,507.0 467.0,507.2 467.7,507.3 468.4,507.4 469.1,507.5 469.7,507.6 470.4,507.7 471.1,507.9 471.8,508.0 472.5,508.1 473.2,508.2 473.9,508.3 474.6,508.4 475.3,508.5 476.0,508.6 476.7,508.7 477.4,508.8 478.1,508.9 478.8,509.0 479.4,509.1 480.1,509.2 480.8,509.3 481.5,509.4 482.2,509.5 482.9,509.6 483.6,509.7 484.3,509.8 485.0,509.9 485.7,510.0 486.4,510.1 487.1,510.2 487.8,510.2 488.5,510.3 489.2,510.4 489.9,510.5 490.6,510.6 491.3,510.7 492.0,510.8 492.7,510.8 493.4,510.9 494.1,511.0 494.8,511.1 495.5,511.2 496.1,511.3 496.8,511.3 497.5,511.4 498.2,511.5 498.9,511.6 499.6,511.6 500.3,511.7 501.0,511.8 501.7,511.9 502.4,511.9 503.1,512.0 503.8,512.1 504.5,512.2 505.2,512.2 505.9,512.3 506.6,512.4 507.3,512.4 508.0,512.5 508.7,512.6 509.4,512.7 510.1,512.7 510.8,512.8 511.5,512.9 512.2,512.9 512.9,513.0 513.6,513.1 514.3,513.1 515.0,513.2 515.7,513.3 516.4,513.3 517.1,513.4 517.8,513.5 518.5,513.5 519.2,513.6 519.9,513.6 520.6,513.7 521.3,513.8 522.0,513.8 522.7,513.9 523.4,514.0 524.1,514.0 524.8,514.1 525.5,514.2 526.2,514.2 526.9,514.3 527.6,514.3 528.3,514.4 529.0,514.5 529.7,514.5 530.4,514.6 531.1,514.7 531.8,514.7 532.5,514.8 533.2,514.8 533.9,514.9 534.6,515.0 535.3,515.0 536.0,515.1 536.7,515.2 537.4,515.2 538.1,515.3 538.8,515.4 539.5,515.4 540.2,515.5 540.9,515.5 541.6,515.6 542.3,515.7 543.0,515.7 543.7,515.8 544.4,515.9 545.1,515.9 545.8,516.0 546.5,516.1 547.2,516.1 547.9,516.2 548.6,516.3 549.3,516.3 550.0,516.4" stroke="#ff0000"/>
<path d="M239.2,530.0L239.9,529.9 240.5,529.7 241.2,529.6 241.9,529.4 242.6,529.3 243.3,529.1 243.9,529.0 244.6,528.8 245.3,528.7 246.0,528.6 246.7,528.4 247.4,528.3 248.1,528.1 248.8,528.0 249.4,527.8 250.1,527.7 250.8,527.5 251.5,527.3 252.2,527.2 252.9,527.0 253.6,526.9 254.3,526.7 255.0,526.5 255.7,526.4 256.4,526.2 257.0,526.0 257.7,525.9 258.4,525.7 259.1,525.5 259.8,525.3 260.5,525.1 261.2,525.0 261.9,524.8 262.5,524.6 263.2,524.4 263.9,524.2 264.6,524.0 265.3,523.8 265.9,523.6 266.6,523.4 267.3,523.1 268.0,522.9 268.6,522.7 269.3,522.5 270.0,522.2 270.6,522.0 271.3,521.8 271.9,521.5 272.6,521.3 273.2,521.0 273.9,520.8 274.5,520.5 275.2,520.2 275.8,519.9 276.5,519.7 277.1,519.4 277.7,519.1 278.4,518.8 279.0,518.5 279.6,518.2 280.2,517.9 280.8,517.6 281.4,517.2 282.1,516.9 282.7,516.6 283.3,516.2 283.8,515.9 284.4,515.5 285.0,515.2 285.6,514.8 286.2,514.4 286.7,514.0 287.3,513.7 287.9,513.3 288.4,512.9 289.0,512.5 289.5,512.0 290.1,511.6 290.6,511.2 291.1,510.7 291.7,510.3 292.2,509.8 292.7,509.4 293.2,508.9 293.7,508.4 294.2,507.9 294.7,507.4 295.2,506.9 295.7,506.4 296.1,505.9 296.6,505.4 297.1,504.9 297.5,504.3 298.0,503.8 298.4,503.2 298.9,502.7 299.3,502.1 299.8,501.5 300.2,501.0 300.7,500.4 301.1,499.8 301.5,499.3 302.0,498.7 302.4,498.1 302.8,497.5 303.3,496.9 303.7,496.3 304.1,495.7 304.6,495.1 305.0,494.5 305.5,493.9 305.9,493.3 306.3,492.8 306.8,492.2 307.2,491.6 307.7,491.0 308.1,490.4 308.5,489.8 309.0,489.2 309.5,488.6 309.9,488.0 310.4,487.5 310.8,486.9 311.3,486.3 311.8,485.7 312.3,485.2 312.8,484.6 313.3,484.0 313.8,483.5 314.3,483.0 314.8,482.4 315.3,481.9 315.8,481.4 316.3,480.9 316.8,480.4 317.4,479.9 317.9,479.5 318.4,479.0 319.0,478.6 319.5,478.2 320.0,477.8 320.6,477.4 321.1,477.0 321.7,476.7 322.2,476.4 322.8,476.1 323.3,475.8 323.9,475.5 324.5,475.3 325.0,475.1 325.6,474.9 326.1,474.8 326.7,474.7 327.3,474.6 327.8,474.5 328.4,474.5 328.9,474.5 329.5,474.5 330.1,474.6 330.6,474.7 331.2,474.8 331.8,474.9 332.3,475.1 332.9,475.3 333.5,475.5 334.0,475.8 334.6,476.1 335.2,476.4 335.7,476.7 336.3,477.0 336.9,477.3 337.4,477.7 338.0,478.1 338.6,478.5 339.1,478.9 339.7,479.3 340.3,479.7 340.8,480.1 341.4,480.6 342.0,481.0 342.6,481.5 343.2,481.9 343.7,482.4 344.3,482.9 344.9,483.3 345.5,483.8 346.1,484.2 346.7,484.7 347.2,485.1 347.8,485.6 348.4,486.0 349.0,486.5 349.6,486.9 350.2,487.3 350.8,487.7 351.4,488.1 352.0,488.5 352.6,488.9 353.3,489.3 353.9,489.7 354.5,490.1 355.1,490.5 355.7,490.8 356.3,491.2 356.9,491.5 357.6,491.9 358.2,492.2 358.8,492.6 359.4,492.9 360.0,493.3 360.7,493.6 361.3,493.9 361.9,494.2 362.6,494.5 363.2,494.8 363.8,495.1 364.5,495.4 365.1,495.7 365.7,496.0 366.4,496.3 367.0,496.6 367.7,496.9 368.3,497.1 369.0,497.4 369.6,497.6 370.3,497.9 370.9,498.2 371.6,498.4 372.2,498.7 372.9,498.9 373.5,499.1 374.2,499.4 374.8,499.6 375.5,499.8 376.1,500.1 376.8,500.3 377.5,500.5 378.1,500.7 378.8,500.9 379.4,501.1 380.1,501.3 380.8,501.5 381.4,501.7 382.1,501.9 382.8,502.1 383.4,502.3 384.1,502.5 384.8,502.7 385.5,502.8 386.1,503.0 386.8,503.2 387.5,503.4 388.1,503.5 388.8,503.7 389.5,503.9 390.2,504.0 390.8,504.2 391.5,504.3 392.2,504.5 392.9,504.6 393.6,504.8 394.2,504.9 394.9,505.1 395.6,505.2 396.3,505.4 397.0,505.5 397.7,505.7 398.3,505.8 399.0,505.9 399.7,506.1 400.4,506.2 401.1,506.3 401.8,506.5 402.4,506.6 403.1,506.7 403.8,506.9 404.5,507.0 405.2,507.1 405.9,507.3 406.6,507.4 407.2,507.5 407.9,507.6 408.6,507.7 409.3,507.9 410.0,508.0 410.7,508.1 411.4,508.2 412.1,508.3 412.8,508.4 413.4,508.6 414.1,508.7 414.8,508.8 415.5,508.9 416.2,509.0 416.9,509.1 417.6,509.2 418.3,509.3 419.0,509.4 419.7,509.5 420.4,509.7 421.1,509.8 421.7,509.9 422.4,510.0 423.1,510.1 423.8,510.2 424.5,510.3 425.2,510.4 425.9,510.5 426.6,510.6 427.3,510.6 428.0,510.7 428.7,510.8 429.4,510.9 430.1,511.0 430.8,511.1 431.5,511.2 432.2,511.3 432.9,511.4 433.6,511.5 434.3,511.6 435.0,511.6 435.7,511.7 436.4,511.8 437.0,511.9 437.7,512.0 438.4,512.1 439.1,512.1 439.8,512.2 440.5,512.3 441.2,512.4 441.9,512.5 442.6,512.5 443.3,512.6 444.0,512.7 444.7,512.8 445.4,512.8 446.1,512.9 446.8,513.0 447.5,513.1 448.2,513.1 448.9,513.2 449.6,513.3 450.3,513.3 451.0,513.4 451.7,513.5 452.4,513.5 453.1,513.6 453.8,513.7 454.5,513.7 455.2,513.8 456.0,513.9 456.7,513.9 457.4,514.0 458.1,514.1 458.8,514.1 459.5,514.2 460.2,514.2 460.9,514.3 461.6,514.4 462.3,514.4 463.0,514.5 463.7,514.5 464.4,514.6 465.1,514.6 465.8,514.7 466.5,514.8 467.2,514.8 467.9,514.9 468.6,514.9 469.3,515.0 470.0,515.0 470.7,515.1 471.4,515.1 472.1,515.2 472.8,515.2 473.5,515.3 474.2,515.3 474.9,515.4 475.6,515.4 476.3,515.5 477.0,515.5 477.8,515.6 478.5,515.6 479.2,515.7 479.9,515.7 480.6,515.7 481.3,515.8 482.0,515.8 482.7,515.9 483.4,515.9 484.1,516.0 484.8,516.0 485.5,516.0 486.2,516.1 486.9,516.1 487.6,516.2 488.3,516.2 489.0,516.2 489.7,516.3 490.4,516.3 491.1,516.4 491.8,516.4 492.5,516.4 493.3,516.5 494.0,516.5 494.7,516.6 495.4,516.6 496.1,516.6 496.8,516.7 497.5,516.7 498.2,516.7 498.9,516.8 499.6,516.8 500.3,516.8 501.0,516.9 501.7,516.9 502.4,516.9 503.1,517.0 503.8,517.0 504.5,517.0 505.2,517.1 505.9,517.1 506.6,517.1 507.3,517.2 508.0,517.2 508.7,517.2 509.4,517.3 510.1,517.3 510.8,517.3 511.5,517.4 512.3,517.4 513.0,517.4 513.7,517.4 514.4,517.5 515.1,517.5 515.8,517.5 516.5,517.6 517.2,517.6 517.9,517.6 518.6,517.7 519.3,517.7 520.0,517.7 520.7,517.7 521.4,517.8 522.1,517.8 522.8,517.8 523.5,517.8 524.2,517.9 524.9,517.9 525.6,517.9 526.3,518.0 527.0,518.0 527.7,518.0 528.4,518.0 529.1,518.1 529.8,518.1 530.5,518.1 531.2,518.2 531.9,518.2 532.6,518.2 533.3,518.2 534.0,518.3 534.7,518.3 535.4,518.3 536.1,518.3 536.8,518.4 537.5,518.4 538.2,518.4 538.9,518.5 539.6,518.5 540.3,518.5 541.0,518.5 541.7,518.6 542.4,518.6 543.0,518.6 543.7,518.6 544.4,518.7 545.1,518.7 545.8,518.7 546.5,518.8 547.2,518.8 547.9,518.8 548.6,518.8 549.3,518.9 550.0,518.9" stroke="#00f800"/>
<path d="M239.2,528.0L240.0,527.9 240.8,527.8 241.6,527.6 242.4,527.5 243.1,527.4 243.9,527.2 244.6,527.0 245.4,526.8 246.1,526.7 246.8,526.5 247.5,526.2 248.3,526.0 249.0,525.8 249.6,525.6 250.3,525.3 251.0,525.1 251.7,524.8 252.3,524.5 253.0,524.3 253.6,524.0 254.3,523.7 254.9,523.4 255.5,523.0 256.2,522.7 256.8,522.4 257.4,522.0 258.0,521.7 258.6,521.3 259.1,521.0 259.7,520.6 260.3,520.2 260.8,519.8 261.4,519.4 262.0,519.0 262.5,518.6 263.0,518.2 263.6,517.8 264.1,517.4 264.6,516.9 265.1,516.5 265.6,516.0 266.1,515.6 266.6,515.1 267.1,514.7 267.6,514.2 268.1,513.7 268.6,513.2 269.0,512.7 269.5,512.2 269.9,511.7 270.4,511.2 270.8,510.7 271.3,510.2 271.7,509.7 272.1,509.1 272.6,508.6 273.0,508.0 273.4,507.5 273.8,506.9 274.2,506.4 274.6,505.8 275.0,505.3 275.4,504.7 275.8,504.1 276.2,503.5 276.6,503.0 277.0,502.4 277.3,501.8 277.7,501.2 278.1,500.6 278.4,500.0 278.8,499.4 279.2,498.8 279.5,498.2 279.9,497.6 280.2,496.9 280.5,496.3 280.9,495.7 281.2,495.1 281.6,494.4 281.9,493.8 282.2,493.2 282.5,492.5 282.9,491.9 283.2,491.2 283.5,490.6 283.8,490.0 284.1,489.3 284.4,488.7 284.7,488.0 285.0,487.4 285.3,486.7 285.6,486.0 285.9,485.4 286.2,484.7 286.5,484.1 286.8,483.4 287.1,482.7 287.4,482.1 287.7,481.4 287.9,480.8 288.2,480.1 288.5,479.4 288.8,478.8 289.1,478.1 289.4,477.4 289.6,476.8 289.9,476.1 290.2,475.4 290.5,474.8 290.7,474.1 291.0,473.4 291.3,472.8 291.5,472.1 291.8,471.4 292.1,470.8 292.4,470.1 292.6,469.4 292.9,468.8 293.2,468.1 293.4,467.5 293.7,466.8 294.0,466.1 294.2,465.5 294.5,464.8 294.8,464.2 295.0,463.5 295.3,462.9 295.6,462.3 296.0,461.3 296.4,460.5 296.9,459.8 297.3,459.3 297.8,458.9 298.2,458.6 298.7,458.5 299.1,458.5 299.6,458.6 300.1,458.9 300.5,459.3 301.0,459.9 301.5,460.6 302.0,461.4 302.5,462.3 302.8,463.0 303.1,463.6 303.4,464.2 303.7,464.9 304.0,465.5 304.4,466.1 304.7,466.8 305.0,467.4 305.3,468.0 305.7,468.7 306.0,469.3 306.3,469.9 306.7,470.6 307.0,471.2 307.3,471.8 307.7,472.5 308.0,473.1 308.4,473.7 308.8,474.3 309.1,474.9 309.5,475.5 309.8,476.2 310.2,476.8 310.6,477.4 311.0,478.0 311.3,478.6 311.7,479.2 312.1,479.8 312.5,480.4 312.9,480.9 313.3,481.5 313.7,482.1 314.1,482.7 314.5,483.3 314.9,483.8 315.3,484.4 315.7,485.0 316.2,485.5 316.6,486.1 317.0,486.6 317.4,487.2 317.9,487.7 318.3,488.2 318.8,488.8 319.2,489.3 319.7,489.8 320.1,490.3 320.6,490.8 321.1,491.4 321.6,491.9 322.0,492.3 322.5,492.8 323.0,493.3 323.5,493.8 324.0,494.3 324.5,494.8 325.0,495.2 325.5,495.7 326.0,496.1 326.5,496.6 327.0,497.0 327.5,497.5 328.1,497.9 328.6,498.3 329.1,498.7 329.7,499.2 330.2,499.6 330.8,500.0 331.3,500.4 331.9,500.8 332.4,501.2 333.0,501.5 333.5,501.9 334.1,502.3 334.7,502.6 335.2,503.0 335.8,503.4 336.4,503.7 337.0,504.0 337.6,504.4 338.2,504.7 338.8,505.0 339.4,505.3 340.0,505.6 340.6,505.9 341.2,506.2 341.8,506.5 342.4,506.8 343.1,507.1 343.7,507.3 344.3,507.6 344.9,507.9 345.6,508.1 346.2,508.4 346.9,508.6 347.5,508.8 348.2,509.1 348.8,509.3 349.5,509.5 350.1,509.7 350.8,509.9 351.4,510.1 352.1,510.3 352.8,510.5 353.4,510.7 354.1,510.9 354.8,511.0 355.5,511.2 356.1,511.4 356.8,511.5 357.5,511.7 358.2,511.9 358.9,512.0 359.6,512.2 360.2,512.3 360.9,512.4 361.6,512.6 362.3,512.7 363.0,512.8 363.7,513.0 364.4,513.1 365.1,513.2 365.8,513.3 366.5,513.4 367.2,513.5 367.9,513.6 368.6,513.7 369.3,513.8 370.0,513.9 370.7,514.0 371.5,514.1 372.2,514.2 372.9,514.3 373.6,514.4 374.3,514.4 375.0,514.5 375.7,514.6 376.4,514.7 377.1,514.7 377.8,514.8 378.6,514.9 379.3,515.0 380.0,515.0 380.7,515.1 381.4,515.2 382.1,515.2 382.8,515.3 383.5,515.3 384.2,515.4 385.0,515.5 385.7,515.5 386.4,515.6 387.1,515.6 387.8,515.7 388.5,515.7 389.2,515.8 389.9,515.8 390.6,515.9 391.3,515.9 392.0,515.9 392.8,516.0 393.5,516.0 394.2,516.1 394.9,516.1 395.6,516.2 396.3,516.2 397.0,516.2 397.7,516.3 398.4,516.3 399.1,516.3 399.8,516.4 400.5,516.4 401.2,516.4 402.0,516.4 402.7,516.5 403.4,516.5 404.1,516.5 404.8,516.6 405.5,516.6 406.2,516.6 406.9,516.6 407.6,516.6 408.3,516.7 409.0,516.7 409.7,516.7 410.4,516.7 411.1,516.7 411.8,516.7 412.5,516.8 413.3,516.8 414.0,516.8 414.7,516.8 415.4,516.8 416.1,516.8 416.8,516.8 417.5,516.8 418.2,516.9 418.9,516.9 419.6,516.9 420.3,516.9 421.0,516.9 421.7,516.9 422.4,516.9 423.1,516.9 423.8,516.9 424.5,516.9 425.2,516.9 425.9,516.9 426.6,516.9 427.3,516.9 428.0,516.9 428.7,516.9 429.4,516.9 430.1,516.9 430.8,516.9 431.5,516.9 432.2,516.9 433.0,516.9 433.7,516.9 434.4,516.9 435.1,516.9 435.8,516.9 436.5,516.9 437.2,516.9 437.9,516.9 438.6,516.9 439.3,516.9 440.0,516.9 440.7,516.9 441.4,516.9 442.1,516.9 442.8,516.8 443.5,516.8 444.2,516.8 444.9,516.8 445.6,516.8 446.3,516.8 447.0,516.8 447.7,516.8 448.4,516.8 449.1,516.8 449.8,516.8 450.5,516.8 451.2,516.8 451.9,516.8 452.6,516.7 453.3,516.7 454.0,516.7 454.7,516.7 455.4,516.7 456.1,516.7 456.8,516.7 457.5,516.7 458.2,516.7 458.9,516.7 459.6,516.7 460.3,516.7 461.0,516.6 461.7,516.6 462.4,516.6 463.1,516.6 463.8,516.6 464.5,516.6 465.2,516.6 465.9,516.6 466.6,516.6 467.3,516.6 468.0,516.5 468.7,516.5 469.4,516.5 470.1,516.5 470.8,516.5 471.5,516.5 472.2,516.5 472.9,516.5 473.6,516.5 474.3,516.5 475.0,516.5 475.7,516.4 476.4,516.4 477.1,516.4 477.8,516.4 478.5,516.4 479.2,516.4 479.9,516.4 480.6,516.4 481.3,516.4 482.0,516.4 482.7,516.3 483.4,516.3 484.1,516.3 484.8,516.3 485.5,516.3 486.2,516.3 486.9,516.3 487.6,516.3 488.3,516.3 489.0,516.3 489.7,516.3 490.4,516.3 491.1,516.2 491.8,516.2 492.5,516.2 493.2,516.2 493.9,516.2 494.6,516.2 495.3,516.2 496.0,516.2 496.7,516.2 497.4,516.2 498.1,516.2 498.8,516.2 499.5,516.1 500.2,516.1 500.9,516.1 501.6,516.1 502.3,516.1 503.0,516.1 503.7,516.1 504.4,516.1 505.0,516.1 505.7,516.1 506.5,516.1 507.2,516.1 507.9,516.1 508.6,516.1 509.3,516.1 510.0,516.1 510.7,516.1 511.4,516.0 512.1,516.0 512.8,516.0 513.5,516.0 514.2,516.0 514.9,516.0 515.6,516.0 516.3,516.0 517.0,516.0 517.7,516.0 518.4,516.0 519.1,516.0 519.8,516.0 520.5,516.0 521.2,516.0 521.9,516.0 522.6,516.0 523.3,516.0 524.0,516.0 524.7,516.0 525.4,516.0 526.1,516.0 526.8,516.0 527.5,516.0 528.2,516.0 528.9,516.0 529.6,516.0 530.3,516.0 531.0,516.0 531.7,516.0 532.4,516.0 533.1,516.0 533.8,516.0 534.5,516.0 535.2,516.0 535.9,516.0 536.6,516.0 537.3,516.0 538.0,516.1 538.7,516.1 539.4,516.1 540.1,516.1 540.8,516.1 541.5,516.1 542.2,516.1 543.0,516.1 543.7,516.1 544.4,516.1 545.1,516.1 545.8,516.1 546.5,516.1 547.2,516.2 547.9,516.2 548.6,516.2 549.3,516.2 550.0,516.2" stroke="#0000ff"/>
<path d="M239.2,525.5L239.9,525.2 240.6,524.8 241.3,524.5 241.9,524.2 242.6,523.8 243.3,523.4 243.9,523.1 244.5,522.7 245.1,522.3 245.8,521.9 246.4,521.5 247.0,521.1 247.5,520.7 248.1,520.3 248.7,519.9 249.2,519.4 249.8,519.0 250.3,518.5 250.9,518.1 251.4,517.6 251.9,517.2 252.4,516.7 252.9,516.2 253.4,515.7 253.9,515.3 254.4,514.8 254.8,514.3 255.3,513.8 255.7,513.3 256.2,512.7 256.6,512.2 257.0,511.7 257.5,511.2 257.9,510.6 258.3,510.1 258.7,509.5 259.1,509.0 259.5,508.4 259.8,507.9 260.2,507.3 260.6,506.7 260.9,506.2 261.3,505.6 261.6,505.0 262.0,504.4 262.3,503.8 262.6,503.2 263.0,502.6 263.3,502.0 263.6,501.4 263.9,500.8 264.2,500.2 264.5,499.6 264.8,498.9 265.1,498.3 265.3,497.7 265.6,497.0 265.9,496.4 266.1,495.8 266.4,495.1 266.6,494.5 266.9,493.8 267.1,493.2 267.4,492.5 267.6,491.8 267.8,491.2 268.1,490.5 268.3,489.8 268.5,489.2 268.7,488.5 268.9,487.8 269.1,487.1 269.3,486.5 269.5,485.8 269.7,485.1 269.9,484.4 270.1,483.7 270.3,483.0 270.5,482.3 270.7,481.6 270.8,480.9 271.0,480.2 271.2,479.5 271.3,478.8 271.5,478.1 271.7,477.4 271.8,476.7 272.0,476.0 272.1,475.3 272.3,474.6 272.4,473.9 272.6,473.2 272.7,472.5 272.9,471.7 273.0,471.0 273.2,470.3 273.3,469.6 273.4,468.9 273.6,468.2 273.7,467.5 273.9,466.7 274.0,466.0 274.1,465.3 274.3,464.6 274.4,463.9 274.5,463.1 274.6,462.4 274.8,461.7 274.9,461.0 275.0,460.3 275.2,459.6 275.3,458.8 275.4,458.1 275.5,457.4 275.7,456.7 275.8,456.0 275.9,455.3 276.1,454.6 276.2,453.8 276.3,453.1 276.4,452.4 276.6,451.7 276.7,451.0 276.8,450.3 277.0,449.6 277.1,448.9 277.2,448.2 277.4,447.5 277.5,446.8 277.7,446.1 277.8,445.4 277.9,444.7 278.1,444.0 278.2,443.4 278.4,442.7 278.5,442.0 278.7,441.3 278.8,440.6 279.0,439.9 279.2,438.9 279.5,438.1 279.7,437.4 280.0,436.8 280.2,436.3 280.5,436.1 280.7,435.9 280.9,435.9 281.1,436.0 281.4,436.3 281.6,436.7 281.8,437.3 282.0,438.0 282.2,438.9 282.4,439.9 282.6,440.6 282.7,441.2 282.8,441.9 282.9,442.6 283.1,443.3 283.2,444.0 283.3,444.7 283.4,445.4 283.6,446.1 283.7,446.8 283.8,447.5 283.9,448.2 284.1,448.9 284.2,449.6 284.3,450.3 284.4,451.0 284.6,451.7 284.7,452.4 284.8,453.1 285.0,453.8 285.1,454.5 285.2,455.3 285.4,456.0 285.5,456.7 285.6,457.4 285.8,458.1 285.9,458.8 286.1,459.6 286.2,460.3 286.4,461.0 286.5,461.7 286.7,462.4 286.8,463.1 287.0,463.8 287.2,464.6 287.3,465.3 287.5,466.0 287.7,466.7 287.8,467.4 288.0,468.1 288.2,468.8 288.4,469.5 288.6,470.2 288.8,470.9 289.0,471.6 289.2,472.3 289.4,473.0 289.6,473.7 289.8,474.3 290.0,475.0 290.3,475.7 290.5,476.4 290.7,477.1 291.0,477.7 291.2,478.4 291.5,479.1 291.7,479.7 292.0,480.4 292.3,481.0 292.5,481.7 292.8,482.3 293.1,483.0 293.4,483.6 293.7,484.2 294.0,484.9 294.3,485.5 294.6,486.1 294.9,486.7 295.3,487.3 295.6,487.9 295.9,488.5 296.3,489.1 296.6,489.7 297.0,490.3 297.4,490.9 297.7,491.4 298.1,492.0 298.5,492.6 298.9,493.1 299.3,493.7 299.7,494.2 300.1,494.7 300.5,495.3 300.9,495.8 301.4,496.3 301.8,496.8 302.3,497.3 302.7,497.8 303.2,498.3 303.6,498.8 304.1,499.3 304.6,499.7 305.0,500.2 305.5,500.6 306.0,501.1 306.5,501.5 307.0,502.0 307.5,502.4 308.1,502.8 308.6,503.2 309.1,503.6 309.6,504.0 310.2,504.4 310.7,504.8 311.3,505.2 311.8,505.6 312.4,505.9 313.0,506.3 313.5,506.6 314.1,507.0 314.7,507.3 315.3,507.6 315.9,508.0 316.5,508.3 317.1,508.6 317.7,508.9 318.3,509.2 318.9,509.5 319.5,509.7 320.1,510.0 320.8,510.3 321.4,510.5 322.0,510.8 322.7,511.0 323.3,511.3 323.9,511.5 324.6,511.7 325.3,511.9 325.9,512.2 326.6,512.4 327.2,512.6 327.9,512.8 328.6,513.0 329.2,513.1 329.9,513.3 330.6,513.5 331.3,513.7 332.0,513.8 332.6,514.0 333.3,514.1 334.0,514.3 334.7,514.4 335.4,514.6 336.1,514.7 336.8,514.8 337.5,515.0 338.2,515.1 338.9,515.2 339.6,515.3 340.3,515.4 341.0,515.5 341.7,515.6 342.5,515.7 343.2,515.8 343.9,515.9 344.6,516.0 345.3,516.1 346.0,516.2 346.7,516.2 347.5,516.3 348.2,516.4 348.9,516.5 349.6,516.5 350.3,516.6 351.0,516.6 351.8,516.7 352.5,516.8 353.2,516.8 353.9,516.9 354.6,516.9 355.3,517.0 356.0,517.0 356.8,517.0 357.5,517.1 358.2,517.1 358.9,517.2 359.6,517.2 360.3,517.2 361.0,517.2 361.7,517.3 362.5,517.3 363.2,517.3 363.9,517.3 364.6,517.4 365.3,517.4 366.0,517.4 366.7,517.4 367.4,517.4 368.2,517.4 368.9,517.4 369.6,517.4 370.3,517.4 371.0,517.5 371.7,517.5 372.4,517.5 373.1,517.5 373.8,517.5 374.5,517.4 375.2,517.4 376.0,517.4 376.7,517.4 377.4,517.4 378.1,517.4 378.8,517.4 379.5,517.4 380.2,517.4 380.9,517.3 381.6,517.3 382.3,517.3 383.0,517.3 383.7,517.3 384.4,517.2 385.1,517.2 385.9,517.2 386.6,517.2 387.3,517.1 388.0,517.1 388.7,517.1 389.4,517.1 390.1,517.0 390.8,517.0 391.5,517.0 392.2,516.9 392.9,516.9 393.6,516.9 394.3,516.8 395.0,516.8 395.7,516.8 396.4,516.7 397.1,516.7 397.8,516.6 398.5,516.6 399.2,516.6 399.9,516.5 400.6,516.5 401.3,516.4 402.0,516.4 402.8,516.4 403.5,516.3 404.2,516.3 404.9,516.2 405.6,516.2 406.3,516.1 407.0,516.1 407.7,516.1 408.4,516.0 409.1,516.0 409.8,515.9 410.5,515.9 411.2,515.8 411.9,515.8 412.6,515.7 413.3,515.7 414.0,515.7 414.7,515.6 415.4,515.6 416.1,515.5 416.8,515.5 417.5,515.4 418.2,515.4 418.9,515.4 419.6,515.3 420.3,515.3 421.0,515.2 421.7,515.2 422.4,515.1 423.1,515.1 423.8,515.1 424.5,515.0 425.2,515.0 425.9,514.9 426.6,514.9 427.3,514.9 428.0,514.8 428.7,514.8 429.4,514.8 430.1,514.7 430.8,514.7 431.5,514.6 432.2,514.6 432.9,514.6 433.6,514.5 434.3,514.5 435.0,514.5 435.7,514.4 436.4,514.4 437.1,514.4 437.8,514.3 438.5,514.3 439.2,514.3 439.9,514.3 440.6,514.2 441.3,514.2 442.0,514.2 442.7,514.1 443.4,514.1 444.1,514.1 444.8,514.1 445.5,514.0 446.2,514.0 446.9,514.0 447.6,513.9 448.3,513.9 449.0,513.9 449.7,513.9 450.4,513.8 451.1,513.8 451.8,513.8 452.5,513.8 453.2,513.7 453.9,513.7 454.6,513.7 455.3,513.7 456.0,513.7 456.7,513.6 457.4,513.6 458.1,513.6 458.8,513.6 459.5,513.6 460.2,513.5 460.9,513.5 461.6,513.5 462.3,513.5 463.0,513.5 463.7,513.4 464.4,513.4 465.1,513.4 465.8,513.4 466.5,513.4 467.2,513.4 467.9,513.3 468.6,513.3 469.3,513.3 470.0,513.3 470.7,513.3 471.4,513.3 472.1,513.2 472.8,513.2 473.5,513.2 474.2,513.2 474.9,513.2 475.6,513.2 476.3,513.2 477.0,513.2 477.7,513.1 478.4,513.1 479.1,513.1 479.8,513.1 480.5,513.1 481.2,513.1 481.9,513.1 482.6,513.1 483.3,513.1 484.0,513.0 484.7,513.0 485.4,513.0 486.1,513.0 486.8,513.0 487.5,513.0 488.2,513.0 488.9,513.0 489.6,513.0 490.3,513.0 491.0,513.0 491.7,513.0 492.4,513.0 493.1,512.9 493.8,512.9 494.5,512.9 495.2,512.9 495.9,512.9 496.6,512.9 497.3,512.9 498.0,512.9 498.7,512.9 499.4,512.9 500.1,512.9 500.8,512.9 501.5,512.9 502.2,512.9 502.9,512.9 503.6,512.9 504.3,512.9 505.0,512.9 505.7,512.9 506.4,512.9 507.1,512.9 507.8,512.9 508.5,512.9 509.2,512.9 509.9,512.9 510.6,512.9 511.3,512.9 512.0,512.9 512.7,512.9 513.4,512.9 514.1,512.9 514.8,512.9 515.5,512.9 516.2,512.9 516.9,512.9 517.6,512.9 518.4,512.9 519.1,512.9 519.8,512.9 520.5,512.9 521.2,512.9 521.9,512.9 522.6,512.9 523.3,512.9 524.0,512.9 524.7,512.9 525.4,512.9 526.1,512.9 526.8,512.9 527.5,512.9 528.2,512.9 528.9,512.9 529.6,512.9 530.3,512.9 531.0,512.9 531.7,512.9 532.4,512.9 533.1,512.9 533.8,513.0 534.5,513.0 535.2,513.0 535.9,513.0 536.6,513.0 537.3,513.0 538.0,513.0 538.7,513.0 539.4,513.0 540.1,513.0 540.8,513.0 541.5,513.0 542.3,513.0 543.0,513.0 543.7,513.0 544.4,513.0 545.1,513.0 545.8,513.1 546.5,513.1 547.2,513.1 547.9,513.1 548.6,513.1 549.3,513.1 550.0,513.1" stroke="#00ffff"/>
<path d="M239.2,522.0L239.8,521.5 240.3,521.1 240.9,520.6 241.4,520.1 241.9,519.6 242.4,519.1 242.9,518.6 243.4,518.1 243.9,517.6 244.4,517.1 244.9,516.6 245.3,516.0 245.8,515.5 246.2,515.0 246.7,514.4 247.1,513.9 247.5,513.4 248.0,512.8 248.4,512.3 248.8,511.7 249.2,511.1 249.5,510.6 249.9,510.0 250.3,509.4 250.6,508.8 251.0,508.2 251.4,507.7 251.7,507.1 252.0,506.5 252.4,505.9 252.7,505.3 253.0,504.7 253.3,504.1 253.6,503.4 253.9,502.8 254.2,502.2 254.5,501.6 254.8,501.0 255.0,500.3 255.3,499.7 255.6,499.1 255.8,498.4 256.1,497.8 256.3,497.2 256.5,496.5 256.8,495.9 257.0,495.2 257.2,494.6 257.5,493.9 257.7,493.2 257.9,492.6 258.1,491.9 258.3,491.3 258.5,490.6 258.7,489.9 258.9,489.3 259.0,488.6 259.2,487.9 259.4,487.2 259.6,486.6 259.7,485.9 259.9,485.2 260.1,484.5 260.2,483.9 260.4,483.2 260.5,482.5 260.7,481.8 260.8,481.1 261.0,480.4 261.1,479.7 261.2,479.1 261.4,478.4 261.5,477.7 261.6,477.0 261.7,476.3 261.9,475.6 262.0,474.9 262.1,474.2 262.2,473.5 262.3,472.8 262.4,472.1 262.5,471.4 262.6,470.7 262.7,470.0 262.8,469.3 262.9,468.6 263.0,467.9 263.1,467.2 263.2,466.5 263.3,465.8 263.4,465.1 263.5,464.4 263.5,463.7 263.6,463.0 263.7,462.3 263.8,461.6 263.9,460.9 263.9,460.2 264.0,459.5 264.1,458.8 264.1,458.1 264.2,457.4 264.3,456.7 264.3,455.9 264.4,455.2 264.4,454.5 264.5,453.8 264.5,453.1 264.6,452.4 264.7,451.7 264.7,451.0 264.8,450.3 264.8,449.5 264.8,448.8 264.9,448.1 264.9,447.4 265.0,446.7 265.0,446.0 265.1,445.3 265.1,444.5 265.1,443.8 265.2,443.1 265.2,442.4 265.3,441.7 265.3,441.0 265.3,440.3 265.4,439.5 265.4,438.8 265.4,438.1 265.5,437.4 265.5,436.7 265.5,436.0 265.5,435.3 265.6,434.5 265.6,433.8 265.6,433.1 265.7,432.4 265.7,431.7 265.7,431.0 265.7,430.3 265.8,429.5 265.8,428.8 265.8,428.1 265.8,427.4 265.9,426.7 265.9,426.0 265.9,425.3 265.9,424.5 266.0,423.8 266.0,423.1 266.0,422.4 266.0,421.7 266.1,421.0 266.1,420.3 266.1,419.6 266.2,418.8 266.2,418.1 266.2,417.4 266.2,416.7 266.3,416.0 266.3,415.3 266.3,414.6 266.4,413.9 266.4,413.2 266.4,412.5 266.4,411.8 266.5,411.1 266.5,410.3 266.5,409.6 266.6,408.9 266.6,408.2 266.7,407.5 266.7,406.8 266.7,406.1 266.8,405.4 266.8,404.7 266.9,404.0 266.9,403.3 266.9,402.6 267.0,401.9 267.0,401.2 267.1,400.5 267.1,399.8 267.2,399.1 267.2,398.4 267.3,397.8 267.3,397.1 267.4,396.4 267.4,395.7 267.5,395.0 267.6,394.3 267.6,393.6 267.7,392.9 267.8,392.2 267.8,391.5 267.9,390.9 268.0,390.0 268.1,389.3 268.2,388.7 268.2,388.2 268.3,387.9 268.4,387.6 268.5,387.5 268.5,387.5 268.6,387.6 268.7,387.9 268.8,388.2 268.8,388.7 268.9,389.3 268.9,390.1 269.0,390.9 269.0,391.6 269.1,392.3 269.1,393.0 269.2,393.7 269.2,394.4 269.3,395.1 269.3,395.8 269.3,396.5 269.4,397.2 269.4,397.9 269.5,398.6 269.5,399.3 269.5,400.0 269.6,400.7 269.6,401.4 269.7,402.1 269.7,402.8 269.7,403.5 269.8,404.2 269.8,404.9 269.9,405.6 269.9,406.4 269.9,407.1 270.0,407.8 270.0,408.5 270.1,409.2 270.1,409.9 270.1,410.6 270.2,411.3 270.2,412.0 270.3,412.7 270.3,413.4 270.3,414.1 270.4,414.9 270.4,415.6 270.5,416.3 270.5,417.0 270.5,417.7 270.6,418.4 270.6,419.1 270.7,419.8 270.7,420.5 270.7,421.2 270.8,421.9 270.8,422.7 270.9,423.4 270.9,424.1 271.0,424.8 271.0,425.5 271.0,426.2 271.1,426.9 271.1,427.6 271.2,428.3 271.2,429.0 271.3,429.7 271.3,430.4 271.3,431.1 271.4,431.8 271.4,432.5 271.5,433.2 271.5,433.9 271.6,434.6 271.6,435.3 271.7,436.0 271.7,436.7 271.8,437.4 271.8,438.1 271.8,438.8 271.9,439.5 271.9,440.2 272.0,440.9 272.0,441.6 272.1,442.3 272.1,443.0 272.2,443.7 272.3,444.3 272.3,445.0 272.4,445.7 272.4,446.4 272.5,447.1 272.5,447.8 272.6,448.5 272.7,449.1 272.7,449.8 272.8,450.5 272.9,451.2 272.9,451.9 273.0,452.6 273.1,453.2 273.1,453.9 273.2,454.6 273.3,455.3 273.4,456.0 273.4,456.6 273.5,457.3 273.6,458.0 273.7,458.7 273.8,459.4 273.9,460.0 274.0,460.7 274.1,461.4 274.2,462.1 274.3,462.7 274.4,463.4 274.5,464.1 274.6,464.8 274.8,465.5 274.9,466.1 275.0,466.8 275.1,467.5 275.3,468.2 275.4,468.8 275.6,469.5 275.7,470.2 275.8,470.9 276.0,471.6 276.2,472.2 276.3,472.9 276.5,473.6 276.6,474.3 276.8,475.0 277.0,475.7 277.2,476.3 277.4,477.0 277.6,477.7 277.8,478.4 278.0,479.1 278.2,479.8 278.4,480.5 278.6,481.1 278.8,481.8 279.0,482.5 279.3,483.2 279.5,483.9 279.8,484.6 280.0,485.3 280.3,486.0 280.5,486.7 280.8,487.4 281.1,488.1 281.4,488.8 281.6,489.5 281.9,490.2 282.2,490.8 282.5,491.5 282.8,492.2 283.2,492.9 283.5,493.6 283.8,494.2 284.2,494.9 284.5,495.6 284.9,496.2 285.2,496.9 285.6,497.5 286.0,498.1 286.3,498.8 286.7,499.4 287.1,500.0 287.5,500.6 287.9,501.2 288.4,501.8 288.8,502.3 289.2,502.9 289.7,503.4 290.1,503.9 290.6,504.5 291.1,505.0 291.6,505.4 292.0,505.9 292.5,506.4 293.1,506.8 293.6,507.2 294.1,507.6 294.6,508.0 295.2,508.4 295.7,508.8 296.3,509.1 296.9,509.4 297.5,509.8 298.0,510.1 298.6,510.3 299.2,510.6 299.9,510.9 300.5,511.1 301.1,511.3 301.7,511.6 302.4,511.8 303.0,512.0 303.6,512.1 304.3,512.3 305.0,512.5 305.6,512.6 306.3,512.8 307.0,512.9 307.6,513.1 308.3,513.2 309.0,513.3 309.7,513.4 310.4,513.5 311.1,513.6 311.7,513.7 312.4,513.8 313.1,513.9 313.8,513.9 314.5,514.0 315.2,514.1 315.9,514.1 316.6,514.2 317.3,514.3 318.1,514.3 318.8,514.4 319.5,514.4 320.2,514.5 320.9,514.6 321.6,514.6 322.3,514.7 323.0,514.7 323.7,514.8 324.4,514.8 325.1,514.9 325.8,514.9 326.5,515.0 327.2,515.0 327.9,515.0 328.6,515.1 329.3,515.1 330.0,515.2 330.7,515.2 331.4,515.2 332.1,515.3 332.8,515.3 333.5,515.3 334.2,515.4 334.9,515.4 335.6,515.4 336.3,515.5 337.0,515.5 337.7,515.5 338.4,515.5 339.1,515.6 339.8,515.6 340.5,515.6 341.3,515.6 342.0,515.6 342.7,515.7 343.4,515.7 344.1,515.7 344.8,515.7 345.5,515.7 346.2,515.7 346.9,515.8 347.6,515.8 348.3,515.8 349.0,515.8 349.7,515.8 350.4,515.8 351.1,515.8 351.8,515.8 352.5,515.8 353.2,515.8 353.9,515.8 354.6,515.8 355.3,515.8 356.0,515.8 356.7,515.8 357.4,515.8 358.1,515.8 358.8,515.8 359.5,515.8 360.2,515.8 360.9,515.8 361.6,515.8 362.3,515.8 363.0,515.8 363.7,515.8 364.4,515.8 365.1,515.8 365.8,515.8 366.5,515.8 367.2,515.7 367.9,515.7 368.6,515.7 369.3,515.7 370.0,515.7 370.7,515.7 371.4,515.7 372.1,515.6 372.8,515.6 373.5,515.6 374.2,515.6 374.9,515.6 375.6,515.5 376.3,515.5 377.1,515.5 377.8,515.5 378.5,515.5 379.2,515.4 379.9,515.4 380.6,515.4 381.3,515.4 382.0,515.3 382.7,515.3 383.4,515.3 384.1,515.3 384.8,515.2 385.5,515.2 386.2,515.2 386.9,515.2 387.6,515.1 388.3,515.1 389.0,515.1 389.7,515.0 390.4,515.0 391.1,515.0 391.8,514.9 392.5,514.9 393.2,514.9 393.9,514.8 394.6,514.8 395.3,514.8 396.0,514.7 396.7,514.7 397.4,514.7 398.1,514.6 398.8,514.6 399.5,514.6 400.2,514.5 400.9,514.5 401.6,514.5 402.3,514.4 403.0,514.4 403.7,514.4 404.4,514.3 405.1,514.3 405.8,514.2 406.5,514.2 407.2,514.2 407.9,514.1 408.6,514.1 409.3,514.1 410.0,514.0 410.7,514.0 411.4,513.9 412.1,513.9 412.8,513.9 413.5,513.8 414.2,513.8 414.9,513.7 415.6,513.7 416.3,513.7 417.0,513.6 417.7,513.6 418.4,513.5 419.1,513.5 419.8,513.5 420.5,513.4 421.2,513.4 421.9,513.3 422.6,513.3 423.3,513.3 424.0,513.2 424.7,513.2 425.4,513.1 426.1,513.1 426.8,513.1 427.5,513.0 428.2,513.0 428.9,512.9 429.6,512.9 430.3,512.9 431.0,512.8 431.7,512.8 432.4,512.8 433.1,512.7 433.8,512.7 434.5,512.6 435.2,512.6 435.9,512.6 436.6,512.5 437.3,512.5 438.0,512.4 438.7,512.4 439.4,512.4 440.1,512.3 440.8,512.3 441.5,512.3 442.2,512.2 442.9,512.2 443.6,512.2 444.3,512.1 445.0,512.1 445.7,512.1 446.4,512.0 447.1,512.0 447.8,512.0 448.5,511.9 449.2,511.9 449.9,511.9 450.6,511.8 451.3,511.8 452.0,511.8 452.7,511.7 453.4,511.7 454.1,511.7 454.8,511.6 455.5,511.6 456.2,511.6 456.9,511.5 457.6,511.5 458.3,511.5 459.0,511.5 459.7,511.4 460.4,511.4 461.1,511.4 461.8,511.4 462.5,511.3 463.2,511.3 463.9,511.3 464.6,511.3 465.3,511.2 466.0,511.2 466.7,511.2 467.4,511.2 468.1,511.2 468.8,511.1 469.5,511.1 470.2,511.1 470.9,511.1 471.6,511.1 472.3,511.1 473.0,511.0 473.7,511.0 474.4,511.0 475.1,511.0 475.8,511.0 476.5,511.0 477.2,511.0 477.9,511.0 478.6,510.9 479.3,510.9 480.0,510.9 480.7,510.9 481.4,510.9 482.1,510.9 482.8,510.9 483.5,510.9 484.2,510.9 484.9,510.9 485.6,510.9 486.3,510.9 487.0,510.9 487.7,510.9 488.4,510.9 489.1,510.9 489.8,510.9 490.5,510.9 491.2,510.9 491.9,510.9 492.6,510.9 493.3,510.9 494.0,510.9 494.7,510.9 495.4,511.0 496.1,511.0 496.8,511.0 497.5,511.0 498.2,511.0 498.9,511.0 499.6,511.0 500.3,511.1 501.0,511.1 501.7,511.1 502.4,511.1 503.1,511.1 503.8,511.2 504.5,511.2 505.2,511.2 505.9,511.2 506.6,511.3 507.3,511.3 508.0,511.3 508.7,511.4 509.4,511.4 510.1,511.4 510.8,511.5 511.5,511.5 512.2,511.5 512.9,511.6 513.6,511.6 514.3,511.6 515.0,511.7 515.7,511.7 516.4,511.8 517.1,511.8 517.8,511.9 518.5,511.9 519.2,512.0 519.9,512.0 520.6,512.1 521.3,512.1 522.0,512.2 522.7,512.2 523.4,512.3 524.1,512.3 524.8,512.4 525.5,512.5 526.2,512.5 526.9,512.6 527.6,512.6 528.3,512.7 529.0,512.8 529.7,512.8 530.4,512.9 531.1,513.0 531.8,513.1 532.5,513.1 533.2,513.2 533.9,513.3 534.6,513.4 535.3,513.5 536.0,513.5 536.7,513.6 537.4,513.7 538.1,513.8 538.8,513.9 539.5,514.0 540.2,514.1 540.9,514.2 541.6,514.2 542.3,514.3 543.0,514.4 543.7,514.5 544.4,514.6 545.1,514.7 545.8,514.8 546.5,514.9 547.2,515.1 547.9,515.2 548.6,515.3 549.3,515.4 550.0,515.5" stroke="#ff00ff"/>
<path d="M239.2,520.5L239.7,520.0 240.3,519.5 240.8,519.0 241.3,518.5 241.8,518.0 242.3,517.5 242.7,517.0 243.2,516.4 243.6,515.9 244.1,515.4 244.5,514.8 244.9,514.2 245.3,513.7 245.7,513.1 246.1,512.5 246.5,511.9 246.9,511.4 247.2,510.8 247.6,510.2 247.9,509.6 248.3,509.0 248.6,508.3 248.9,507.7 249.2,507.1 249.5,506.5 249.8,505.8 250.1,505.2 250.4,504.6 250.6,503.9 250.9,503.3 251.2,502.6 251.4,502.0 251.7,501.3 251.9,500.7 252.1,500.0 252.4,499.4 252.6,498.7 252.8,498.0 253.0,497.4 253.2,496.7 253.4,496.0 253.6,495.3 253.8,494.7 254.0,494.0 254.2,493.3 254.3,492.6 254.5,491.9 254.7,491.3 254.8,490.6 255.0,489.9 255.2,489.2 255.3,488.5 255.5,487.8 255.6,487.2 255.8,486.5 255.9,485.8 256.0,485.1 256.2,484.4 256.3,483.7 256.4,483.0 256.5,482.3 256.7,481.6 256.8,480.9 256.9,480.2 257.0,479.5 257.1,478.9 257.2,478.2 257.3,477.5 257.4,476.8 257.5,476.1 257.6,475.4 257.7,474.7 257.8,474.0 257.9,473.3 258.0,472.6 258.1,471.9 258.2,471.2 258.3,470.5 258.3,469.8 258.4,469.1 258.5,468.4 258.6,467.7 258.6,467.0 258.7,466.3 258.8,465.6 258.9,464.9 258.9,464.2 259.0,463.5 259.1,462.8 259.1,462.1 259.2,461.3 259.3,460.6 259.3,459.9 259.4,459.2 259.5,458.5 259.5,457.8 259.6,457.1 259.7,456.4 259.7,455.7 259.8,455.0 259.8,454.3 259.9,453.6 260.0,452.9 260.0,452.2 260.1,451.5 260.1,450.8 260.2,450.1 260.3,449.4 260.3,448.7 260.4,448.0 260.4,447.3 260.5,446.6 260.5,445.9 260.6,445.2 260.6,444.5 260.7,443.8 260.7,443.1 260.8,442.4 260.8,441.7 260.9,441.0 260.9,440.3 261.0,439.6 261.0,438.9 261.1,438.2 261.1,437.5 261.2,436.8 261.2,436.1 261.3,435.4 261.3,434.7 261.4,434.0 261.4,433.2 261.4,432.5 261.5,431.8 261.5,431.1 261.6,430.4 261.6,429.7 261.7,429.0 261.7,428.3 261.7,427.6 261.8,426.9 261.8,426.2 261.9,425.5 261.9,424.8 261.9,424.1 262.0,423.4 262.0,422.7 262.0,422.0 262.1,421.3 262.1,420.6 262.2,419.9 262.2,419.2 262.2,418.5 262.3,417.8 262.3,417.1 262.3,416.4 262.4,415.7 262.4,415.0 262.4,414.3 262.5,413.6 262.5,412.9 262.5,412.2 262.5,411.5 262.6,410.8 262.6,410.1 262.6,409.4 262.7,408.7 262.7,408.0 262.7,407.3 262.7,406.6 262.8,405.9 262.8,405.2 262.8,404.5 262.8,403.8 262.9,403.1 262.9,402.3 262.9,401.6 262.9,400.9 263.0,400.2 263.0,399.5 263.0,398.8 263.0,398.1 263.1,397.4 263.1,396.7 263.1,396.0 263.1,395.3 263.2,394.6 263.2,393.9 263.2,393.2 263.2,392.5 263.2,391.8 263.3,391.1 263.3,390.4 263.3,389.7 263.3,389.0 263.3,388.3 263.3,387.6 263.4,386.9 263.4,386.2 263.4,385.5 263.4,384.8 263.4,384.1 263.4,383.4 263.5,382.7 263.5,382.0 263.5,381.3 263.5,380.6 263.5,379.9 263.5,379.2 263.5,378.5 263.6,377.8 263.6,377.1 263.6,376.4 263.6,375.7 263.6,375.0 263.6,374.3 263.6,373.6 263.6,372.9 263.7,372.2 263.7,371.4 263.7,370.7 263.7,370.0 263.7,369.3 263.7,368.6 263.7,367.9 263.7,367.2 263.7,366.5 263.8,365.8 263.8,365.1 263.8,364.4 263.8,363.7 263.8,363.0 263.8,362.3 263.8,361.6 263.8,360.9 263.8,360.2 263.8,359.5 263.8,358.8 263.8,358.1 263.9,357.4 263.9,356.7 263.9,356.0 263.9,355.3 263.9,354.6 263.9,353.9 263.9,353.2 263.9,352.5 263.9,351.8 263.9,351.1 263.9,350.4 263.9,349.7 263.9,349.0 263.9,348.3 263.9,347.6 263.9,346.9 263.9,346.2 264.0,345.5 264.0,344.7 264.0,344.0 264.0,343.3 264.0,342.6 264.0,341.9 264.0,341.2 264.0,340.5 264.0,339.8 264.0,339.1 264.0,338.4 264.0,337.7 264.0,337.0 264.0,336.3 264.0,335.6 264.0,334.9 264.0,334.2 264.0,333.5 264.0,332.8 264.0,332.1 264.0,331.4 264.0,330.7 264.0,330.0 264.0,329.3 264.0,328.6 264.0,327.9 264.0,327.2 264.0,326.5 264.0,325.8 264.0,325.1 264.0,324.4 264.0,323.7 264.0,323.0 264.0,322.2 264.0,321.5 264.0,320.8 264.1,320.1 264.1,319.4 264.1,318.7 264.1,318.0 264.1,317.3 264.1,316.6 264.1,315.9 264.1,315.2 264.1,314.5 264.1,313.8 264.1,313.1 264.1,312.4 264.1,311.7 264.1,311.0 264.1,310.3 264.1,309.6 264.1,308.9 264.1,308.2 264.1,307.5 264.1,306.8 264.1,306.1 264.1,305.4 264.1,304.7 264.1,304.0 264.1,303.2 264.1,302.5 264.1,301.8 264.1,301.1 264.1,300.4 264.1,299.7 264.1,299.0 264.1,298.3 264.1,297.6 264.1,296.9 264.1,296.2 264.1,295.5 264.1,294.8 264.1,294.1 264.1,293.4 264.1,292.7 264.1,292.0 264.1,291.3 264.1,290.6 264.1,289.9 264.1,289.2 264.1,288.5 264.2,287.8 264.2,287.0 264.2,286.3 264.2,285.6 264.2,284.9 264.2,284.2 264.2,283.5 264.2,282.8 264.2,282.1 264.2,281.4 264.2,280.7 264.2,280.0 264.2,280.7 264.2,281.4 264.2,282.1 264.2,282.8 264.2,283.5 264.2,284.2 264.1,284.9 264.1,285.6 264.1,286.3 264.1,287.0 264.1,287.7 264.1,288.4 264.1,289.1 264.1,289.8 264.1,290.5 264.1,291.2 264.1,291.9 264.1,292.6 264.1,293.3 264.1,294.0 264.1,294.7 264.1,295.4 264.1,296.1 264.1,296.8 264.1,297.5 264.1,298.2 264.1,298.9 264.1,299.6 264.1,300.3 264.1,301.0 264.1,301.7 264.1,302.4 264.1,303.1 264.1,303.9 264.1,304.6 264.1,305.3 264.1,306.0 264.1,306.7 264.1,307.4 264.1,308.1 264.1,308.8 264.1,309.5 264.1,310.2 264.1,310.9 264.1,311.6 264.1,312.3 264.1,313.0 264.1,313.7 264.1,314.4 264.1,315.1 264.1,315.8 264.1,316.5 264.1,317.2 264.1,317.9 264.1,318.6 264.2,319.3 264.2,320.0 264.2,320.7 264.2,321.4 264.2,322.1 264.2,322.8 264.2,323.5 264.2,324.2 264.2,324.9 264.2,325.6 264.2,326.3 264.2,327.0 264.2,327.7 264.3,328.4 264.3,329.1 264.3,329.8 264.3,330.5 264.3,331.2 264.3,331.9 264.3,332.6 264.3,333.3 264.3,334.0 264.3,334.7 264.3,335.4 264.4,336.1 264.4,336.8 264.4,337.5 264.4,338.2 264.4,338.9 264.4,339.6 264.4,340.4 264.4,341.1 264.4,341.8 264.5,342.5 264.5,343.2 264.5,343.9 264.5,344.6 264.5,345.3 264.5,346.0 264.5,346.7 264.5,347.4 264.6,348.1 264.6,348.8 264.6,349.5 264.6,350.2 264.6,350.9 264.6,351.6 264.6,352.3 264.7,353.0 264.7,353.7 264.7,354.4 264.7,355.1 264.7,355.8 264.7,356.5 264.7,357.2 264.8,357.9 264.8,358.6 264.8,359.3 264.8,360.0 264.8,360.7 264.8,361.4 264.8,362.1 264.9,362.8 264.9,363.5 264.9,364.2 264.9,364.9 264.9,365.6 264.9,366.3 265.0,367.0 265.0,367.7 265.0,368.4 265.0,369.1 265.0,369.8 265.0,370.5 265.1,371.2 265.1,371.9 265.1,372.6 265.1,373.3 265.1,374.1 265.1,374.8 265.2,375.5 265.2,376.2 265.2,376.9 265.2,377.6 265.2,378.3 265.2,379.0 265.3,379.7 265.3,380.4 265.3,381.1 265.3,381.8 265.3,382.5 265.3,383.2 265.4,383.9 265.4,384.6 265.4,385.3 265.4,386.0 265.4,386.7 265.4,387.4 265.5,388.1 265.5,388.8 265.5,389.5 265.5,390.2 265.5,390.9 265.6,391.6 265.6,392.3 265.6,393.0 265.6,393.7 265.6,394.4 265.6,395.1 265.7,395.8 265.7,396.5 265.7,397.2 265.7,397.9 265.7,398.6 265.7,399.3 265.8,400.0 265.8,400.7 265.8,401.4 265.8,402.1 265.8,402.8 265.9,403.5 265.9,404.2 265.9,404.9 265.9,405.6 265.9,406.3 265.9,407.0 266.0,407.7 266.0,408.4 266.0,409.1 266.0,409.8 266.0,410.5 266.0,411.2 266.1,411.9 266.1,412.7 266.1,413.4 266.1,414.1 266.1,414.8 266.1,415.5 266.2,416.2 266.2,416.9 266.2,417.6 266.2,418.3 266.2,419.0 266.2,419.7 266.3,420.4 266.3,421.1 266.3,421.8 266.3,422.5 266.3,423.2 266.3,423.9 266.4,424.6 266.4,425.3 266.4,426.0 266.4,426.7 266.4,427.4 266.4,428.1 266.5,428.8 266.5,429.5 266.5,430.2 266.5,430.9 266.5,431.6 266.6,432.3 266.6,433.0 266.6,433.7 266.6,434.4 266.7,435.1 266.7,435.8 266.7,436.5 266.7,437.2 266.8,437.9 266.8,438.6 266.8,439.3 266.9,440.0 266.9,440.7 266.9,441.4 267.0,442.1 267.0,442.8 267.0,443.5 267.1,444.2 267.1,444.9 267.2,445.6 267.2,446.3 267.3,447.0 267.3,447.7 267.4,448.4 267.4,449.1 267.5,449.8 267.5,450.5 267.6,451.2 267.6,451.9 267.7,452.5 267.8,453.2 267.8,453.9 267.9,454.6 268.0,455.3 268.0,456.0 268.1,456.7 268.2,457.4 268.3,458.1 268.3,458.8 268.4,459.5 268.5,460.2 268.6,460.9 268.7,461.6 268.8,462.3 268.9,463.0 269.0,463.7 269.1,464.4 269.2,465.1 269.3,465.7 269.4,466.4 269.5,467.1 269.6,467.8 269.7,468.5 269.9,469.2 270.0,469.9 270.1,470.6 270.3,471.3 270.4,472.0 270.5,472.7 270.7,473.3 270.8,474.0 271.0,474.7 271.1,475.4 271.3,476.1 271.4,476.8 271.6,477.5 271.8,478.2 271.9,478.8 272.1,479.5 272.3,480.2 272.5,480.9 272.7,481.6 272.8,482.3 273.0,483.0 273.2,483.6 273.4,484.3 273.7,485.0 273.9,485.7 274.1,486.3 274.3,487.0 274.6,487.7 274.8,488.4 275.1,489.0 275.3,489.7 275.6,490.3 275.8,491.0 276.1,491.7 276.4,492.3 276.7,493.0 277.0,493.6 277.3,494.2 277.6,494.9 278.0,495.5 278.3,496.1 278.6,496.8 279.0,497.4 279.4,498.0 279.7,498.6 280.1,499.2 280.5,499.8 280.9,500.4 281.4,500.9 281.8,501.5 282.2,502.0 282.7,502.6 283.1,503.1 283.6,503.6 284.1,504.1 284.6,504.6 285.1,505.1 285.6,505.5 286.1,506.0 286.6,506.4 287.2,506.8 287.7,507.2 288.3,507.6 288.8,508.0 289.4,508.3 290.0,508.7 290.6,509.0 291.2,509.4 291.8,509.7 292.4,510.0 293.0,510.3 293.6,510.5 294.3,510.8 294.9,511.1 295.6,511.3 296.2,511.6 296.9,511.8 297.5,512.0 298.2,512.2 298.8,512.5 299.5,512.7 300.2,512.8 300.9,513.0 301.5,513.2 302.2,513.4 302.9,513.5 303.6,513.7 304.3,513.8 305.0,514.0 305.7,514.1 306.4,514.3 307.1,514.4 307.8,514.5 308.5,514.6 309.2,514.8 309.9,514.9 310.6,515.0 311.3,515.1 312.0,515.2 312.7,515.3 313.4,515.4 314.1,515.5 314.8,515.6 315.5,515.7 316.2,515.8 316.9,515.8 317.7,515.9 318.4,516.0 319.1,516.1 319.8,516.1 320.5,516.2 321.2,516.3 321.9,516.3 322.6,516.4 323.3,516.5 324.0,516.5 324.7,516.6 325.4,516.6 326.1,516.7 326.8,516.7 327.5,516.8 328.2,516.8 328.9,516.8 329.6,516.9 330.3,516.9 331.0,516.9 331.7,517.0 332.4,517.0 333.1,517.0 333.8,517.0 334.5,517.1 335.2,517.1 335.9,517.1 336.6,517.1 337.3,517.1 338.0,517.1 338.7,517.1 339.4,517.1 340.1,517.1 340.8,517.1 341.5,517.1 342.2,517.1 342.9,517.1 343.6,517.1 344.3,517.1 345.0,517.1 345.7,517.1 346.4,517.0 347.1,517.0 347.8,517.0 348.5,517.0 349.2,517.0 349.9,516.9 350.6,516.9 351.3,516.9 352.0,516.9 352.7,516.8 353.4,516.8 354.1,516.8 354.8,516.7 355.5,516.7 356.2,516.7 356.9,516.6 357.6,516.6 358.3,516.5 359.0,516.5 359.7,516.4 360.4,516.4 361.1,516.4 361.8,516.3 362.5,516.3 363.2,516.2 363.9,516.1 364.6,516.1 365.3,516.0 366.0,516.0 366.7,515.9 367.4,515.9 368.1,515.8 368.8,515.8 369.5,515.7 370.2,515.6 370.9,515.6 371.6,515.5 372.3,515.4 373.0,515.4 373.7,515.3 374.4,515.2 375.1,515.2 375.8,515.1 376.5,515.0 377.2,515.0 377.9,514.9 378.6,514.8 379.3,514.8 380.0,514.7 380.7,514.6 381.4,514.5 382.1,514.5 382.8,514.4 383.5,514.3 384.2,514.3 384.9,514.2 385.6,514.1 386.2,514.0 386.9,514.0 387.6,513.9 388.3,513.8 389.0,513.7 389.7,513.7 390.4,513.6 391.1,513.5 391.8,513.4 392.5,513.3 393.2,513.3 393.9,513.2 394.6,513.1 395.3,513.0 396.0,513.0 396.7,512.9 397.4,512.8 398.1,512.7 398.8,512.7 399.5,512.6 400.2,512.5 400.9,512.4 401.6,512.4 402.3,512.3 403.0,512.2 403.7,512.1 404.4,512.1 405.1,512.0 405.8,511.9 406.5,511.9 407.2,511.8 407.9,511.7 408.6,511.6 409.3,511.6 410.0,511.5 410.7,511.4 411.4,511.4 412.1,511.3 412.8,511.2 413.5,511.2 414.2,511.1 414.9,511.0 415.6,511.0 416.3,510.9 417.0,510.8 417.7,510.8 418.4,510.7 419.1,510.7 419.8,510.6 420.5,510.6 421.2,510.5 421.9,510.4 422.6,510.4 423.3,510.3 424.0,510.3 424.7,510.2 425.4,510.2 426.1,510.1 426.8,510.1 427.5,510.0 428.2,510.0 428.9,510.0 429.6,509.9 430.3,509.9 431.0,509.8 431.7,509.8 432.4,509.8 433.1,509.7 433.8,509.7 434.5,509.7 435.2,509.6 435.9,509.6 436.6,509.6 437.3,509.6 438.0,509.5 438.7,509.5 439.4,509.5 440.1,509.5 440.8,509.4 441.5,509.4 442.2,509.4 442.9,509.4 443.6,509.4 444.3,509.4 445.0,509.4 445.7,509.4 446.4,509.4 447.1,509.3 447.8,509.3 448.5,509.3 449.2,509.3 449.9,509.3 450.6,509.3 451.3,509.3 452.0,509.3 452.7,509.3 453.4,509.3 454.1,509.4 454.8,509.4 455.5,509.4 456.2,509.4 456.9,509.4 457.6,509.4 458.3,509.4 459.0,509.4 459.7,509.4 460.4,509.5 461.1,509.5 461.8,509.5 462.5,509.5 463.2,509.5 463.9,509.6 464.6,509.6 465.3,509.6 466.0,509.6 466.7,509.7 467.4,509.7 468.1,509.7 468.8,509.7 469.5,509.8 470.2,509.8 470.9,509.8 471.6,509.9 472.3,509.9 473.0,509.9 473.7,510.0 474.4,510.0 475.1,510.0 475.8,510.1 476.5,510.1 477.2,510.1 477.9,510.2 478.6,510.2 479.3,510.3 480.1,510.3 480.8,510.4 481.5,510.4 482.2,510.4 482.9,510.5 483.6,510.5 484.3,510.6 485.0,510.6 485.7,510.7 486.4,510.7 487.1,510.8 487.8,510.8 488.5,510.9 489.2,510.9 489.9,511.0 490.6,511.0 491.3,511.1 492.0,511.1 492.7,511.2 493.4,511.2 494.1,511.3 494.8,511.3 495.5,511.4 496.2,511.5 496.9,511.5 497.6,511.6 498.3,511.6 499.0,511.7 499.7,511.7 500.4,511.8 501.1,511.9 501.8,511.9 502.5,512.0 503.2,512.0 503.9,512.1 504.6,512.2 505.3,512.2 506.0,512.3 506.7,512.4 507.4,512.4 508.1,512.5 508.8,512.5 509.5,512.6 510.2,512.7 510.9,512.7 511.6,512.8 512.3,512.9 513.0,512.9 513.7,513.0 514.4,513.1 515.1,513.1 515.8,513.2 516.5,513.3 517.2,513.3 517.9,513.4 518.6,513.5 519.3,513.5 520.0,513.6 520.7,513.7 521.4,513.7 522.1,513.8 522.8,513.9 523.5,513.9 524.2,514.0 524.9,514.1 525.6,514.1 526.3,514.2 527.0,514.3 527.7,514.3 528.4,514.4 529.1,514.5 529.8,514.5 530.5,514.6 531.2,514.7 531.9,514.7 532.6,514.8 533.3,514.9 534.0,514.9 534.7,515.0 535.4,515.1 536.1,515.1 536.8,515.2 537.5,515.3 538.2,515.3 538.9,515.4 539.6,515.5 540.2,515.5 540.9,515.6 541.6,515.7 542.3,515.7 543.0,515.8 543.7,515.8 544.4,515.9 545.1,516.0 545.8,516.0 546.5,516.1 547.2,516.2 547.9,516.2 548.6,516.3 549.3,516.3 550.0,516.4" stroke="#6400ff"/>
<path d="M239.6,503.0L239.7,502.3 239.8,501.6 239.9,500.9 240.0,500.2 240.1,499.5 240.2,498.8 240.3,498.1 240.4,497.4 240.5,496.7 240.6,495.9 240.7,495.2 240.8,494.5 240.9,493.8 241.0,493.1 241.1,492.4 241.1,491.7 241.2,491.0 241.3,490.3 241.4,489.6 241.5,488.9 241.6,488.2 241.6,487.5 241.7,486.7 241.8,486.0 241.9,485.3 241.9,484.6 242.0,483.9 242.1,483.2 242.2,482.5 242.2,481.8 242.3,481.1 242.4,480.4 242.5,479.7 242.5,479.0 242.6,478.2 242.7,477.5 242.8,476.8 242.8,476.1 242.9,475.4 243.0,474.7 243.1,474.0 243.1,473.3 243.2,472.6 243.3,471.9 243.4,471.2 243.4,470.5 243.5,469.7 243.6,469.0 243.7,468.3 243.7,467.6 243.8,466.9 243.9,466.2 244.0,465.5 244.1,464.8 244.1,464.1 244.2,463.4 244.3,462.7 244.4,462.0 244.5,461.2 244.5,460.5 244.6,459.8 244.7,459.1 244.8,458.4 244.9,457.7 245.0,457.0 245.1,456.3 245.2,455.6 245.3,454.9 245.4,454.2 245.5,453.5 245.6,452.8 245.7,452.1 245.8,451.0 246.0,450.0 246.2,449.2 246.4,448.6 246.6,448.1 246.7,447.8 246.9,447.6 247.1,447.6 247.3,447.7 247.5,448.0 247.7,448.5 247.9,449.1 248.1,449.9 248.3,450.8 248.5,451.8 248.6,452.5 248.7,453.2 248.9,453.8 249.0,454.5 249.1,455.2 249.2,455.9 249.2,456.5 249.3,457.2 249.4,457.9 249.5,458.6 249.6,459.3 249.7,460.0 249.7,460.7 249.8,461.4 249.9,462.2 249.9,462.9 250.0,463.6 250.1,464.3 250.1,465.1 250.2,465.8 250.3,466.5 250.3,467.3 250.4,468.0 250.5,468.7 250.5,469.5 250.6,470.2 250.7,470.9 250.7,471.7 250.8,472.4 250.9,473.2 251.0,473.9 251.0,474.7 251.1,475.4 251.2,476.1 251.3,476.9 251.4,477.6 251.5,478.4 251.6,479.1 251.7,479.9 251.8,480.6 251.9,481.3 252.0,482.1 252.1,482.8 252.3,483.5 252.4,484.3 252.5,485.0 252.7,485.7 252.8,486.5 253.0,487.2 253.2,487.9 253.3,488.6 253.5,489.3 253.7,490.0 253.9,490.8 254.1,491.5 254.3,492.2 254.5,492.9 254.7,493.5 255.0,494.2 255.2,494.9 255.4,495.6 255.7,496.2 256.0,496.9 256.2,497.6 256.5,498.2 256.8,498.9 257.1,499.5 257.4,500.1 257.7,500.8 258.0,501.4 258.3,502.0 258.7,502.6 259.0,503.2 259.4,503.8 259.7,504.4 260.1,504.9 260.5,505.5 260.9,506.0 261.3,506.6 261.7,507.1 262.1,507.6 262.5,508.2 263.0,508.7 263.4,509.1 263.9,509.6 264.3,510.1 264.8,510.6 265.3,511.0 265.7,511.5 266.2,511.9 266.7,512.3 267.3,512.7 267.8,513.1 268.3,513.5 268.8,513.9 269.4,514.3 269.9,514.6 270.5,515.0 271.0,515.3 271.6,515.7 272.2,516.0 272.8,516.3 273.3,516.6 273.9,516.9 274.5,517.1 275.1,517.4 275.7,517.6 276.3,517.9 277.0,518.1 277.6,518.3 278.2,518.5 278.8,518.7 279.5,518.9 280.1,519.1 280.8,519.3 281.4,519.4 282.1,519.6 282.7,519.7 283.4,519.8 284.0,519.9 284.7,520.0 285.3,520.1 286.0,520.2 286.7,520.2 287.4,520.3 288.0,520.3 288.7,520.3 289.4,520.3 290.1,520.3 290.7,520.3 291.4,520.3 292.1,520.3 292.8,520.3 293.5,520.2 294.2,520.2 294.9,520.1 295.5,520.0 296.2,520.0 296.9,519.9 297.6,519.8 298.3,519.7 299.0,519.6 299.7,519.5 300.4,519.3 301.1,519.2 301.8,519.1 302.5,519.0 303.2,518.8 303.9,518.7 304.6,518.5 305.3,518.4 306.1,518.2 306.8,518.1 307.5,517.9 308.2,517.7 308.9,517.6 309.6,517.4 310.3,517.2 311.0,517.1 311.7,516.9 312.4,516.7 313.1,516.5 313.9,516.4 314.6,516.2 315.3,516.0 316.0,515.9 316.7,515.7 317.4,515.5 318.1,515.3 318.8,515.2 319.5,515.0 320.3,514.9 321.0,514.7 321.7,514.6 322.4,514.4 323.1,514.3 323.8,514.1 324.5,514.0 325.2,513.8 325.9,513.7 326.6,513.6 327.3,513.4 328.0,513.3 328.7,513.2 329.4,513.1 330.1,512.9 330.9,512.8 331.6,512.7 332.3,512.6 333.0,512.5 333.7,512.4 334.4,512.3 335.1,512.2 335.8,512.1 336.5,512.0 337.2,511.9 337.9,511.8 338.6,511.7 339.3,511.6 340.0,511.5 340.7,511.4 341.4,511.4 342.1,511.3 342.8,511.2 343.5,511.1 344.2,511.1 344.9,511.0 345.6,510.9 346.3,510.9 347.0,510.8 347.7,510.7 348.4,510.7 349.1,510.6 349.8,510.6 350.5,510.5 351.2,510.5 351.9,510.4 352.6,510.4 353.3,510.3 354.0,510.3 354.7,510.2 355.4,510.2 356.1,510.2 356.8,510.1 357.5,510.1 358.2,510.0 358.9,510.0 359.5,510.0 360.2,510.0 360.9,509.9 361.6,509.9 362.3,509.9 363.0,509.9 363.7,509.8 364.4,509.8 365.1,509.8 365.8,509.8 366.5,509.8 367.2,509.8 367.9,509.8 368.6,509.8 369.3,509.7 370.0,509.7 370.7,509.7 371.4,509.7 372.1,509.7 372.8,509.7 373.4,509.7 374.1,509.7 374.8,509.7 375.5,509.7 376.2,509.7 376.9,509.7 377.6,509.7 378.3,509.8 379.0,509.8 379.7,509.8 380.4,509.8 381.1,509.8 381.8,509.8 382.5,509.8 383.2,509.8 383.9,509.9 384.6,509.9 385.2,509.9 385.9,509.9 386.6,509.9 387.3,509.9 388.0,510.0 388.7,510.0 389.4,510.0 390.1,510.0 390.8,510.1 391.5,510.1 392.2,510.1 392.9,510.1 393.6,510.2 394.3,510.2 395.0,510.2 395.7,510.2 396.3,510.3 397.0,510.3 397.7,510.3 398.4,510.3 399.1,510.4 399.8,510.4 400.5,510.4 401.2,510.5 401.9,510.5 402.6,510.5 403.3,510.6 404.0,510.6 404.7,510.6 405.4,510.7 406.1,510.7 406.8,510.7 407.5,510.8 408.2,510.8 408.9,510.8 409.5,510.9 410.2,510.9 410.9,510.9 411.6,511.0 412.3,511.0 413.0,511.0 413.7,511.1 414.4,511.1 415.1,511.1 415.8,511.2 416.5,511.2 417.2,511.2 417.9,511.3 418.6,511.3 419.3,511.3 420.0,511.3 420.7,511.4 421.4,511.4 422.1,511.4 422.8,511.5 423.5,511.5 424.2,511.5 424.9,511.6 425.6,511.6 426.3,511.6 427.0,511.6 427.7,511.7 428.4,511.7 429.1,511.7 429.8,511.7 430.5,511.8 431.2,511.8 431.9,511.8 432.6,511.9 433.3,511.9 434.0,511.9 434.7,511.9 435.4,511.9 436.1,512.0 436.8,512.0 437.5,512.0 438.2,512.0 438.9,512.1 439.6,512.1 440.3,512.1 441.0,512.1 441.7,512.1 442.4,512.2 443.1,512.2 443.8,512.2 444.5,512.2 445.2,512.3 446.0,512.3 446.7,512.3 447.4,512.3 448.1,512.3 448.8,512.3 449.5,512.4 450.2,512.4 450.9,512.4 451.6,512.4 452.3,512.4 453.0,512.5 453.7,512.5 454.4,512.5 455.1,512.5 455.8,512.5 456.5,512.5 457.2,512.6 457.9,512.6 458.6,512.6 459.3,512.6 460.0,512.6 460.8,512.6 461.5,512.7 462.2,512.7 462.9,512.7 463.6,512.7 464.3,512.7 465.0,512.7 465.7,512.8 466.4,512.8 467.1,512.8 467.8,512.8 468.5,512.8 469.2,512.8 469.9,512.8 470.6,512.9 471.3,512.9 472.1,512.9 472.8,512.9 473.5,512.9 474.2,512.9 474.9,512.9 475.6,513.0 476.3,513.0 477.0,513.0 477.7,513.0 478.4,513.0 479.1,513.0 479.8,513.0 480.5,513.1 481.2,513.1 481.9,513.1 482.6,513.1 483.4,513.1 484.1,513.1 484.8,513.1 485.5,513.2 486.2,513.2 486.9,513.2 487.6,513.2 488.3,513.2 489.0,513.2 489.7,513.2 490.4,513.3 491.1,513.3 491.8,513.3 492.5,513.3 493.2,513.3 493.9,513.3 494.7,513.3 495.4,513.4 496.1,513.4 496.8,513.4 497.5,513.4 498.2,513.4 498.9,513.4 499.6,513.5 500.3,513.5 501.0,513.5 501.7,513.5 502.4,513.5 503.1,513.5 503.8,513.6 504.5,513.6 505.2,513.6 505.9,513.6 506.6,513.6 507.3,513.6 508.0,513.7 508.8,513.7 509.5,513.7 510.2,513.7 510.9,513.7 511.6,513.7 512.3,513.8 513.0,513.8 513.7,513.8 514.4,513.8 515.1,513.8 515.8,513.9 516.5,513.9 517.2,513.9 517.9,513.9 518.6,513.9 519.3,514.0 520.0,514.0 520.7,514.0 521.4,514.0 522.1,514.1 522.8,514.1 523.5,514.1 524.2,514.1 524.9,514.1 525.6,514.2 526.3,514.2 527.0,514.2 527.7,514.2 528.4,514.3 529.1,514.3 529.8,514.3 530.5,514.3 531.2,514.4 531.9,514.4 532.6,514.4 533.3,514.4 534.0,514.5 534.7,514.5 535.4,514.5 536.1,514.6 536.8,514.6 537.5,514.6 538.2,514.6 538.9,514.7 539.6,514.7 540.3,514.7 541.0,514.8 541.7,514.8 542.4,514.8 543.1,514.9 543.8,514.9 544.4,514.9 545.1,515.0 545.8,515.0 546.5,515.0 547.2,515.1 547.9,515.1 548.6,515.1 549.3,515.2 550.0,515.2" stroke="#707000"/>
</g>
<path d="M239.20,487.88H550.00" stroke="#000" stroke-width="2.6"/>
<path d="M462.00,312.30H489.20" stroke="#ff0000" stroke-width="2.8"/>
<text x="492.00" y="316.60" font-size="12">1.6</text>
<text x="520.00" y="316.60" font-size="12">mm</text>
<path d="M462.00,328.20H489.20" stroke="#00f800" stroke-width="2.8"/>
<text x="492.00" y="332.50" font-size="12">2.0</text>
<text x="520.00" y="332.50" font-size="12">mm</text>
<path d="M462.00,344.10H489.20" stroke="#0000ff" stroke-width="2.8"/>
<text x="492.00" y="348.40" font-size="12">2.5</text>
<text x="520.00" y="348.40" font-size="12">mm</text>
<path d="M462.00,360.00H489.20" stroke="#00ffff" stroke-width="2.8"/>
<text x="492.00" y="364.30" font-size="12">3.0</text>
<text x="520.00" y="364.30" font-size="12">mm</text>
<path d="M462.00,375.90H489.20" stroke="#ff00ff" stroke-width="2.8"/>
<text x="492.00" y="380.20" font-size="12">3.5</text>
<text x="520.00" y="380.20" font-size="12">mm</text>
<path d="M462.00,391.80H489.20" stroke="#6400ff" stroke-width="2.8"/>
<text x="492.00" y="396.10" font-size="12">3.74</text>
<text x="520.00" y="396.10" font-size="12">mm</text>
<path d="M462.00,407.70H489.20" stroke="#707000" stroke-width="2.8"/>
<text x="492.00" y="412.00" font-size="12">5.0</text>
<text x="520.00" y="412.00" font-size="12">mm</text>
<text x="394.60" y="573.60" font-size="14.5" text-anchor="middle">Frequency (GHz)</text>
<text transform="translate(205.10,420.40) rotate(-90)" font-size="15" text-anchor="middle">Reflection loss (-dB)</text>
<text x="178.60" y="314.80" font-size="22.5">(c)</text>
</svg></body></html>
